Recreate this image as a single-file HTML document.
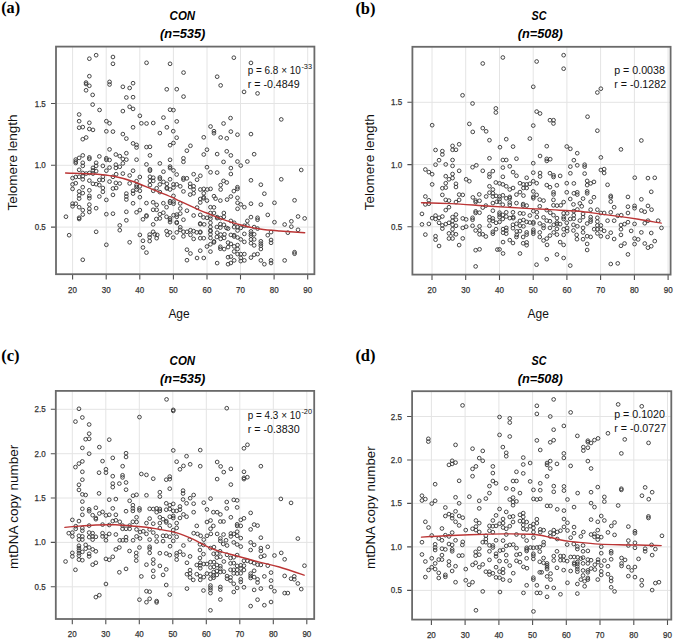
<!DOCTYPE html><html><head><meta charset="utf-8"><style>html,body{margin:0;padding:0;background:#fff;width:675px;height:642px;overflow:hidden}svg{display:block}</style></head><body>
<svg width="675" height="642" viewBox="0 0 675 642">
<rect width="675" height="642" fill="#fff"/>
<path d="M72.6 46.6V274.2 M106.2 46.6V274.2 M139.8 46.6V274.2 M173.4 46.6V274.2 M207.0 46.6V274.2 M240.5 46.6V274.2 M274.1 46.6V274.2 M307.7 46.6V274.2 M56.0 227.1H314.4 M56.0 165.3H314.4 M56.0 103.5H314.4" stroke="#e4e4e4" stroke-width="1" fill="none"/>
<path d="M432.0 46.8V274.6 M465.7 46.8V274.6 M499.5 46.8V274.6 M533.2 46.8V274.6 M566.9 46.8V274.6 M600.6 46.8V274.6 M634.4 46.8V274.6 M668.1 46.8V274.6 M412.4 226.8H670.6 M412.4 164.6H670.6 M412.4 102.3H670.6" stroke="#e4e4e4" stroke-width="1" fill="none"/>
<path d="M72.3 390.9V619.0 M105.8 390.9V619.0 M139.3 390.9V619.0 M172.8 390.9V619.0 M206.3 390.9V619.0 M239.8 390.9V619.0 M273.3 390.9V619.0 M306.8 390.9V619.0 M55.8 586.8H314.2 M55.8 542.4H314.2 M55.8 498.0H314.2 M55.8 453.7H314.2 M55.8 409.3H314.2" stroke="#e4e4e4" stroke-width="1" fill="none"/>
<path d="M431.4 391.2V619.6 M465.1 391.2V619.6 M498.9 391.2V619.6 M532.6 391.2V619.6 M566.3 391.2V619.6 M600.0 391.2V619.6 M633.8 391.2V619.6 M667.5 391.2V619.6 M412.1 590.4H671.3 M412.1 546.9H671.3 M412.1 503.4H671.3 M412.1 460.0H671.3 M412.1 416.5H671.3" stroke="#e4e4e4" stroke-width="1" fill="none"/>
<path d="M94.3 55.2a1.85 1.85 0 1 0 3.7 0a1.85 1.85 0 1 0 -3.7 0M87.5 58.7a1.85 1.85 0 1 0 3.7 0a1.85 1.85 0 1 0 -3.7 0M111.1 57.0a1.85 1.85 0 1 0 3.7 0a1.85 1.85 0 1 0 -3.7 0M111.1 63.8a1.85 1.85 0 1 0 3.7 0a1.85 1.85 0 1 0 -3.7 0M87.5 76.2a1.85 1.85 0 1 0 3.7 0a1.85 1.85 0 1 0 -3.7 0M84.2 82.6a1.85 1.85 0 1 0 3.7 0a1.85 1.85 0 1 0 -3.7 0M84.2 84.0a1.85 1.85 0 1 0 3.7 0a1.85 1.85 0 1 0 -3.7 0M87.5 85.8a1.85 1.85 0 1 0 3.7 0a1.85 1.85 0 1 0 -3.7 0M84.2 90.3a1.85 1.85 0 1 0 3.7 0a1.85 1.85 0 1 0 -3.7 0M107.7 81.9a1.85 1.85 0 1 0 3.7 0a1.85 1.85 0 1 0 -3.7 0M107.7 84.5a1.85 1.85 0 1 0 3.7 0a1.85 1.85 0 1 0 -3.7 0M131.2 83.2a1.85 1.85 0 1 0 3.7 0a1.85 1.85 0 1 0 -3.7 0M121.0 86.8a1.85 1.85 0 1 0 3.7 0a1.85 1.85 0 1 0 -3.7 0M127.8 88.0a1.85 1.85 0 1 0 3.7 0a1.85 1.85 0 1 0 -3.7 0M90.8 94.9a1.85 1.85 0 1 0 3.7 0a1.85 1.85 0 1 0 -3.7 0M124.5 97.5a1.85 1.85 0 1 0 3.7 0a1.85 1.85 0 1 0 -3.7 0M131.2 97.2a1.85 1.85 0 1 0 3.7 0a1.85 1.85 0 1 0 -3.7 0M90.8 104.6a1.85 1.85 0 1 0 3.7 0a1.85 1.85 0 1 0 -3.7 0M97.7 110.0a1.85 1.85 0 1 0 3.7 0a1.85 1.85 0 1 0 -3.7 0M127.8 106.8a1.85 1.85 0 1 0 3.7 0a1.85 1.85 0 1 0 -3.7 0M131.2 108.9a1.85 1.85 0 1 0 3.7 0a1.85 1.85 0 1 0 -3.7 0M121.0 111.1a1.85 1.85 0 1 0 3.7 0a1.85 1.85 0 1 0 -3.7 0M77.3 114.5a1.85 1.85 0 1 0 3.7 0a1.85 1.85 0 1 0 -3.7 0M138.0 115.8a1.85 1.85 0 1 0 3.7 0a1.85 1.85 0 1 0 -3.7 0M77.3 121.2a1.85 1.85 0 1 0 3.7 0a1.85 1.85 0 1 0 -3.7 0M104.5 121.2a1.85 1.85 0 1 0 3.7 0a1.85 1.85 0 1 0 -3.7 0M144.7 62.8a1.85 1.85 0 1 0 3.7 0a1.85 1.85 0 1 0 -3.7 0M168.2 63.8a1.85 1.85 0 1 0 3.7 0a1.85 1.85 0 1 0 -3.7 0M181.7 72.6a1.85 1.85 0 1 0 3.7 0a1.85 1.85 0 1 0 -3.7 0M215.3 76.7a1.85 1.85 0 1 0 3.7 0a1.85 1.85 0 1 0 -3.7 0M218.8 85.4a1.85 1.85 0 1 0 3.7 0a1.85 1.85 0 1 0 -3.7 0M164.9 89.3a1.85 1.85 0 1 0 3.7 0a1.85 1.85 0 1 0 -3.7 0M174.9 89.2a1.85 1.85 0 1 0 3.7 0a1.85 1.85 0 1 0 -3.7 0M181.7 96.6a1.85 1.85 0 1 0 3.7 0a1.85 1.85 0 1 0 -3.7 0M168.2 109.7a1.85 1.85 0 1 0 3.7 0a1.85 1.85 0 1 0 -3.7 0M171.6 110.1a1.85 1.85 0 1 0 3.7 0a1.85 1.85 0 1 0 -3.7 0M161.6 117.6a1.85 1.85 0 1 0 3.7 0a1.85 1.85 0 1 0 -3.7 0M174.9 121.4a1.85 1.85 0 1 0 3.7 0a1.85 1.85 0 1 0 -3.7 0M232.0 57.7a1.85 1.85 0 1 0 3.7 0a1.85 1.85 0 1 0 -3.7 0M249.1 62.9a1.85 1.85 0 1 0 3.7 0a1.85 1.85 0 1 0 -3.7 0M242.2 91.9a1.85 1.85 0 1 0 3.7 0a1.85 1.85 0 1 0 -3.7 0M255.7 93.4a1.85 1.85 0 1 0 3.7 0a1.85 1.85 0 1 0 -3.7 0M228.7 118.1a1.85 1.85 0 1 0 3.7 0a1.85 1.85 0 1 0 -3.7 0M279.4 119.4a1.85 1.85 0 1 0 3.7 0a1.85 1.85 0 1 0 -3.7 0M87.5 122.8a1.85 1.85 0 1 0 3.7 0a1.85 1.85 0 1 0 -3.7 0M107.7 123.3a1.85 1.85 0 1 0 3.7 0a1.85 1.85 0 1 0 -3.7 0M139.5 123.3a1.85 1.85 0 1 0 3.7 0a1.85 1.85 0 1 0 -3.7 0M77.3 127.7a1.85 1.85 0 1 0 3.7 0a1.85 1.85 0 1 0 -3.7 0M80.9 127.1a1.85 1.85 0 1 0 3.7 0a1.85 1.85 0 1 0 -3.7 0M87.5 129.0a1.85 1.85 0 1 0 3.7 0a1.85 1.85 0 1 0 -3.7 0M91.1 129.9a1.85 1.85 0 1 0 3.7 0a1.85 1.85 0 1 0 -3.7 0M104.5 131.3a1.85 1.85 0 1 0 3.7 0a1.85 1.85 0 1 0 -3.7 0M111.1 131.6a1.85 1.85 0 1 0 3.7 0a1.85 1.85 0 1 0 -3.7 0M131.2 127.3a1.85 1.85 0 1 0 3.7 0a1.85 1.85 0 1 0 -3.7 0M121.0 134.1a1.85 1.85 0 1 0 3.7 0a1.85 1.85 0 1 0 -3.7 0M124.5 138.6a1.85 1.85 0 1 0 3.7 0a1.85 1.85 0 1 0 -3.7 0M80.9 139.2a1.85 1.85 0 1 0 3.7 0a1.85 1.85 0 1 0 -3.7 0M84.3 137.5a1.85 1.85 0 1 0 3.7 0a1.85 1.85 0 1 0 -3.7 0M131.2 143.4a1.85 1.85 0 1 0 3.7 0a1.85 1.85 0 1 0 -3.7 0M134.7 144.9a1.85 1.85 0 1 0 3.7 0a1.85 1.85 0 1 0 -3.7 0M134.7 147.5a1.85 1.85 0 1 0 3.7 0a1.85 1.85 0 1 0 -3.7 0M107.7 149.4a1.85 1.85 0 1 0 3.7 0a1.85 1.85 0 1 0 -3.7 0M114.0 154.5a1.85 1.85 0 1 0 3.7 0a1.85 1.85 0 1 0 -3.7 0M117.9 156.1a1.85 1.85 0 1 0 3.7 0a1.85 1.85 0 1 0 -3.7 0M121.0 158.9a1.85 1.85 0 1 0 3.7 0a1.85 1.85 0 1 0 -3.7 0M124.5 159.6a1.85 1.85 0 1 0 3.7 0a1.85 1.85 0 1 0 -3.7 0M124.5 153.2a1.85 1.85 0 1 0 3.7 0a1.85 1.85 0 1 0 -3.7 0M80.9 155.4a1.85 1.85 0 1 0 3.7 0a1.85 1.85 0 1 0 -3.7 0M77.3 157.9a1.85 1.85 0 1 0 3.7 0a1.85 1.85 0 1 0 -3.7 0M73.9 159.6a1.85 1.85 0 1 0 3.7 0a1.85 1.85 0 1 0 -3.7 0M73.9 161.5a1.85 1.85 0 1 0 3.7 0a1.85 1.85 0 1 0 -3.7 0M73.9 163.0a1.85 1.85 0 1 0 3.7 0a1.85 1.85 0 1 0 -3.7 0M87.5 157.4a1.85 1.85 0 1 0 3.7 0a1.85 1.85 0 1 0 -3.7 0M87.5 158.9a1.85 1.85 0 1 0 3.7 0a1.85 1.85 0 1 0 -3.7 0M97.5 156.4a1.85 1.85 0 1 0 3.7 0a1.85 1.85 0 1 0 -3.7 0M104.5 158.3a1.85 1.85 0 1 0 3.7 0a1.85 1.85 0 1 0 -3.7 0M104.5 159.8a1.85 1.85 0 1 0 3.7 0a1.85 1.85 0 1 0 -3.7 0M107.7 160.0a1.85 1.85 0 1 0 3.7 0a1.85 1.85 0 1 0 -3.7 0M134.7 159.7a1.85 1.85 0 1 0 3.7 0a1.85 1.85 0 1 0 -3.7 0M80.9 162.8a1.85 1.85 0 1 0 3.7 0a1.85 1.85 0 1 0 -3.7 0M80.9 165.9a1.85 1.85 0 1 0 3.7 0a1.85 1.85 0 1 0 -3.7 0M94.3 162.8a1.85 1.85 0 1 0 3.7 0a1.85 1.85 0 1 0 -3.7 0M94.3 165.9a1.85 1.85 0 1 0 3.7 0a1.85 1.85 0 1 0 -3.7 0M77.3 169.8a1.85 1.85 0 1 0 3.7 0a1.85 1.85 0 1 0 -3.7 0M91.1 167.9a1.85 1.85 0 1 0 3.7 0a1.85 1.85 0 1 0 -3.7 0M91.1 170.4a1.85 1.85 0 1 0 3.7 0a1.85 1.85 0 1 0 -3.7 0M94.3 171.1a1.85 1.85 0 1 0 3.7 0a1.85 1.85 0 1 0 -3.7 0M101.0 165.9a1.85 1.85 0 1 0 3.7 0a1.85 1.85 0 1 0 -3.7 0M107.7 167.6a1.85 1.85 0 1 0 3.7 0a1.85 1.85 0 1 0 -3.7 0M104.5 170.7a1.85 1.85 0 1 0 3.7 0a1.85 1.85 0 1 0 -3.7 0M114.0 164.7a1.85 1.85 0 1 0 3.7 0a1.85 1.85 0 1 0 -3.7 0M114.0 167.9a1.85 1.85 0 1 0 3.7 0a1.85 1.85 0 1 0 -3.7 0M117.9 166.8a1.85 1.85 0 1 0 3.7 0a1.85 1.85 0 1 0 -3.7 0M121.0 163.4a1.85 1.85 0 1 0 3.7 0a1.85 1.85 0 1 0 -3.7 0M131.2 170.7a1.85 1.85 0 1 0 3.7 0a1.85 1.85 0 1 0 -3.7 0M80.9 173.0a1.85 1.85 0 1 0 3.7 0a1.85 1.85 0 1 0 -3.7 0M84.3 173.6a1.85 1.85 0 1 0 3.7 0a1.85 1.85 0 1 0 -3.7 0M87.5 173.0a1.85 1.85 0 1 0 3.7 0a1.85 1.85 0 1 0 -3.7 0M91.1 173.6a1.85 1.85 0 1 0 3.7 0a1.85 1.85 0 1 0 -3.7 0M70.7 178.1a1.85 1.85 0 1 0 3.7 0a1.85 1.85 0 1 0 -3.7 0M73.9 177.0a1.85 1.85 0 1 0 3.7 0a1.85 1.85 0 1 0 -3.7 0M77.3 176.8a1.85 1.85 0 1 0 3.7 0a1.85 1.85 0 1 0 -3.7 0M80.9 176.2a1.85 1.85 0 1 0 3.7 0a1.85 1.85 0 1 0 -3.7 0M80.9 179.3a1.85 1.85 0 1 0 3.7 0a1.85 1.85 0 1 0 -3.7 0M97.5 180.0a1.85 1.85 0 1 0 3.7 0a1.85 1.85 0 1 0 -3.7 0M101.0 176.8a1.85 1.85 0 1 0 3.7 0a1.85 1.85 0 1 0 -3.7 0M101.0 180.0a1.85 1.85 0 1 0 3.7 0a1.85 1.85 0 1 0 -3.7 0M111.1 176.8a1.85 1.85 0 1 0 3.7 0a1.85 1.85 0 1 0 -3.7 0M114.3 174.2a1.85 1.85 0 1 0 3.7 0a1.85 1.85 0 1 0 -3.7 0M121.0 173.6a1.85 1.85 0 1 0 3.7 0a1.85 1.85 0 1 0 -3.7 0M127.8 175.5a1.85 1.85 0 1 0 3.7 0a1.85 1.85 0 1 0 -3.7 0M138.0 177.0a1.85 1.85 0 1 0 3.7 0a1.85 1.85 0 1 0 -3.7 0M70.7 184.4a1.85 1.85 0 1 0 3.7 0a1.85 1.85 0 1 0 -3.7 0M73.9 183.2a1.85 1.85 0 1 0 3.7 0a1.85 1.85 0 1 0 -3.7 0M87.5 180.6a1.85 1.85 0 1 0 3.7 0a1.85 1.85 0 1 0 -3.7 0M91.1 183.8a1.85 1.85 0 1 0 3.7 0a1.85 1.85 0 1 0 -3.7 0M94.3 184.2a1.85 1.85 0 1 0 3.7 0a1.85 1.85 0 1 0 -3.7 0M97.5 185.1a1.85 1.85 0 1 0 3.7 0a1.85 1.85 0 1 0 -3.7 0M107.7 181.6a1.85 1.85 0 1 0 3.7 0a1.85 1.85 0 1 0 -3.7 0M114.0 182.9a1.85 1.85 0 1 0 3.7 0a1.85 1.85 0 1 0 -3.7 0M117.9 183.5a1.85 1.85 0 1 0 3.7 0a1.85 1.85 0 1 0 -3.7 0M127.8 183.4a1.85 1.85 0 1 0 3.7 0a1.85 1.85 0 1 0 -3.7 0M134.7 181.2a1.85 1.85 0 1 0 3.7 0a1.85 1.85 0 1 0 -3.7 0M70.7 188.9a1.85 1.85 0 1 0 3.7 0a1.85 1.85 0 1 0 -3.7 0M80.9 187.2a1.85 1.85 0 1 0 3.7 0a1.85 1.85 0 1 0 -3.7 0M101.0 188.0a1.85 1.85 0 1 0 3.7 0a1.85 1.85 0 1 0 -3.7 0M101.0 191.8a1.85 1.85 0 1 0 3.7 0a1.85 1.85 0 1 0 -3.7 0M111.1 188.5a1.85 1.85 0 1 0 3.7 0a1.85 1.85 0 1 0 -3.7 0M114.3 188.0a1.85 1.85 0 1 0 3.7 0a1.85 1.85 0 1 0 -3.7 0M134.7 185.1a1.85 1.85 0 1 0 3.7 0a1.85 1.85 0 1 0 -3.7 0M134.7 187.0a1.85 1.85 0 1 0 3.7 0a1.85 1.85 0 1 0 -3.7 0M138.0 186.3a1.85 1.85 0 1 0 3.7 0a1.85 1.85 0 1 0 -3.7 0M134.7 189.5a1.85 1.85 0 1 0 3.7 0a1.85 1.85 0 1 0 -3.7 0M138.0 190.8a1.85 1.85 0 1 0 3.7 0a1.85 1.85 0 1 0 -3.7 0M77.3 191.4a1.85 1.85 0 1 0 3.7 0a1.85 1.85 0 1 0 -3.7 0M80.9 193.1a1.85 1.85 0 1 0 3.7 0a1.85 1.85 0 1 0 -3.7 0M87.5 190.3a1.85 1.85 0 1 0 3.7 0a1.85 1.85 0 1 0 -3.7 0M131.2 190.8a1.85 1.85 0 1 0 3.7 0a1.85 1.85 0 1 0 -3.7 0M131.2 193.6a1.85 1.85 0 1 0 3.7 0a1.85 1.85 0 1 0 -3.7 0M124.5 193.6a1.85 1.85 0 1 0 3.7 0a1.85 1.85 0 1 0 -3.7 0M77.3 195.3a1.85 1.85 0 1 0 3.7 0a1.85 1.85 0 1 0 -3.7 0M87.5 195.9a1.85 1.85 0 1 0 3.7 0a1.85 1.85 0 1 0 -3.7 0M97.5 196.5a1.85 1.85 0 1 0 3.7 0a1.85 1.85 0 1 0 -3.7 0M111.1 194.9a1.85 1.85 0 1 0 3.7 0a1.85 1.85 0 1 0 -3.7 0M124.5 196.5a1.85 1.85 0 1 0 3.7 0a1.85 1.85 0 1 0 -3.7 0M138.0 197.2a1.85 1.85 0 1 0 3.7 0a1.85 1.85 0 1 0 -3.7 0M144.7 123.5a1.85 1.85 0 1 0 3.7 0a1.85 1.85 0 1 0 -3.7 0M151.4 123.0a1.85 1.85 0 1 0 3.7 0a1.85 1.85 0 1 0 -3.7 0M221.7 123.5a1.85 1.85 0 1 0 3.7 0a1.85 1.85 0 1 0 -3.7 0M165.0 127.3a1.85 1.85 0 1 0 3.7 0a1.85 1.85 0 1 0 -3.7 0M158.0 133.1a1.85 1.85 0 1 0 3.7 0a1.85 1.85 0 1 0 -3.7 0M171.4 131.2a1.85 1.85 0 1 0 3.7 0a1.85 1.85 0 1 0 -3.7 0M174.8 137.7a1.85 1.85 0 1 0 3.7 0a1.85 1.85 0 1 0 -3.7 0M208.7 126.5a1.85 1.85 0 1 0 3.7 0a1.85 1.85 0 1 0 -3.7 0M212.1 131.2a1.85 1.85 0 1 0 3.7 0a1.85 1.85 0 1 0 -3.7 0M212.1 133.2a1.85 1.85 0 1 0 3.7 0a1.85 1.85 0 1 0 -3.7 0M201.9 137.3a1.85 1.85 0 1 0 3.7 0a1.85 1.85 0 1 0 -3.7 0M218.8 137.5a1.85 1.85 0 1 0 3.7 0a1.85 1.85 0 1 0 -3.7 0M224.9 138.3a1.85 1.85 0 1 0 3.7 0a1.85 1.85 0 1 0 -3.7 0M168.2 145.2a1.85 1.85 0 1 0 3.7 0a1.85 1.85 0 1 0 -3.7 0M171.6 143.0a1.85 1.85 0 1 0 3.7 0a1.85 1.85 0 1 0 -3.7 0M144.6 147.1a1.85 1.85 0 1 0 3.7 0a1.85 1.85 0 1 0 -3.7 0M148.1 146.8a1.85 1.85 0 1 0 3.7 0a1.85 1.85 0 1 0 -3.7 0M188.6 145.8a1.85 1.85 0 1 0 3.7 0a1.85 1.85 0 1 0 -3.7 0M185.0 150.7a1.85 1.85 0 1 0 3.7 0a1.85 1.85 0 1 0 -3.7 0M205.1 149.7a1.85 1.85 0 1 0 3.7 0a1.85 1.85 0 1 0 -3.7 0M201.9 154.5a1.85 1.85 0 1 0 3.7 0a1.85 1.85 0 1 0 -3.7 0M215.3 154.1a1.85 1.85 0 1 0 3.7 0a1.85 1.85 0 1 0 -3.7 0M224.9 151.3a1.85 1.85 0 1 0 3.7 0a1.85 1.85 0 1 0 -3.7 0M148.1 155.4a1.85 1.85 0 1 0 3.7 0a1.85 1.85 0 1 0 -3.7 0M181.6 158.3a1.85 1.85 0 1 0 3.7 0a1.85 1.85 0 1 0 -3.7 0M181.6 161.8a1.85 1.85 0 1 0 3.7 0a1.85 1.85 0 1 0 -3.7 0M168.2 159.8a1.85 1.85 0 1 0 3.7 0a1.85 1.85 0 1 0 -3.7 0M158.0 163.4a1.85 1.85 0 1 0 3.7 0a1.85 1.85 0 1 0 -3.7 0M144.6 164.4a1.85 1.85 0 1 0 3.7 0a1.85 1.85 0 1 0 -3.7 0M221.7 161.9a1.85 1.85 0 1 0 3.7 0a1.85 1.85 0 1 0 -3.7 0M148.1 169.4a1.85 1.85 0 1 0 3.7 0a1.85 1.85 0 1 0 -3.7 0M148.1 170.7a1.85 1.85 0 1 0 3.7 0a1.85 1.85 0 1 0 -3.7 0M168.2 166.6a1.85 1.85 0 1 0 3.7 0a1.85 1.85 0 1 0 -3.7 0M168.2 168.1a1.85 1.85 0 1 0 3.7 0a1.85 1.85 0 1 0 -3.7 0M171.6 170.4a1.85 1.85 0 1 0 3.7 0a1.85 1.85 0 1 0 -3.7 0M161.6 171.7a1.85 1.85 0 1 0 3.7 0a1.85 1.85 0 1 0 -3.7 0M174.8 174.5a1.85 1.85 0 1 0 3.7 0a1.85 1.85 0 1 0 -3.7 0M205.1 167.2a1.85 1.85 0 1 0 3.7 0a1.85 1.85 0 1 0 -3.7 0M208.7 172.3a1.85 1.85 0 1 0 3.7 0a1.85 1.85 0 1 0 -3.7 0M215.3 172.6a1.85 1.85 0 1 0 3.7 0a1.85 1.85 0 1 0 -3.7 0M191.8 174.2a1.85 1.85 0 1 0 3.7 0a1.85 1.85 0 1 0 -3.7 0M198.5 175.8a1.85 1.85 0 1 0 3.7 0a1.85 1.85 0 1 0 -3.7 0M195.2 179.7a1.85 1.85 0 1 0 3.7 0a1.85 1.85 0 1 0 -3.7 0M148.1 176.8a1.85 1.85 0 1 0 3.7 0a1.85 1.85 0 1 0 -3.7 0M151.4 177.7a1.85 1.85 0 1 0 3.7 0a1.85 1.85 0 1 0 -3.7 0M148.1 180.9a1.85 1.85 0 1 0 3.7 0a1.85 1.85 0 1 0 -3.7 0M151.4 180.9a1.85 1.85 0 1 0 3.7 0a1.85 1.85 0 1 0 -3.7 0M158.0 177.4a1.85 1.85 0 1 0 3.7 0a1.85 1.85 0 1 0 -3.7 0M158.0 178.9a1.85 1.85 0 1 0 3.7 0a1.85 1.85 0 1 0 -3.7 0M158.0 184.4a1.85 1.85 0 1 0 3.7 0a1.85 1.85 0 1 0 -3.7 0M168.2 179.3a1.85 1.85 0 1 0 3.7 0a1.85 1.85 0 1 0 -3.7 0M181.6 178.1a1.85 1.85 0 1 0 3.7 0a1.85 1.85 0 1 0 -3.7 0M181.6 179.6a1.85 1.85 0 1 0 3.7 0a1.85 1.85 0 1 0 -3.7 0M185.0 178.3a1.85 1.85 0 1 0 3.7 0a1.85 1.85 0 1 0 -3.7 0M161.6 181.9a1.85 1.85 0 1 0 3.7 0a1.85 1.85 0 1 0 -3.7 0M165.0 183.8a1.85 1.85 0 1 0 3.7 0a1.85 1.85 0 1 0 -3.7 0M165.0 187.6a1.85 1.85 0 1 0 3.7 0a1.85 1.85 0 1 0 -3.7 0M165.0 188.5a1.85 1.85 0 1 0 3.7 0a1.85 1.85 0 1 0 -3.7 0M171.6 184.4a1.85 1.85 0 1 0 3.7 0a1.85 1.85 0 1 0 -3.7 0M174.8 184.4a1.85 1.85 0 1 0 3.7 0a1.85 1.85 0 1 0 -3.7 0M178.4 186.3a1.85 1.85 0 1 0 3.7 0a1.85 1.85 0 1 0 -3.7 0M148.1 185.1a1.85 1.85 0 1 0 3.7 0a1.85 1.85 0 1 0 -3.7 0M151.4 190.8a1.85 1.85 0 1 0 3.7 0a1.85 1.85 0 1 0 -3.7 0M154.8 188.2a1.85 1.85 0 1 0 3.7 0a1.85 1.85 0 1 0 -3.7 0M158.0 192.1a1.85 1.85 0 1 0 3.7 0a1.85 1.85 0 1 0 -3.7 0M168.2 189.5a1.85 1.85 0 1 0 3.7 0a1.85 1.85 0 1 0 -3.7 0M171.6 187.6a1.85 1.85 0 1 0 3.7 0a1.85 1.85 0 1 0 -3.7 0M181.6 191.4a1.85 1.85 0 1 0 3.7 0a1.85 1.85 0 1 0 -3.7 0M188.3 183.8a1.85 1.85 0 1 0 3.7 0a1.85 1.85 0 1 0 -3.7 0M188.3 187.0a1.85 1.85 0 1 0 3.7 0a1.85 1.85 0 1 0 -3.7 0M191.8 186.3a1.85 1.85 0 1 0 3.7 0a1.85 1.85 0 1 0 -3.7 0M191.8 189.5a1.85 1.85 0 1 0 3.7 0a1.85 1.85 0 1 0 -3.7 0M188.3 194.6a1.85 1.85 0 1 0 3.7 0a1.85 1.85 0 1 0 -3.7 0M191.8 193.3a1.85 1.85 0 1 0 3.7 0a1.85 1.85 0 1 0 -3.7 0M198.5 189.5a1.85 1.85 0 1 0 3.7 0a1.85 1.85 0 1 0 -3.7 0M201.9 188.9a1.85 1.85 0 1 0 3.7 0a1.85 1.85 0 1 0 -3.7 0M205.4 189.5a1.85 1.85 0 1 0 3.7 0a1.85 1.85 0 1 0 -3.7 0M208.7 188.9a1.85 1.85 0 1 0 3.7 0a1.85 1.85 0 1 0 -3.7 0M201.9 193.3a1.85 1.85 0 1 0 3.7 0a1.85 1.85 0 1 0 -3.7 0M218.8 185.1a1.85 1.85 0 1 0 3.7 0a1.85 1.85 0 1 0 -3.7 0M218.8 189.5a1.85 1.85 0 1 0 3.7 0a1.85 1.85 0 1 0 -3.7 0M221.7 180.9a1.85 1.85 0 1 0 3.7 0a1.85 1.85 0 1 0 -3.7 0M224.9 182.5a1.85 1.85 0 1 0 3.7 0a1.85 1.85 0 1 0 -3.7 0M171.6 195.9a1.85 1.85 0 1 0 3.7 0a1.85 1.85 0 1 0 -3.7 0M212.1 196.2a1.85 1.85 0 1 0 3.7 0a1.85 1.85 0 1 0 -3.7 0M201.9 197.2a1.85 1.85 0 1 0 3.7 0a1.85 1.85 0 1 0 -3.7 0M229.0 131.6a1.85 1.85 0 1 0 3.7 0a1.85 1.85 0 1 0 -3.7 0M235.6 134.7a1.85 1.85 0 1 0 3.7 0a1.85 1.85 0 1 0 -3.7 0M249.1 134.1a1.85 1.85 0 1 0 3.7 0a1.85 1.85 0 1 0 -3.7 0M229.0 155.4a1.85 1.85 0 1 0 3.7 0a1.85 1.85 0 1 0 -3.7 0M252.3 154.2a1.85 1.85 0 1 0 3.7 0a1.85 1.85 0 1 0 -3.7 0M235.6 161.5a1.85 1.85 0 1 0 3.7 0a1.85 1.85 0 1 0 -3.7 0M245.5 161.5a1.85 1.85 0 1 0 3.7 0a1.85 1.85 0 1 0 -3.7 0M238.9 165.6a1.85 1.85 0 1 0 3.7 0a1.85 1.85 0 1 0 -3.7 0M229.0 168.1a1.85 1.85 0 1 0 3.7 0a1.85 1.85 0 1 0 -3.7 0M229.0 174.0a1.85 1.85 0 1 0 3.7 0a1.85 1.85 0 1 0 -3.7 0M299.4 170.0a1.85 1.85 0 1 0 3.7 0a1.85 1.85 0 1 0 -3.7 0M249.1 180.3a1.85 1.85 0 1 0 3.7 0a1.85 1.85 0 1 0 -3.7 0M259.0 184.7a1.85 1.85 0 1 0 3.7 0a1.85 1.85 0 1 0 -3.7 0M279.4 179.3a1.85 1.85 0 1 0 3.7 0a1.85 1.85 0 1 0 -3.7 0M235.6 187.2a1.85 1.85 0 1 0 3.7 0a1.85 1.85 0 1 0 -3.7 0M235.6 188.9a1.85 1.85 0 1 0 3.7 0a1.85 1.85 0 1 0 -3.7 0M232.0 191.1a1.85 1.85 0 1 0 3.7 0a1.85 1.85 0 1 0 -3.7 0M262.5 193.7a1.85 1.85 0 1 0 3.7 0a1.85 1.85 0 1 0 -3.7 0M229.0 196.5a1.85 1.85 0 1 0 3.7 0a1.85 1.85 0 1 0 -3.7 0M235.6 197.8a1.85 1.85 0 1 0 3.7 0a1.85 1.85 0 1 0 -3.7 0M77.3 198.6a1.85 1.85 0 1 0 3.7 0a1.85 1.85 0 1 0 -3.7 0M87.5 198.2a1.85 1.85 0 1 0 3.7 0a1.85 1.85 0 1 0 -3.7 0M104.5 199.9a1.85 1.85 0 1 0 3.7 0a1.85 1.85 0 1 0 -3.7 0M124.5 199.5a1.85 1.85 0 1 0 3.7 0a1.85 1.85 0 1 0 -3.7 0M70.7 203.7a1.85 1.85 0 1 0 3.7 0a1.85 1.85 0 1 0 -3.7 0M70.7 206.3a1.85 1.85 0 1 0 3.7 0a1.85 1.85 0 1 0 -3.7 0M73.9 203.7a1.85 1.85 0 1 0 3.7 0a1.85 1.85 0 1 0 -3.7 0M77.3 207.2a1.85 1.85 0 1 0 3.7 0a1.85 1.85 0 1 0 -3.7 0M80.9 210.1a1.85 1.85 0 1 0 3.7 0a1.85 1.85 0 1 0 -3.7 0M80.9 214.6a1.85 1.85 0 1 0 3.7 0a1.85 1.85 0 1 0 -3.7 0M77.3 217.8a1.85 1.85 0 1 0 3.7 0a1.85 1.85 0 1 0 -3.7 0M77.3 219.0a1.85 1.85 0 1 0 3.7 0a1.85 1.85 0 1 0 -3.7 0M87.5 204.6a1.85 1.85 0 1 0 3.7 0a1.85 1.85 0 1 0 -3.7 0M87.5 208.8a1.85 1.85 0 1 0 3.7 0a1.85 1.85 0 1 0 -3.7 0M87.5 212.0a1.85 1.85 0 1 0 3.7 0a1.85 1.85 0 1 0 -3.7 0M94.3 208.2a1.85 1.85 0 1 0 3.7 0a1.85 1.85 0 1 0 -3.7 0M64.1 216.7a1.85 1.85 0 1 0 3.7 0a1.85 1.85 0 1 0 -3.7 0M104.5 214.2a1.85 1.85 0 1 0 3.7 0a1.85 1.85 0 1 0 -3.7 0M111.1 213.7a1.85 1.85 0 1 0 3.7 0a1.85 1.85 0 1 0 -3.7 0M124.5 211.8a1.85 1.85 0 1 0 3.7 0a1.85 1.85 0 1 0 -3.7 0M124.5 220.3a1.85 1.85 0 1 0 3.7 0a1.85 1.85 0 1 0 -3.7 0M131.2 203.3a1.85 1.85 0 1 0 3.7 0a1.85 1.85 0 1 0 -3.7 0M134.7 212.3a1.85 1.85 0 1 0 3.7 0a1.85 1.85 0 1 0 -3.7 0M138.0 210.1a1.85 1.85 0 1 0 3.7 0a1.85 1.85 0 1 0 -3.7 0M117.9 225.4a1.85 1.85 0 1 0 3.7 0a1.85 1.85 0 1 0 -3.7 0M117.9 230.2a1.85 1.85 0 1 0 3.7 0a1.85 1.85 0 1 0 -3.7 0M94.3 231.8a1.85 1.85 0 1 0 3.7 0a1.85 1.85 0 1 0 -3.7 0M67.3 235.2a1.85 1.85 0 1 0 3.7 0a1.85 1.85 0 1 0 -3.7 0M138.0 234.9a1.85 1.85 0 1 0 3.7 0a1.85 1.85 0 1 0 -3.7 0M127.8 242.3a1.85 1.85 0 1 0 3.7 0a1.85 1.85 0 1 0 -3.7 0M104.5 244.8a1.85 1.85 0 1 0 3.7 0a1.85 1.85 0 1 0 -3.7 0M80.9 259.8a1.85 1.85 0 1 0 3.7 0a1.85 1.85 0 1 0 -3.7 0M144.6 203.1a1.85 1.85 0 1 0 3.7 0a1.85 1.85 0 1 0 -3.7 0M151.3 202.3a1.85 1.85 0 1 0 3.7 0a1.85 1.85 0 1 0 -3.7 0M154.8 204.9a1.85 1.85 0 1 0 3.7 0a1.85 1.85 0 1 0 -3.7 0M151.3 209.8a1.85 1.85 0 1 0 3.7 0a1.85 1.85 0 1 0 -3.7 0M154.8 209.8a1.85 1.85 0 1 0 3.7 0a1.85 1.85 0 1 0 -3.7 0M161.5 203.2a1.85 1.85 0 1 0 3.7 0a1.85 1.85 0 1 0 -3.7 0M164.7 207.2a1.85 1.85 0 1 0 3.7 0a1.85 1.85 0 1 0 -3.7 0M168.2 201.2a1.85 1.85 0 1 0 3.7 0a1.85 1.85 0 1 0 -3.7 0M168.2 202.8a1.85 1.85 0 1 0 3.7 0a1.85 1.85 0 1 0 -3.7 0M171.7 201.5a1.85 1.85 0 1 0 3.7 0a1.85 1.85 0 1 0 -3.7 0M171.7 203.7a1.85 1.85 0 1 0 3.7 0a1.85 1.85 0 1 0 -3.7 0M178.4 203.4a1.85 1.85 0 1 0 3.7 0a1.85 1.85 0 1 0 -3.7 0M178.4 208.5a1.85 1.85 0 1 0 3.7 0a1.85 1.85 0 1 0 -3.7 0M178.4 213.6a1.85 1.85 0 1 0 3.7 0a1.85 1.85 0 1 0 -3.7 0M144.6 215.5a1.85 1.85 0 1 0 3.7 0a1.85 1.85 0 1 0 -3.7 0M144.6 216.3a1.85 1.85 0 1 0 3.7 0a1.85 1.85 0 1 0 -3.7 0M141.1 219.3a1.85 1.85 0 1 0 3.7 0a1.85 1.85 0 1 0 -3.7 0M158.0 214.2a1.85 1.85 0 1 0 3.7 0a1.85 1.85 0 1 0 -3.7 0M161.5 212.7a1.85 1.85 0 1 0 3.7 0a1.85 1.85 0 1 0 -3.7 0M158.0 218.4a1.85 1.85 0 1 0 3.7 0a1.85 1.85 0 1 0 -3.7 0M154.5 219.0a1.85 1.85 0 1 0 3.7 0a1.85 1.85 0 1 0 -3.7 0M164.7 216.8a1.85 1.85 0 1 0 3.7 0a1.85 1.85 0 1 0 -3.7 0M168.2 218.4a1.85 1.85 0 1 0 3.7 0a1.85 1.85 0 1 0 -3.7 0M168.2 220.0a1.85 1.85 0 1 0 3.7 0a1.85 1.85 0 1 0 -3.7 0M168.2 222.1a1.85 1.85 0 1 0 3.7 0a1.85 1.85 0 1 0 -3.7 0M171.7 215.2a1.85 1.85 0 1 0 3.7 0a1.85 1.85 0 1 0 -3.7 0M174.9 214.6a1.85 1.85 0 1 0 3.7 0a1.85 1.85 0 1 0 -3.7 0M174.9 216.8a1.85 1.85 0 1 0 3.7 0a1.85 1.85 0 1 0 -3.7 0M174.9 222.2a1.85 1.85 0 1 0 3.7 0a1.85 1.85 0 1 0 -3.7 0M174.9 223.0a1.85 1.85 0 1 0 3.7 0a1.85 1.85 0 1 0 -3.7 0M181.6 219.7a1.85 1.85 0 1 0 3.7 0a1.85 1.85 0 1 0 -3.7 0M151.3 224.4a1.85 1.85 0 1 0 3.7 0a1.85 1.85 0 1 0 -3.7 0M178.4 227.3a1.85 1.85 0 1 0 3.7 0a1.85 1.85 0 1 0 -3.7 0M178.4 229.8a1.85 1.85 0 1 0 3.7 0a1.85 1.85 0 1 0 -3.7 0M174.9 232.4a1.85 1.85 0 1 0 3.7 0a1.85 1.85 0 1 0 -3.7 0M181.6 231.8a1.85 1.85 0 1 0 3.7 0a1.85 1.85 0 1 0 -3.7 0M151.3 231.8a1.85 1.85 0 1 0 3.7 0a1.85 1.85 0 1 0 -3.7 0M147.8 234.6a1.85 1.85 0 1 0 3.7 0a1.85 1.85 0 1 0 -3.7 0M152.9 234.3a1.85 1.85 0 1 0 3.7 0a1.85 1.85 0 1 0 -3.7 0M155.4 234.9a1.85 1.85 0 1 0 3.7 0a1.85 1.85 0 1 0 -3.7 0M164.7 231.1a1.85 1.85 0 1 0 3.7 0a1.85 1.85 0 1 0 -3.7 0M168.2 232.4a1.85 1.85 0 1 0 3.7 0a1.85 1.85 0 1 0 -3.7 0M165.6 234.9a1.85 1.85 0 1 0 3.7 0a1.85 1.85 0 1 0 -3.7 0M198.4 199.0a1.85 1.85 0 1 0 3.7 0a1.85 1.85 0 1 0 -3.7 0M201.6 198.3a1.85 1.85 0 1 0 3.7 0a1.85 1.85 0 1 0 -3.7 0M205.1 200.6a1.85 1.85 0 1 0 3.7 0a1.85 1.85 0 1 0 -3.7 0M198.4 202.5a1.85 1.85 0 1 0 3.7 0a1.85 1.85 0 1 0 -3.7 0M213.7 198.6a1.85 1.85 0 1 0 3.7 0a1.85 1.85 0 1 0 -3.7 0M218.5 200.6a1.85 1.85 0 1 0 3.7 0a1.85 1.85 0 1 0 -3.7 0M225.2 199.6a1.85 1.85 0 1 0 3.7 0a1.85 1.85 0 1 0 -3.7 0M195.2 207.6a1.85 1.85 0 1 0 3.7 0a1.85 1.85 0 1 0 -3.7 0M185.1 210.7a1.85 1.85 0 1 0 3.7 0a1.85 1.85 0 1 0 -3.7 0M208.6 207.2a1.85 1.85 0 1 0 3.7 0a1.85 1.85 0 1 0 -3.7 0M212.1 207.4a1.85 1.85 0 1 0 3.7 0a1.85 1.85 0 1 0 -3.7 0M208.6 213.0a1.85 1.85 0 1 0 3.7 0a1.85 1.85 0 1 0 -3.7 0M212.1 213.0a1.85 1.85 0 1 0 3.7 0a1.85 1.85 0 1 0 -3.7 0M222.0 213.0a1.85 1.85 0 1 0 3.7 0a1.85 1.85 0 1 0 -3.7 0M222.0 216.8a1.85 1.85 0 1 0 3.7 0a1.85 1.85 0 1 0 -3.7 0M191.8 215.5a1.85 1.85 0 1 0 3.7 0a1.85 1.85 0 1 0 -3.7 0M198.4 214.9a1.85 1.85 0 1 0 3.7 0a1.85 1.85 0 1 0 -3.7 0M201.6 217.4a1.85 1.85 0 1 0 3.7 0a1.85 1.85 0 1 0 -3.7 0M205.1 217.8a1.85 1.85 0 1 0 3.7 0a1.85 1.85 0 1 0 -3.7 0M208.6 216.2a1.85 1.85 0 1 0 3.7 0a1.85 1.85 0 1 0 -3.7 0M208.6 218.7a1.85 1.85 0 1 0 3.7 0a1.85 1.85 0 1 0 -3.7 0M215.3 217.1a1.85 1.85 0 1 0 3.7 0a1.85 1.85 0 1 0 -3.7 0M215.3 218.1a1.85 1.85 0 1 0 3.7 0a1.85 1.85 0 1 0 -3.7 0M218.8 218.1a1.85 1.85 0 1 0 3.7 0a1.85 1.85 0 1 0 -3.7 0M198.4 223.5a1.85 1.85 0 1 0 3.7 0a1.85 1.85 0 1 0 -3.7 0M198.4 224.2a1.85 1.85 0 1 0 3.7 0a1.85 1.85 0 1 0 -3.7 0M202.3 224.4a1.85 1.85 0 1 0 3.7 0a1.85 1.85 0 1 0 -3.7 0M208.6 222.8a1.85 1.85 0 1 0 3.7 0a1.85 1.85 0 1 0 -3.7 0M208.6 227.0a1.85 1.85 0 1 0 3.7 0a1.85 1.85 0 1 0 -3.7 0M208.6 230.5a1.85 1.85 0 1 0 3.7 0a1.85 1.85 0 1 0 -3.7 0M208.6 231.2a1.85 1.85 0 1 0 3.7 0a1.85 1.85 0 1 0 -3.7 0M208.6 234.3a1.85 1.85 0 1 0 3.7 0a1.85 1.85 0 1 0 -3.7 0M218.5 224.1a1.85 1.85 0 1 0 3.7 0a1.85 1.85 0 1 0 -3.7 0M222.0 224.8a1.85 1.85 0 1 0 3.7 0a1.85 1.85 0 1 0 -3.7 0M215.0 227.0a1.85 1.85 0 1 0 3.7 0a1.85 1.85 0 1 0 -3.7 0M218.5 227.6a1.85 1.85 0 1 0 3.7 0a1.85 1.85 0 1 0 -3.7 0M224.6 227.9a1.85 1.85 0 1 0 3.7 0a1.85 1.85 0 1 0 -3.7 0M185.1 231.8a1.85 1.85 0 1 0 3.7 0a1.85 1.85 0 1 0 -3.7 0M188.6 230.2a1.85 1.85 0 1 0 3.7 0a1.85 1.85 0 1 0 -3.7 0M191.8 231.1a1.85 1.85 0 1 0 3.7 0a1.85 1.85 0 1 0 -3.7 0M194.9 232.4a1.85 1.85 0 1 0 3.7 0a1.85 1.85 0 1 0 -3.7 0M198.4 231.8a1.85 1.85 0 1 0 3.7 0a1.85 1.85 0 1 0 -3.7 0M198.4 232.5a1.85 1.85 0 1 0 3.7 0a1.85 1.85 0 1 0 -3.7 0M188.6 234.9a1.85 1.85 0 1 0 3.7 0a1.85 1.85 0 1 0 -3.7 0M215.3 232.7a1.85 1.85 0 1 0 3.7 0a1.85 1.85 0 1 0 -3.7 0M218.8 234.6a1.85 1.85 0 1 0 3.7 0a1.85 1.85 0 1 0 -3.7 0M222.6 234.3a1.85 1.85 0 1 0 3.7 0a1.85 1.85 0 1 0 -3.7 0M147.8 237.3a1.85 1.85 0 1 0 3.7 0a1.85 1.85 0 1 0 -3.7 0M147.8 241.1a1.85 1.85 0 1 0 3.7 0a1.85 1.85 0 1 0 -3.7 0M154.8 238.2a1.85 1.85 0 1 0 3.7 0a1.85 1.85 0 1 0 -3.7 0M171.4 237.6a1.85 1.85 0 1 0 3.7 0a1.85 1.85 0 1 0 -3.7 0M181.6 236.3a1.85 1.85 0 1 0 3.7 0a1.85 1.85 0 1 0 -3.7 0M141.1 240.8a1.85 1.85 0 1 0 3.7 0a1.85 1.85 0 1 0 -3.7 0M141.1 247.5a1.85 1.85 0 1 0 3.7 0a1.85 1.85 0 1 0 -3.7 0M144.6 252.6a1.85 1.85 0 1 0 3.7 0a1.85 1.85 0 1 0 -3.7 0M191.8 238.9a1.85 1.85 0 1 0 3.7 0a1.85 1.85 0 1 0 -3.7 0M198.4 238.2a1.85 1.85 0 1 0 3.7 0a1.85 1.85 0 1 0 -3.7 0M201.9 238.2a1.85 1.85 0 1 0 3.7 0a1.85 1.85 0 1 0 -3.7 0M208.6 237.9a1.85 1.85 0 1 0 3.7 0a1.85 1.85 0 1 0 -3.7 0M215.0 237.0a1.85 1.85 0 1 0 3.7 0a1.85 1.85 0 1 0 -3.7 0M218.8 238.9a1.85 1.85 0 1 0 3.7 0a1.85 1.85 0 1 0 -3.7 0M222.3 237.9a1.85 1.85 0 1 0 3.7 0a1.85 1.85 0 1 0 -3.7 0M212.1 241.4a1.85 1.85 0 1 0 3.7 0a1.85 1.85 0 1 0 -3.7 0M212.1 242.4a1.85 1.85 0 1 0 3.7 0a1.85 1.85 0 1 0 -3.7 0M208.6 244.3a1.85 1.85 0 1 0 3.7 0a1.85 1.85 0 1 0 -3.7 0M205.1 246.5a1.85 1.85 0 1 0 3.7 0a1.85 1.85 0 1 0 -3.7 0M218.5 246.8a1.85 1.85 0 1 0 3.7 0a1.85 1.85 0 1 0 -3.7 0M218.5 248.7a1.85 1.85 0 1 0 3.7 0a1.85 1.85 0 1 0 -3.7 0M222.3 249.1a1.85 1.85 0 1 0 3.7 0a1.85 1.85 0 1 0 -3.7 0M185.1 249.7a1.85 1.85 0 1 0 3.7 0a1.85 1.85 0 1 0 -3.7 0M188.6 253.5a1.85 1.85 0 1 0 3.7 0a1.85 1.85 0 1 0 -3.7 0M198.4 250.7a1.85 1.85 0 1 0 3.7 0a1.85 1.85 0 1 0 -3.7 0M208.6 251.6a1.85 1.85 0 1 0 3.7 0a1.85 1.85 0 1 0 -3.7 0M185.1 260.2a1.85 1.85 0 1 0 3.7 0a1.85 1.85 0 1 0 -3.7 0M195.2 258.0a1.85 1.85 0 1 0 3.7 0a1.85 1.85 0 1 0 -3.7 0M201.9 258.0a1.85 1.85 0 1 0 3.7 0a1.85 1.85 0 1 0 -3.7 0M215.3 263.1a1.85 1.85 0 1 0 3.7 0a1.85 1.85 0 1 0 -3.7 0M235.7 202.8a1.85 1.85 0 1 0 3.7 0a1.85 1.85 0 1 0 -3.7 0M238.9 204.4a1.85 1.85 0 1 0 3.7 0a1.85 1.85 0 1 0 -3.7 0M242.5 207.2a1.85 1.85 0 1 0 3.7 0a1.85 1.85 0 1 0 -3.7 0M235.7 208.8a1.85 1.85 0 1 0 3.7 0a1.85 1.85 0 1 0 -3.7 0M249.1 203.7a1.85 1.85 0 1 0 3.7 0a1.85 1.85 0 1 0 -3.7 0M259.0 204.6a1.85 1.85 0 1 0 3.7 0a1.85 1.85 0 1 0 -3.7 0M272.6 202.8a1.85 1.85 0 1 0 3.7 0a1.85 1.85 0 1 0 -3.7 0M292.7 200.3a1.85 1.85 0 1 0 3.7 0a1.85 1.85 0 1 0 -3.7 0M249.1 217.1a1.85 1.85 0 1 0 3.7 0a1.85 1.85 0 1 0 -3.7 0M245.5 220.9a1.85 1.85 0 1 0 3.7 0a1.85 1.85 0 1 0 -3.7 0M255.7 217.8a1.85 1.85 0 1 0 3.7 0a1.85 1.85 0 1 0 -3.7 0M255.7 219.7a1.85 1.85 0 1 0 3.7 0a1.85 1.85 0 1 0 -3.7 0M265.9 214.9a1.85 1.85 0 1 0 3.7 0a1.85 1.85 0 1 0 -3.7 0M272.6 222.2a1.85 1.85 0 1 0 3.7 0a1.85 1.85 0 1 0 -3.7 0M282.8 224.5a1.85 1.85 0 1 0 3.7 0a1.85 1.85 0 1 0 -3.7 0M289.5 221.3a1.85 1.85 0 1 0 3.7 0a1.85 1.85 0 1 0 -3.7 0M289.5 226.7a1.85 1.85 0 1 0 3.7 0a1.85 1.85 0 1 0 -3.7 0M296.2 216.5a1.85 1.85 0 1 0 3.7 0a1.85 1.85 0 1 0 -3.7 0M302.8 218.4a1.85 1.85 0 1 0 3.7 0a1.85 1.85 0 1 0 -3.7 0M296.2 229.8a1.85 1.85 0 1 0 3.7 0a1.85 1.85 0 1 0 -3.7 0M229.0 220.9a1.85 1.85 0 1 0 3.7 0a1.85 1.85 0 1 0 -3.7 0M232.3 222.8a1.85 1.85 0 1 0 3.7 0a1.85 1.85 0 1 0 -3.7 0M232.3 227.1a1.85 1.85 0 1 0 3.7 0a1.85 1.85 0 1 0 -3.7 0M235.7 227.1a1.85 1.85 0 1 0 3.7 0a1.85 1.85 0 1 0 -3.7 0M238.9 227.9a1.85 1.85 0 1 0 3.7 0a1.85 1.85 0 1 0 -3.7 0M242.5 225.8a1.85 1.85 0 1 0 3.7 0a1.85 1.85 0 1 0 -3.7 0M245.5 225.4a1.85 1.85 0 1 0 3.7 0a1.85 1.85 0 1 0 -3.7 0M252.3 227.1a1.85 1.85 0 1 0 3.7 0a1.85 1.85 0 1 0 -3.7 0M255.7 228.6a1.85 1.85 0 1 0 3.7 0a1.85 1.85 0 1 0 -3.7 0M226.2 228.6a1.85 1.85 0 1 0 3.7 0a1.85 1.85 0 1 0 -3.7 0M235.7 230.5a1.85 1.85 0 1 0 3.7 0a1.85 1.85 0 1 0 -3.7 0M249.1 231.4a1.85 1.85 0 1 0 3.7 0a1.85 1.85 0 1 0 -3.7 0M249.1 233.7a1.85 1.85 0 1 0 3.7 0a1.85 1.85 0 1 0 -3.7 0M249.1 235.6a1.85 1.85 0 1 0 3.7 0a1.85 1.85 0 1 0 -3.7 0M252.3 234.3a1.85 1.85 0 1 0 3.7 0a1.85 1.85 0 1 0 -3.7 0M242.5 233.9a1.85 1.85 0 1 0 3.7 0a1.85 1.85 0 1 0 -3.7 0M229.0 234.9a1.85 1.85 0 1 0 3.7 0a1.85 1.85 0 1 0 -3.7 0M232.3 235.2a1.85 1.85 0 1 0 3.7 0a1.85 1.85 0 1 0 -3.7 0M232.3 236.5a1.85 1.85 0 1 0 3.7 0a1.85 1.85 0 1 0 -3.7 0M235.7 237.5a1.85 1.85 0 1 0 3.7 0a1.85 1.85 0 1 0 -3.7 0M238.9 239.4a1.85 1.85 0 1 0 3.7 0a1.85 1.85 0 1 0 -3.7 0M242.5 241.9a1.85 1.85 0 1 0 3.7 0a1.85 1.85 0 1 0 -3.7 0M265.9 235.2a1.85 1.85 0 1 0 3.7 0a1.85 1.85 0 1 0 -3.7 0M269.2 232.1a1.85 1.85 0 1 0 3.7 0a1.85 1.85 0 1 0 -3.7 0M286.0 232.7a1.85 1.85 0 1 0 3.7 0a1.85 1.85 0 1 0 -3.7 0M249.1 239.4a1.85 1.85 0 1 0 3.7 0a1.85 1.85 0 1 0 -3.7 0M252.3 239.4a1.85 1.85 0 1 0 3.7 0a1.85 1.85 0 1 0 -3.7 0M249.1 243.2a1.85 1.85 0 1 0 3.7 0a1.85 1.85 0 1 0 -3.7 0M252.3 245.4a1.85 1.85 0 1 0 3.7 0a1.85 1.85 0 1 0 -3.7 0M259.0 241.3a1.85 1.85 0 1 0 3.7 0a1.85 1.85 0 1 0 -3.7 0M259.0 243.6a1.85 1.85 0 1 0 3.7 0a1.85 1.85 0 1 0 -3.7 0M259.0 245.8a1.85 1.85 0 1 0 3.7 0a1.85 1.85 0 1 0 -3.7 0M259.0 249.0a1.85 1.85 0 1 0 3.7 0a1.85 1.85 0 1 0 -3.7 0M269.2 240.0a1.85 1.85 0 1 0 3.7 0a1.85 1.85 0 1 0 -3.7 0M269.2 242.8a1.85 1.85 0 1 0 3.7 0a1.85 1.85 0 1 0 -3.7 0M229.0 243.9a1.85 1.85 0 1 0 3.7 0a1.85 1.85 0 1 0 -3.7 0M232.3 246.4a1.85 1.85 0 1 0 3.7 0a1.85 1.85 0 1 0 -3.7 0M235.7 245.1a1.85 1.85 0 1 0 3.7 0a1.85 1.85 0 1 0 -3.7 0M235.7 249.0a1.85 1.85 0 1 0 3.7 0a1.85 1.85 0 1 0 -3.7 0M232.3 251.5a1.85 1.85 0 1 0 3.7 0a1.85 1.85 0 1 0 -3.7 0M226.2 242.6a1.85 1.85 0 1 0 3.7 0a1.85 1.85 0 1 0 -3.7 0M226.2 247.1a1.85 1.85 0 1 0 3.7 0a1.85 1.85 0 1 0 -3.7 0M226.2 257.2a1.85 1.85 0 1 0 3.7 0a1.85 1.85 0 1 0 -3.7 0M226.2 264.2a1.85 1.85 0 1 0 3.7 0a1.85 1.85 0 1 0 -3.7 0M235.7 254.1a1.85 1.85 0 1 0 3.7 0a1.85 1.85 0 1 0 -3.7 0M238.9 254.1a1.85 1.85 0 1 0 3.7 0a1.85 1.85 0 1 0 -3.7 0M242.5 254.1a1.85 1.85 0 1 0 3.7 0a1.85 1.85 0 1 0 -3.7 0M238.9 257.9a1.85 1.85 0 1 0 3.7 0a1.85 1.85 0 1 0 -3.7 0M242.5 260.4a1.85 1.85 0 1 0 3.7 0a1.85 1.85 0 1 0 -3.7 0M238.9 261.1a1.85 1.85 0 1 0 3.7 0a1.85 1.85 0 1 0 -3.7 0M249.1 257.6a1.85 1.85 0 1 0 3.7 0a1.85 1.85 0 1 0 -3.7 0M252.3 254.7a1.85 1.85 0 1 0 3.7 0a1.85 1.85 0 1 0 -3.7 0M255.7 254.1a1.85 1.85 0 1 0 3.7 0a1.85 1.85 0 1 0 -3.7 0M229.0 256.6a1.85 1.85 0 1 0 3.7 0a1.85 1.85 0 1 0 -3.7 0M232.3 260.4a1.85 1.85 0 1 0 3.7 0a1.85 1.85 0 1 0 -3.7 0M229.0 263.0a1.85 1.85 0 1 0 3.7 0a1.85 1.85 0 1 0 -3.7 0M259.0 260.4a1.85 1.85 0 1 0 3.7 0a1.85 1.85 0 1 0 -3.7 0M262.5 264.2a1.85 1.85 0 1 0 3.7 0a1.85 1.85 0 1 0 -3.7 0M269.2 260.4a1.85 1.85 0 1 0 3.7 0a1.85 1.85 0 1 0 -3.7 0M269.2 263.0a1.85 1.85 0 1 0 3.7 0a1.85 1.85 0 1 0 -3.7 0M282.8 260.4a1.85 1.85 0 1 0 3.7 0a1.85 1.85 0 1 0 -3.7 0M292.7 252.2a1.85 1.85 0 1 0 3.7 0a1.85 1.85 0 1 0 -3.7 0M292.7 253.7a1.85 1.85 0 1 0 3.7 0a1.85 1.85 0 1 0 -3.7 0" stroke="#3c3c3c" stroke-width="0.95" fill="none"/>
<path d="M480.9 63.5a1.85 1.85 0 1 0 3.7 0a1.85 1.85 0 1 0 -3.7 0M460.7 95.3a1.85 1.85 0 1 0 3.7 0a1.85 1.85 0 1 0 -3.7 0M470.7 103.5a1.85 1.85 0 1 0 3.7 0a1.85 1.85 0 1 0 -3.7 0M494.0 108.4a1.85 1.85 0 1 0 3.7 0a1.85 1.85 0 1 0 -3.7 0M494.0 112.5a1.85 1.85 0 1 0 3.7 0a1.85 1.85 0 1 0 -3.7 0M501.0 57.5a1.85 1.85 0 1 0 3.7 0a1.85 1.85 0 1 0 -3.7 0M534.8 61.5a1.85 1.85 0 1 0 3.7 0a1.85 1.85 0 1 0 -3.7 0M561.8 55.2a1.85 1.85 0 1 0 3.7 0a1.85 1.85 0 1 0 -3.7 0M561.8 68.7a1.85 1.85 0 1 0 3.7 0a1.85 1.85 0 1 0 -3.7 0M531.4 86.8a1.85 1.85 0 1 0 3.7 0a1.85 1.85 0 1 0 -3.7 0M534.8 111.6a1.85 1.85 0 1 0 3.7 0a1.85 1.85 0 1 0 -3.7 0M538.2 113.5a1.85 1.85 0 1 0 3.7 0a1.85 1.85 0 1 0 -3.7 0M548.1 120.2a1.85 1.85 0 1 0 3.7 0a1.85 1.85 0 1 0 -3.7 0M551.7 120.2a1.85 1.85 0 1 0 3.7 0a1.85 1.85 0 1 0 -3.7 0M595.5 92.5a1.85 1.85 0 1 0 3.7 0a1.85 1.85 0 1 0 -3.7 0M599.0 88.7a1.85 1.85 0 1 0 3.7 0a1.85 1.85 0 1 0 -3.7 0M585.7 116.7a1.85 1.85 0 1 0 3.7 0a1.85 1.85 0 1 0 -3.7 0M430.3 125.2a1.85 1.85 0 1 0 3.7 0a1.85 1.85 0 1 0 -3.7 0M467.5 123.9a1.85 1.85 0 1 0 3.7 0a1.85 1.85 0 1 0 -3.7 0M470.9 131.9a1.85 1.85 0 1 0 3.7 0a1.85 1.85 0 1 0 -3.7 0M480.9 128.1a1.85 1.85 0 1 0 3.7 0a1.85 1.85 0 1 0 -3.7 0M484.3 131.3a1.85 1.85 0 1 0 3.7 0a1.85 1.85 0 1 0 -3.7 0M487.6 140.2a1.85 1.85 0 1 0 3.7 0a1.85 1.85 0 1 0 -3.7 0M450.7 145.9a1.85 1.85 0 1 0 3.7 0a1.85 1.85 0 1 0 -3.7 0M457.3 144.3a1.85 1.85 0 1 0 3.7 0a1.85 1.85 0 1 0 -3.7 0M450.7 149.8a1.85 1.85 0 1 0 3.7 0a1.85 1.85 0 1 0 -3.7 0M454.1 149.8a1.85 1.85 0 1 0 3.7 0a1.85 1.85 0 1 0 -3.7 0M433.7 150.0a1.85 1.85 0 1 0 3.7 0a1.85 1.85 0 1 0 -3.7 0M440.5 151.1a1.85 1.85 0 1 0 3.7 0a1.85 1.85 0 1 0 -3.7 0M440.5 154.5a1.85 1.85 0 1 0 3.7 0a1.85 1.85 0 1 0 -3.7 0M487.6 158.3a1.85 1.85 0 1 0 3.7 0a1.85 1.85 0 1 0 -3.7 0M437.2 160.2a1.85 1.85 0 1 0 3.7 0a1.85 1.85 0 1 0 -3.7 0M433.7 164.7a1.85 1.85 0 1 0 3.7 0a1.85 1.85 0 1 0 -3.7 0M443.9 164.4a1.85 1.85 0 1 0 3.7 0a1.85 1.85 0 1 0 -3.7 0M450.7 160.0a1.85 1.85 0 1 0 3.7 0a1.85 1.85 0 1 0 -3.7 0M450.7 165.9a1.85 1.85 0 1 0 3.7 0a1.85 1.85 0 1 0 -3.7 0M470.7 167.2a1.85 1.85 0 1 0 3.7 0a1.85 1.85 0 1 0 -3.7 0M474.5 165.3a1.85 1.85 0 1 0 3.7 0a1.85 1.85 0 1 0 -3.7 0M423.5 169.5a1.85 1.85 0 1 0 3.7 0a1.85 1.85 0 1 0 -3.7 0M427.0 172.1a1.85 1.85 0 1 0 3.7 0a1.85 1.85 0 1 0 -3.7 0M430.3 174.2a1.85 1.85 0 1 0 3.7 0a1.85 1.85 0 1 0 -3.7 0M457.3 170.8a1.85 1.85 0 1 0 3.7 0a1.85 1.85 0 1 0 -3.7 0M480.9 170.8a1.85 1.85 0 1 0 3.7 0a1.85 1.85 0 1 0 -3.7 0M491.0 171.1a1.85 1.85 0 1 0 3.7 0a1.85 1.85 0 1 0 -3.7 0M443.9 176.2a1.85 1.85 0 1 0 3.7 0a1.85 1.85 0 1 0 -3.7 0M450.7 174.0a1.85 1.85 0 1 0 3.7 0a1.85 1.85 0 1 0 -3.7 0M450.7 178.1a1.85 1.85 0 1 0 3.7 0a1.85 1.85 0 1 0 -3.7 0M447.1 179.3a1.85 1.85 0 1 0 3.7 0a1.85 1.85 0 1 0 -3.7 0M487.6 174.2a1.85 1.85 0 1 0 3.7 0a1.85 1.85 0 1 0 -3.7 0M487.6 176.8a1.85 1.85 0 1 0 3.7 0a1.85 1.85 0 1 0 -3.7 0M464.3 179.3a1.85 1.85 0 1 0 3.7 0a1.85 1.85 0 1 0 -3.7 0M467.5 181.2a1.85 1.85 0 1 0 3.7 0a1.85 1.85 0 1 0 -3.7 0M430.3 184.4a1.85 1.85 0 1 0 3.7 0a1.85 1.85 0 1 0 -3.7 0M443.9 183.2a1.85 1.85 0 1 0 3.7 0a1.85 1.85 0 1 0 -3.7 0M454.1 183.8a1.85 1.85 0 1 0 3.7 0a1.85 1.85 0 1 0 -3.7 0M454.1 187.0a1.85 1.85 0 1 0 3.7 0a1.85 1.85 0 1 0 -3.7 0M440.5 188.2a1.85 1.85 0 1 0 3.7 0a1.85 1.85 0 1 0 -3.7 0M443.9 187.6a1.85 1.85 0 1 0 3.7 0a1.85 1.85 0 1 0 -3.7 0M494.0 182.5a1.85 1.85 0 1 0 3.7 0a1.85 1.85 0 1 0 -3.7 0M487.6 186.3a1.85 1.85 0 1 0 3.7 0a1.85 1.85 0 1 0 -3.7 0M491.0 189.5a1.85 1.85 0 1 0 3.7 0a1.85 1.85 0 1 0 -3.7 0M487.6 192.7a1.85 1.85 0 1 0 3.7 0a1.85 1.85 0 1 0 -3.7 0M491.0 193.3a1.85 1.85 0 1 0 3.7 0a1.85 1.85 0 1 0 -3.7 0M440.5 194.9a1.85 1.85 0 1 0 3.7 0a1.85 1.85 0 1 0 -3.7 0M457.3 194.6a1.85 1.85 0 1 0 3.7 0a1.85 1.85 0 1 0 -3.7 0M460.9 194.9a1.85 1.85 0 1 0 3.7 0a1.85 1.85 0 1 0 -3.7 0M477.4 194.4a1.85 1.85 0 1 0 3.7 0a1.85 1.85 0 1 0 -3.7 0M423.5 196.5a1.85 1.85 0 1 0 3.7 0a1.85 1.85 0 1 0 -3.7 0M471.0 197.4a1.85 1.85 0 1 0 3.7 0a1.85 1.85 0 1 0 -3.7 0M484.3 196.5a1.85 1.85 0 1 0 3.7 0a1.85 1.85 0 1 0 -3.7 0M491.0 196.5a1.85 1.85 0 1 0 3.7 0a1.85 1.85 0 1 0 -3.7 0M494.2 195.9a1.85 1.85 0 1 0 3.7 0a1.85 1.85 0 1 0 -3.7 0M551.6 123.5a1.85 1.85 0 1 0 3.7 0a1.85 1.85 0 1 0 -3.7 0M531.4 125.6a1.85 1.85 0 1 0 3.7 0a1.85 1.85 0 1 0 -3.7 0M504.4 139.2a1.85 1.85 0 1 0 3.7 0a1.85 1.85 0 1 0 -3.7 0M528.0 138.6a1.85 1.85 0 1 0 3.7 0a1.85 1.85 0 1 0 -3.7 0M511.2 146.6a1.85 1.85 0 1 0 3.7 0a1.85 1.85 0 1 0 -3.7 0M498.1 147.2a1.85 1.85 0 1 0 3.7 0a1.85 1.85 0 1 0 -3.7 0M544.9 146.2a1.85 1.85 0 1 0 3.7 0a1.85 1.85 0 1 0 -3.7 0M564.9 146.5a1.85 1.85 0 1 0 3.7 0a1.85 1.85 0 1 0 -3.7 0M568.5 148.8a1.85 1.85 0 1 0 3.7 0a1.85 1.85 0 1 0 -3.7 0M575.4 153.2a1.85 1.85 0 1 0 3.7 0a1.85 1.85 0 1 0 -3.7 0M538.2 156.0a1.85 1.85 0 1 0 3.7 0a1.85 1.85 0 1 0 -3.7 0M544.9 158.9a1.85 1.85 0 1 0 3.7 0a1.85 1.85 0 1 0 -3.7 0M544.9 160.9a1.85 1.85 0 1 0 3.7 0a1.85 1.85 0 1 0 -3.7 0M548.4 159.2a1.85 1.85 0 1 0 3.7 0a1.85 1.85 0 1 0 -3.7 0M501.0 160.0a1.85 1.85 0 1 0 3.7 0a1.85 1.85 0 1 0 -3.7 0M504.4 160.0a1.85 1.85 0 1 0 3.7 0a1.85 1.85 0 1 0 -3.7 0M514.6 158.7a1.85 1.85 0 1 0 3.7 0a1.85 1.85 0 1 0 -3.7 0M531.4 163.2a1.85 1.85 0 1 0 3.7 0a1.85 1.85 0 1 0 -3.7 0M572.0 160.2a1.85 1.85 0 1 0 3.7 0a1.85 1.85 0 1 0 -3.7 0M575.4 165.3a1.85 1.85 0 1 0 3.7 0a1.85 1.85 0 1 0 -3.7 0M568.5 166.6a1.85 1.85 0 1 0 3.7 0a1.85 1.85 0 1 0 -3.7 0M501.0 167.6a1.85 1.85 0 1 0 3.7 0a1.85 1.85 0 1 0 -3.7 0M507.9 166.3a1.85 1.85 0 1 0 3.7 0a1.85 1.85 0 1 0 -3.7 0M511.2 172.1a1.85 1.85 0 1 0 3.7 0a1.85 1.85 0 1 0 -3.7 0M514.6 175.8a1.85 1.85 0 1 0 3.7 0a1.85 1.85 0 1 0 -3.7 0M501.0 176.8a1.85 1.85 0 1 0 3.7 0a1.85 1.85 0 1 0 -3.7 0M531.4 172.7a1.85 1.85 0 1 0 3.7 0a1.85 1.85 0 1 0 -3.7 0M538.2 173.0a1.85 1.85 0 1 0 3.7 0a1.85 1.85 0 1 0 -3.7 0M538.2 176.5a1.85 1.85 0 1 0 3.7 0a1.85 1.85 0 1 0 -3.7 0M548.1 173.2a1.85 1.85 0 1 0 3.7 0a1.85 1.85 0 1 0 -3.7 0M551.7 175.3a1.85 1.85 0 1 0 3.7 0a1.85 1.85 0 1 0 -3.7 0M551.7 177.0a1.85 1.85 0 1 0 3.7 0a1.85 1.85 0 1 0 -3.7 0M558.3 175.9a1.85 1.85 0 1 0 3.7 0a1.85 1.85 0 1 0 -3.7 0M568.5 173.3a1.85 1.85 0 1 0 3.7 0a1.85 1.85 0 1 0 -3.7 0M524.8 177.8a1.85 1.85 0 1 0 3.7 0a1.85 1.85 0 1 0 -3.7 0M497.7 183.4a1.85 1.85 0 1 0 3.7 0a1.85 1.85 0 1 0 -3.7 0M501.0 184.4a1.85 1.85 0 1 0 3.7 0a1.85 1.85 0 1 0 -3.7 0M504.4 186.3a1.85 1.85 0 1 0 3.7 0a1.85 1.85 0 1 0 -3.7 0M507.9 189.5a1.85 1.85 0 1 0 3.7 0a1.85 1.85 0 1 0 -3.7 0M511.2 188.0a1.85 1.85 0 1 0 3.7 0a1.85 1.85 0 1 0 -3.7 0M518.1 183.2a1.85 1.85 0 1 0 3.7 0a1.85 1.85 0 1 0 -3.7 0M521.6 184.4a1.85 1.85 0 1 0 3.7 0a1.85 1.85 0 1 0 -3.7 0M521.6 188.0a1.85 1.85 0 1 0 3.7 0a1.85 1.85 0 1 0 -3.7 0M524.8 184.4a1.85 1.85 0 1 0 3.7 0a1.85 1.85 0 1 0 -3.7 0M524.8 188.0a1.85 1.85 0 1 0 3.7 0a1.85 1.85 0 1 0 -3.7 0M528.0 183.8a1.85 1.85 0 1 0 3.7 0a1.85 1.85 0 1 0 -3.7 0M531.4 181.2a1.85 1.85 0 1 0 3.7 0a1.85 1.85 0 1 0 -3.7 0M534.8 183.2a1.85 1.85 0 1 0 3.7 0a1.85 1.85 0 1 0 -3.7 0M544.9 185.1a1.85 1.85 0 1 0 3.7 0a1.85 1.85 0 1 0 -3.7 0M548.1 187.2a1.85 1.85 0 1 0 3.7 0a1.85 1.85 0 1 0 -3.7 0M555.0 185.3a1.85 1.85 0 1 0 3.7 0a1.85 1.85 0 1 0 -3.7 0M564.9 183.2a1.85 1.85 0 1 0 3.7 0a1.85 1.85 0 1 0 -3.7 0M572.0 183.4a1.85 1.85 0 1 0 3.7 0a1.85 1.85 0 1 0 -3.7 0M531.4 191.4a1.85 1.85 0 1 0 3.7 0a1.85 1.85 0 1 0 -3.7 0M518.1 192.1a1.85 1.85 0 1 0 3.7 0a1.85 1.85 0 1 0 -3.7 0M514.6 194.6a1.85 1.85 0 1 0 3.7 0a1.85 1.85 0 1 0 -3.7 0M521.6 195.6a1.85 1.85 0 1 0 3.7 0a1.85 1.85 0 1 0 -3.7 0M551.7 192.3a1.85 1.85 0 1 0 3.7 0a1.85 1.85 0 1 0 -3.7 0M551.7 194.4a1.85 1.85 0 1 0 3.7 0a1.85 1.85 0 1 0 -3.7 0M564.9 192.3a1.85 1.85 0 1 0 3.7 0a1.85 1.85 0 1 0 -3.7 0M572.0 193.3a1.85 1.85 0 1 0 3.7 0a1.85 1.85 0 1 0 -3.7 0M575.4 192.3a1.85 1.85 0 1 0 3.7 0a1.85 1.85 0 1 0 -3.7 0M575.4 194.6a1.85 1.85 0 1 0 3.7 0a1.85 1.85 0 1 0 -3.7 0M497.7 196.5a1.85 1.85 0 1 0 3.7 0a1.85 1.85 0 1 0 -3.7 0M501.0 195.3a1.85 1.85 0 1 0 3.7 0a1.85 1.85 0 1 0 -3.7 0M507.9 196.9a1.85 1.85 0 1 0 3.7 0a1.85 1.85 0 1 0 -3.7 0M531.4 196.9a1.85 1.85 0 1 0 3.7 0a1.85 1.85 0 1 0 -3.7 0M534.8 194.9a1.85 1.85 0 1 0 3.7 0a1.85 1.85 0 1 0 -3.7 0M595.5 130.7a1.85 1.85 0 1 0 3.7 0a1.85 1.85 0 1 0 -3.7 0M639.5 140.5a1.85 1.85 0 1 0 3.7 0a1.85 1.85 0 1 0 -3.7 0M619.1 149.4a1.85 1.85 0 1 0 3.7 0a1.85 1.85 0 1 0 -3.7 0M599.0 157.4a1.85 1.85 0 1 0 3.7 0a1.85 1.85 0 1 0 -3.7 0M582.8 164.7a1.85 1.85 0 1 0 3.7 0a1.85 1.85 0 1 0 -3.7 0M582.8 166.6a1.85 1.85 0 1 0 3.7 0a1.85 1.85 0 1 0 -3.7 0M582.8 173.6a1.85 1.85 0 1 0 3.7 0a1.85 1.85 0 1 0 -3.7 0M599.0 170.0a1.85 1.85 0 1 0 3.7 0a1.85 1.85 0 1 0 -3.7 0M602.3 169.1a1.85 1.85 0 1 0 3.7 0a1.85 1.85 0 1 0 -3.7 0M602.3 173.0a1.85 1.85 0 1 0 3.7 0a1.85 1.85 0 1 0 -3.7 0M632.9 177.7a1.85 1.85 0 1 0 3.7 0a1.85 1.85 0 1 0 -3.7 0M646.1 178.1a1.85 1.85 0 1 0 3.7 0a1.85 1.85 0 1 0 -3.7 0M652.9 177.8a1.85 1.85 0 1 0 3.7 0a1.85 1.85 0 1 0 -3.7 0M585.3 180.9a1.85 1.85 0 1 0 3.7 0a1.85 1.85 0 1 0 -3.7 0M588.8 183.4a1.85 1.85 0 1 0 3.7 0a1.85 1.85 0 1 0 -3.7 0M592.1 181.9a1.85 1.85 0 1 0 3.7 0a1.85 1.85 0 1 0 -3.7 0M585.3 185.1a1.85 1.85 0 1 0 3.7 0a1.85 1.85 0 1 0 -3.7 0M605.7 184.8a1.85 1.85 0 1 0 3.7 0a1.85 1.85 0 1 0 -3.7 0M649.4 191.8a1.85 1.85 0 1 0 3.7 0a1.85 1.85 0 1 0 -3.7 0M585.3 191.4a1.85 1.85 0 1 0 3.7 0a1.85 1.85 0 1 0 -3.7 0M585.3 193.3a1.85 1.85 0 1 0 3.7 0a1.85 1.85 0 1 0 -3.7 0M592.1 197.2a1.85 1.85 0 1 0 3.7 0a1.85 1.85 0 1 0 -3.7 0M608.9 195.9a1.85 1.85 0 1 0 3.7 0a1.85 1.85 0 1 0 -3.7 0M608.9 197.4a1.85 1.85 0 1 0 3.7 0a1.85 1.85 0 1 0 -3.7 0M626.1 196.9a1.85 1.85 0 1 0 3.7 0a1.85 1.85 0 1 0 -3.7 0M427.0 200.3a1.85 1.85 0 1 0 3.7 0a1.85 1.85 0 1 0 -3.7 0M443.9 199.9a1.85 1.85 0 1 0 3.7 0a1.85 1.85 0 1 0 -3.7 0M447.1 200.6a1.85 1.85 0 1 0 3.7 0a1.85 1.85 0 1 0 -3.7 0M457.3 199.9a1.85 1.85 0 1 0 3.7 0a1.85 1.85 0 1 0 -3.7 0M473.8 200.6a1.85 1.85 0 1 0 3.7 0a1.85 1.85 0 1 0 -3.7 0M477.7 200.8a1.85 1.85 0 1 0 3.7 0a1.85 1.85 0 1 0 -3.7 0M494.9 201.8a1.85 1.85 0 1 0 3.7 0a1.85 1.85 0 1 0 -3.7 0M491.0 203.1a1.85 1.85 0 1 0 3.7 0a1.85 1.85 0 1 0 -3.7 0M423.5 204.4a1.85 1.85 0 1 0 3.7 0a1.85 1.85 0 1 0 -3.7 0M427.0 203.7a1.85 1.85 0 1 0 3.7 0a1.85 1.85 0 1 0 -3.7 0M454.1 202.1a1.85 1.85 0 1 0 3.7 0a1.85 1.85 0 1 0 -3.7 0M447.1 207.2a1.85 1.85 0 1 0 3.7 0a1.85 1.85 0 1 0 -3.7 0M443.9 210.1a1.85 1.85 0 1 0 3.7 0a1.85 1.85 0 1 0 -3.7 0M473.8 202.1a1.85 1.85 0 1 0 3.7 0a1.85 1.85 0 1 0 -3.7 0M480.9 207.6a1.85 1.85 0 1 0 3.7 0a1.85 1.85 0 1 0 -3.7 0M484.0 205.6a1.85 1.85 0 1 0 3.7 0a1.85 1.85 0 1 0 -3.7 0M473.8 211.4a1.85 1.85 0 1 0 3.7 0a1.85 1.85 0 1 0 -3.7 0M473.8 212.9a1.85 1.85 0 1 0 3.7 0a1.85 1.85 0 1 0 -3.7 0M477.7 212.7a1.85 1.85 0 1 0 3.7 0a1.85 1.85 0 1 0 -3.7 0M491.0 210.7a1.85 1.85 0 1 0 3.7 0a1.85 1.85 0 1 0 -3.7 0M420.1 213.9a1.85 1.85 0 1 0 3.7 0a1.85 1.85 0 1 0 -3.7 0M433.7 215.6a1.85 1.85 0 1 0 3.7 0a1.85 1.85 0 1 0 -3.7 0M430.3 218.1a1.85 1.85 0 1 0 3.7 0a1.85 1.85 0 1 0 -3.7 0M433.7 219.0a1.85 1.85 0 1 0 3.7 0a1.85 1.85 0 1 0 -3.7 0M440.5 216.5a1.85 1.85 0 1 0 3.7 0a1.85 1.85 0 1 0 -3.7 0M437.2 217.8a1.85 1.85 0 1 0 3.7 0a1.85 1.85 0 1 0 -3.7 0M450.7 217.1a1.85 1.85 0 1 0 3.7 0a1.85 1.85 0 1 0 -3.7 0M454.1 214.6a1.85 1.85 0 1 0 3.7 0a1.85 1.85 0 1 0 -3.7 0M454.1 219.7a1.85 1.85 0 1 0 3.7 0a1.85 1.85 0 1 0 -3.7 0M450.7 220.9a1.85 1.85 0 1 0 3.7 0a1.85 1.85 0 1 0 -3.7 0M460.9 218.4a1.85 1.85 0 1 0 3.7 0a1.85 1.85 0 1 0 -3.7 0M464.3 219.4a1.85 1.85 0 1 0 3.7 0a1.85 1.85 0 1 0 -3.7 0M470.7 217.8a1.85 1.85 0 1 0 3.7 0a1.85 1.85 0 1 0 -3.7 0M470.7 219.7a1.85 1.85 0 1 0 3.7 0a1.85 1.85 0 1 0 -3.7 0M487.6 217.1a1.85 1.85 0 1 0 3.7 0a1.85 1.85 0 1 0 -3.7 0M487.6 220.3a1.85 1.85 0 1 0 3.7 0a1.85 1.85 0 1 0 -3.7 0M491.0 218.4a1.85 1.85 0 1 0 3.7 0a1.85 1.85 0 1 0 -3.7 0M491.0 220.9a1.85 1.85 0 1 0 3.7 0a1.85 1.85 0 1 0 -3.7 0M494.2 222.8a1.85 1.85 0 1 0 3.7 0a1.85 1.85 0 1 0 -3.7 0M420.1 224.4a1.85 1.85 0 1 0 3.7 0a1.85 1.85 0 1 0 -3.7 0M427.0 223.9a1.85 1.85 0 1 0 3.7 0a1.85 1.85 0 1 0 -3.7 0M437.2 222.8a1.85 1.85 0 1 0 3.7 0a1.85 1.85 0 1 0 -3.7 0M440.5 225.4a1.85 1.85 0 1 0 3.7 0a1.85 1.85 0 1 0 -3.7 0M440.5 228.6a1.85 1.85 0 1 0 3.7 0a1.85 1.85 0 1 0 -3.7 0M443.9 224.1a1.85 1.85 0 1 0 3.7 0a1.85 1.85 0 1 0 -3.7 0M447.1 222.8a1.85 1.85 0 1 0 3.7 0a1.85 1.85 0 1 0 -3.7 0M450.7 224.8a1.85 1.85 0 1 0 3.7 0a1.85 1.85 0 1 0 -3.7 0M450.7 229.2a1.85 1.85 0 1 0 3.7 0a1.85 1.85 0 1 0 -3.7 0M454.1 225.8a1.85 1.85 0 1 0 3.7 0a1.85 1.85 0 1 0 -3.7 0M460.9 227.9a1.85 1.85 0 1 0 3.7 0a1.85 1.85 0 1 0 -3.7 0M464.3 226.7a1.85 1.85 0 1 0 3.7 0a1.85 1.85 0 1 0 -3.7 0M470.7 225.8a1.85 1.85 0 1 0 3.7 0a1.85 1.85 0 1 0 -3.7 0M473.8 230.5a1.85 1.85 0 1 0 3.7 0a1.85 1.85 0 1 0 -3.7 0M477.7 226.3a1.85 1.85 0 1 0 3.7 0a1.85 1.85 0 1 0 -3.7 0M477.7 230.5a1.85 1.85 0 1 0 3.7 0a1.85 1.85 0 1 0 -3.7 0M477.7 234.3a1.85 1.85 0 1 0 3.7 0a1.85 1.85 0 1 0 -3.7 0M480.9 234.3a1.85 1.85 0 1 0 3.7 0a1.85 1.85 0 1 0 -3.7 0M484.0 236.5a1.85 1.85 0 1 0 3.7 0a1.85 1.85 0 1 0 -3.7 0M487.6 225.8a1.85 1.85 0 1 0 3.7 0a1.85 1.85 0 1 0 -3.7 0M494.2 229.2a1.85 1.85 0 1 0 3.7 0a1.85 1.85 0 1 0 -3.7 0M491.0 231.8a1.85 1.85 0 1 0 3.7 0a1.85 1.85 0 1 0 -3.7 0M491.0 233.7a1.85 1.85 0 1 0 3.7 0a1.85 1.85 0 1 0 -3.7 0M423.5 234.6a1.85 1.85 0 1 0 3.7 0a1.85 1.85 0 1 0 -3.7 0M433.7 236.2a1.85 1.85 0 1 0 3.7 0a1.85 1.85 0 1 0 -3.7 0M433.7 239.7a1.85 1.85 0 1 0 3.7 0a1.85 1.85 0 1 0 -3.7 0M447.1 233.4a1.85 1.85 0 1 0 3.7 0a1.85 1.85 0 1 0 -3.7 0M450.7 233.4a1.85 1.85 0 1 0 3.7 0a1.85 1.85 0 1 0 -3.7 0M454.1 234.3a1.85 1.85 0 1 0 3.7 0a1.85 1.85 0 1 0 -3.7 0M447.1 238.5a1.85 1.85 0 1 0 3.7 0a1.85 1.85 0 1 0 -3.7 0M450.7 238.5a1.85 1.85 0 1 0 3.7 0a1.85 1.85 0 1 0 -3.7 0M460.9 238.4a1.85 1.85 0 1 0 3.7 0a1.85 1.85 0 1 0 -3.7 0M437.2 246.0a1.85 1.85 0 1 0 3.7 0a1.85 1.85 0 1 0 -3.7 0M457.3 245.1a1.85 1.85 0 1 0 3.7 0a1.85 1.85 0 1 0 -3.7 0M473.8 250.2a1.85 1.85 0 1 0 3.7 0a1.85 1.85 0 1 0 -3.7 0M477.7 249.3a1.85 1.85 0 1 0 3.7 0a1.85 1.85 0 1 0 -3.7 0M495.5 249.6a1.85 1.85 0 1 0 3.7 0a1.85 1.85 0 1 0 -3.7 0M473.8 266.4a1.85 1.85 0 1 0 3.7 0a1.85 1.85 0 1 0 -3.7 0M497.7 199.0a1.85 1.85 0 1 0 3.7 0a1.85 1.85 0 1 0 -3.7 0M504.4 198.3a1.85 1.85 0 1 0 3.7 0a1.85 1.85 0 1 0 -3.7 0M507.9 198.3a1.85 1.85 0 1 0 3.7 0a1.85 1.85 0 1 0 -3.7 0M531.5 198.3a1.85 1.85 0 1 0 3.7 0a1.85 1.85 0 1 0 -3.7 0M537.9 199.6a1.85 1.85 0 1 0 3.7 0a1.85 1.85 0 1 0 -3.7 0M507.9 202.5a1.85 1.85 0 1 0 3.7 0a1.85 1.85 0 1 0 -3.7 0M507.9 204.9a1.85 1.85 0 1 0 3.7 0a1.85 1.85 0 1 0 -3.7 0M514.6 203.1a1.85 1.85 0 1 0 3.7 0a1.85 1.85 0 1 0 -3.7 0M521.3 204.1a1.85 1.85 0 1 0 3.7 0a1.85 1.85 0 1 0 -3.7 0M521.3 205.6a1.85 1.85 0 1 0 3.7 0a1.85 1.85 0 1 0 -3.7 0M524.8 205.6a1.85 1.85 0 1 0 3.7 0a1.85 1.85 0 1 0 -3.7 0M500.9 204.7a1.85 1.85 0 1 0 3.7 0a1.85 1.85 0 1 0 -3.7 0M497.7 201.8a1.85 1.85 0 1 0 3.7 0a1.85 1.85 0 1 0 -3.7 0M497.7 212.7a1.85 1.85 0 1 0 3.7 0a1.85 1.85 0 1 0 -3.7 0M497.7 214.6a1.85 1.85 0 1 0 3.7 0a1.85 1.85 0 1 0 -3.7 0M497.7 217.1a1.85 1.85 0 1 0 3.7 0a1.85 1.85 0 1 0 -3.7 0M500.9 214.9a1.85 1.85 0 1 0 3.7 0a1.85 1.85 0 1 0 -3.7 0M504.4 212.3a1.85 1.85 0 1 0 3.7 0a1.85 1.85 0 1 0 -3.7 0M504.4 216.5a1.85 1.85 0 1 0 3.7 0a1.85 1.85 0 1 0 -3.7 0M507.9 218.1a1.85 1.85 0 1 0 3.7 0a1.85 1.85 0 1 0 -3.7 0M511.1 212.3a1.85 1.85 0 1 0 3.7 0a1.85 1.85 0 1 0 -3.7 0M511.4 217.1a1.85 1.85 0 1 0 3.7 0a1.85 1.85 0 1 0 -3.7 0M511.4 218.2a1.85 1.85 0 1 0 3.7 0a1.85 1.85 0 1 0 -3.7 0M518.1 213.3a1.85 1.85 0 1 0 3.7 0a1.85 1.85 0 1 0 -3.7 0M521.6 213.6a1.85 1.85 0 1 0 3.7 0a1.85 1.85 0 1 0 -3.7 0M528.0 215.5a1.85 1.85 0 1 0 3.7 0a1.85 1.85 0 1 0 -3.7 0M531.5 211.1a1.85 1.85 0 1 0 3.7 0a1.85 1.85 0 1 0 -3.7 0M535.0 212.3a1.85 1.85 0 1 0 3.7 0a1.85 1.85 0 1 0 -3.7 0M535.0 217.1a1.85 1.85 0 1 0 3.7 0a1.85 1.85 0 1 0 -3.7 0M537.9 206.3a1.85 1.85 0 1 0 3.7 0a1.85 1.85 0 1 0 -3.7 0M497.7 221.9a1.85 1.85 0 1 0 3.7 0a1.85 1.85 0 1 0 -3.7 0M500.9 219.0a1.85 1.85 0 1 0 3.7 0a1.85 1.85 0 1 0 -3.7 0M518.1 220.9a1.85 1.85 0 1 0 3.7 0a1.85 1.85 0 1 0 -3.7 0M521.6 220.0a1.85 1.85 0 1 0 3.7 0a1.85 1.85 0 1 0 -3.7 0M514.6 223.8a1.85 1.85 0 1 0 3.7 0a1.85 1.85 0 1 0 -3.7 0M511.1 224.8a1.85 1.85 0 1 0 3.7 0a1.85 1.85 0 1 0 -3.7 0M518.1 225.7a1.85 1.85 0 1 0 3.7 0a1.85 1.85 0 1 0 -3.7 0M521.6 226.3a1.85 1.85 0 1 0 3.7 0a1.85 1.85 0 1 0 -3.7 0M524.8 221.9a1.85 1.85 0 1 0 3.7 0a1.85 1.85 0 1 0 -3.7 0M528.0 222.5a1.85 1.85 0 1 0 3.7 0a1.85 1.85 0 1 0 -3.7 0M531.5 222.2a1.85 1.85 0 1 0 3.7 0a1.85 1.85 0 1 0 -3.7 0M531.5 223.5a1.85 1.85 0 1 0 3.7 0a1.85 1.85 0 1 0 -3.7 0M537.9 223.5a1.85 1.85 0 1 0 3.7 0a1.85 1.85 0 1 0 -3.7 0M511.1 228.2a1.85 1.85 0 1 0 3.7 0a1.85 1.85 0 1 0 -3.7 0M514.9 231.4a1.85 1.85 0 1 0 3.7 0a1.85 1.85 0 1 0 -3.7 0M518.1 231.1a1.85 1.85 0 1 0 3.7 0a1.85 1.85 0 1 0 -3.7 0M501.2 229.2a1.85 1.85 0 1 0 3.7 0a1.85 1.85 0 1 0 -3.7 0M504.4 227.9a1.85 1.85 0 1 0 3.7 0a1.85 1.85 0 1 0 -3.7 0M504.4 230.5a1.85 1.85 0 1 0 3.7 0a1.85 1.85 0 1 0 -3.7 0M501.2 232.7a1.85 1.85 0 1 0 3.7 0a1.85 1.85 0 1 0 -3.7 0M504.4 233.7a1.85 1.85 0 1 0 3.7 0a1.85 1.85 0 1 0 -3.7 0M524.8 232.4a1.85 1.85 0 1 0 3.7 0a1.85 1.85 0 1 0 -3.7 0M524.8 234.6a1.85 1.85 0 1 0 3.7 0a1.85 1.85 0 1 0 -3.7 0M531.5 229.8a1.85 1.85 0 1 0 3.7 0a1.85 1.85 0 1 0 -3.7 0M531.5 231.8a1.85 1.85 0 1 0 3.7 0a1.85 1.85 0 1 0 -3.7 0M531.5 233.7a1.85 1.85 0 1 0 3.7 0a1.85 1.85 0 1 0 -3.7 0M537.9 232.4a1.85 1.85 0 1 0 3.7 0a1.85 1.85 0 1 0 -3.7 0M514.9 234.9a1.85 1.85 0 1 0 3.7 0a1.85 1.85 0 1 0 -3.7 0M541.7 200.6a1.85 1.85 0 1 0 3.7 0a1.85 1.85 0 1 0 -3.7 0M551.6 199.9a1.85 1.85 0 1 0 3.7 0a1.85 1.85 0 1 0 -3.7 0M568.4 199.0a1.85 1.85 0 1 0 3.7 0a1.85 1.85 0 1 0 -3.7 0M581.2 198.6a1.85 1.85 0 1 0 3.7 0a1.85 1.85 0 1 0 -3.7 0M561.8 202.1a1.85 1.85 0 1 0 3.7 0a1.85 1.85 0 1 0 -3.7 0M571.6 204.4a1.85 1.85 0 1 0 3.7 0a1.85 1.85 0 1 0 -3.7 0M578.0 203.4a1.85 1.85 0 1 0 3.7 0a1.85 1.85 0 1 0 -3.7 0M579.9 206.3a1.85 1.85 0 1 0 3.7 0a1.85 1.85 0 1 0 -3.7 0M551.6 205.3a1.85 1.85 0 1 0 3.7 0a1.85 1.85 0 1 0 -3.7 0M555.1 205.6a1.85 1.85 0 1 0 3.7 0a1.85 1.85 0 1 0 -3.7 0M558.9 205.3a1.85 1.85 0 1 0 3.7 0a1.85 1.85 0 1 0 -3.7 0M544.9 210.1a1.85 1.85 0 1 0 3.7 0a1.85 1.85 0 1 0 -3.7 0M548.4 212.7a1.85 1.85 0 1 0 3.7 0a1.85 1.85 0 1 0 -3.7 0M551.6 215.2a1.85 1.85 0 1 0 3.7 0a1.85 1.85 0 1 0 -3.7 0M555.1 218.1a1.85 1.85 0 1 0 3.7 0a1.85 1.85 0 1 0 -3.7 0M561.8 213.3a1.85 1.85 0 1 0 3.7 0a1.85 1.85 0 1 0 -3.7 0M565.3 213.3a1.85 1.85 0 1 0 3.7 0a1.85 1.85 0 1 0 -3.7 0M561.8 217.1a1.85 1.85 0 1 0 3.7 0a1.85 1.85 0 1 0 -3.7 0M561.8 219.0a1.85 1.85 0 1 0 3.7 0a1.85 1.85 0 1 0 -3.7 0M571.9 211.1a1.85 1.85 0 1 0 3.7 0a1.85 1.85 0 1 0 -3.7 0M571.9 215.2a1.85 1.85 0 1 0 3.7 0a1.85 1.85 0 1 0 -3.7 0M568.4 219.0a1.85 1.85 0 1 0 3.7 0a1.85 1.85 0 1 0 -3.7 0M571.9 218.7a1.85 1.85 0 1 0 3.7 0a1.85 1.85 0 1 0 -3.7 0M575.5 209.5a1.85 1.85 0 1 0 3.7 0a1.85 1.85 0 1 0 -3.7 0M581.2 213.9a1.85 1.85 0 1 0 3.7 0a1.85 1.85 0 1 0 -3.7 0M581.2 217.1a1.85 1.85 0 1 0 3.7 0a1.85 1.85 0 1 0 -3.7 0M578.0 220.6a1.85 1.85 0 1 0 3.7 0a1.85 1.85 0 1 0 -3.7 0M541.7 217.4a1.85 1.85 0 1 0 3.7 0a1.85 1.85 0 1 0 -3.7 0M544.9 220.6a1.85 1.85 0 1 0 3.7 0a1.85 1.85 0 1 0 -3.7 0M548.1 221.2a1.85 1.85 0 1 0 3.7 0a1.85 1.85 0 1 0 -3.7 0M555.1 222.5a1.85 1.85 0 1 0 3.7 0a1.85 1.85 0 1 0 -3.7 0M555.1 224.1a1.85 1.85 0 1 0 3.7 0a1.85 1.85 0 1 0 -3.7 0M558.3 224.1a1.85 1.85 0 1 0 3.7 0a1.85 1.85 0 1 0 -3.7 0M551.9 224.8a1.85 1.85 0 1 0 3.7 0a1.85 1.85 0 1 0 -3.7 0M564.9 222.8a1.85 1.85 0 1 0 3.7 0a1.85 1.85 0 1 0 -3.7 0M571.6 224.8a1.85 1.85 0 1 0 3.7 0a1.85 1.85 0 1 0 -3.7 0M575.5 226.3a1.85 1.85 0 1 0 3.7 0a1.85 1.85 0 1 0 -3.7 0M541.7 225.4a1.85 1.85 0 1 0 3.7 0a1.85 1.85 0 1 0 -3.7 0M541.7 227.9a1.85 1.85 0 1 0 3.7 0a1.85 1.85 0 1 0 -3.7 0M548.1 227.9a1.85 1.85 0 1 0 3.7 0a1.85 1.85 0 1 0 -3.7 0M555.1 228.9a1.85 1.85 0 1 0 3.7 0a1.85 1.85 0 1 0 -3.7 0M551.9 232.4a1.85 1.85 0 1 0 3.7 0a1.85 1.85 0 1 0 -3.7 0M561.8 229.2a1.85 1.85 0 1 0 3.7 0a1.85 1.85 0 1 0 -3.7 0M565.3 227.9a1.85 1.85 0 1 0 3.7 0a1.85 1.85 0 1 0 -3.7 0M565.3 231.1a1.85 1.85 0 1 0 3.7 0a1.85 1.85 0 1 0 -3.7 0M571.6 230.5a1.85 1.85 0 1 0 3.7 0a1.85 1.85 0 1 0 -3.7 0M581.2 227.9a1.85 1.85 0 1 0 3.7 0a1.85 1.85 0 1 0 -3.7 0M581.2 232.4a1.85 1.85 0 1 0 3.7 0a1.85 1.85 0 1 0 -3.7 0M555.1 234.6a1.85 1.85 0 1 0 3.7 0a1.85 1.85 0 1 0 -3.7 0M548.1 235.6a1.85 1.85 0 1 0 3.7 0a1.85 1.85 0 1 0 -3.7 0M561.8 234.9a1.85 1.85 0 1 0 3.7 0a1.85 1.85 0 1 0 -3.7 0M574.8 234.9a1.85 1.85 0 1 0 3.7 0a1.85 1.85 0 1 0 -3.7 0M514.6 237.0a1.85 1.85 0 1 0 3.7 0a1.85 1.85 0 1 0 -3.7 0M521.3 237.0a1.85 1.85 0 1 0 3.7 0a1.85 1.85 0 1 0 -3.7 0M537.9 237.0a1.85 1.85 0 1 0 3.7 0a1.85 1.85 0 1 0 -3.7 0M501.2 242.1a1.85 1.85 0 1 0 3.7 0a1.85 1.85 0 1 0 -3.7 0M507.9 240.1a1.85 1.85 0 1 0 3.7 0a1.85 1.85 0 1 0 -3.7 0M511.1 243.0a1.85 1.85 0 1 0 3.7 0a1.85 1.85 0 1 0 -3.7 0M521.3 243.3a1.85 1.85 0 1 0 3.7 0a1.85 1.85 0 1 0 -3.7 0M524.8 242.4a1.85 1.85 0 1 0 3.7 0a1.85 1.85 0 1 0 -3.7 0M524.8 245.2a1.85 1.85 0 1 0 3.7 0a1.85 1.85 0 1 0 -3.7 0M497.7 249.4a1.85 1.85 0 1 0 3.7 0a1.85 1.85 0 1 0 -3.7 0M501.2 253.5a1.85 1.85 0 1 0 3.7 0a1.85 1.85 0 1 0 -3.7 0M518.1 253.5a1.85 1.85 0 1 0 3.7 0a1.85 1.85 0 1 0 -3.7 0M534.7 264.7a1.85 1.85 0 1 0 3.7 0a1.85 1.85 0 1 0 -3.7 0M541.7 240.5a1.85 1.85 0 1 0 3.7 0a1.85 1.85 0 1 0 -3.7 0M544.9 238.6a1.85 1.85 0 1 0 3.7 0a1.85 1.85 0 1 0 -3.7 0M575.1 239.2a1.85 1.85 0 1 0 3.7 0a1.85 1.85 0 1 0 -3.7 0M581.2 239.2a1.85 1.85 0 1 0 3.7 0a1.85 1.85 0 1 0 -3.7 0M545.2 244.9a1.85 1.85 0 1 0 3.7 0a1.85 1.85 0 1 0 -3.7 0M558.3 242.1a1.85 1.85 0 1 0 3.7 0a1.85 1.85 0 1 0 -3.7 0M561.8 244.9a1.85 1.85 0 1 0 3.7 0a1.85 1.85 0 1 0 -3.7 0M555.1 254.5a1.85 1.85 0 1 0 3.7 0a1.85 1.85 0 1 0 -3.7 0M561.8 258.0a1.85 1.85 0 1 0 3.7 0a1.85 1.85 0 1 0 -3.7 0M544.9 259.2a1.85 1.85 0 1 0 3.7 0a1.85 1.85 0 1 0 -3.7 0M568.4 265.6a1.85 1.85 0 1 0 3.7 0a1.85 1.85 0 1 0 -3.7 0M608.9 201.6a1.85 1.85 0 1 0 3.7 0a1.85 1.85 0 1 0 -3.7 0M639.5 199.3a1.85 1.85 0 1 0 3.7 0a1.85 1.85 0 1 0 -3.7 0M588.8 201.8a1.85 1.85 0 1 0 3.7 0a1.85 1.85 0 1 0 -3.7 0M612.3 207.2a1.85 1.85 0 1 0 3.7 0a1.85 1.85 0 1 0 -3.7 0M626.1 206.7a1.85 1.85 0 1 0 3.7 0a1.85 1.85 0 1 0 -3.7 0M632.7 205.9a1.85 1.85 0 1 0 3.7 0a1.85 1.85 0 1 0 -3.7 0M632.7 208.2a1.85 1.85 0 1 0 3.7 0a1.85 1.85 0 1 0 -3.7 0M646.1 205.9a1.85 1.85 0 1 0 3.7 0a1.85 1.85 0 1 0 -3.7 0M649.7 209.7a1.85 1.85 0 1 0 3.7 0a1.85 1.85 0 1 0 -3.7 0M639.5 210.5a1.85 1.85 0 1 0 3.7 0a1.85 1.85 0 1 0 -3.7 0M642.9 211.8a1.85 1.85 0 1 0 3.7 0a1.85 1.85 0 1 0 -3.7 0M588.8 209.7a1.85 1.85 0 1 0 3.7 0a1.85 1.85 0 1 0 -3.7 0M595.5 209.7a1.85 1.85 0 1 0 3.7 0a1.85 1.85 0 1 0 -3.7 0M599.0 213.0a1.85 1.85 0 1 0 3.7 0a1.85 1.85 0 1 0 -3.7 0M602.3 213.0a1.85 1.85 0 1 0 3.7 0a1.85 1.85 0 1 0 -3.7 0M608.9 212.3a1.85 1.85 0 1 0 3.7 0a1.85 1.85 0 1 0 -3.7 0M615.9 215.8a1.85 1.85 0 1 0 3.7 0a1.85 1.85 0 1 0 -3.7 0M619.4 215.2a1.85 1.85 0 1 0 3.7 0a1.85 1.85 0 1 0 -3.7 0M626.1 213.0a1.85 1.85 0 1 0 3.7 0a1.85 1.85 0 1 0 -3.7 0M588.8 217.1a1.85 1.85 0 1 0 3.7 0a1.85 1.85 0 1 0 -3.7 0M588.8 219.7a1.85 1.85 0 1 0 3.7 0a1.85 1.85 0 1 0 -3.7 0M588.8 221.6a1.85 1.85 0 1 0 3.7 0a1.85 1.85 0 1 0 -3.7 0M595.5 217.8a1.85 1.85 0 1 0 3.7 0a1.85 1.85 0 1 0 -3.7 0M595.5 221.6a1.85 1.85 0 1 0 3.7 0a1.85 1.85 0 1 0 -3.7 0M605.7 220.7a1.85 1.85 0 1 0 3.7 0a1.85 1.85 0 1 0 -3.7 0M612.3 220.7a1.85 1.85 0 1 0 3.7 0a1.85 1.85 0 1 0 -3.7 0M585.3 223.5a1.85 1.85 0 1 0 3.7 0a1.85 1.85 0 1 0 -3.7 0M595.5 225.4a1.85 1.85 0 1 0 3.7 0a1.85 1.85 0 1 0 -3.7 0M599.0 225.4a1.85 1.85 0 1 0 3.7 0a1.85 1.85 0 1 0 -3.7 0M592.3 229.2a1.85 1.85 0 1 0 3.7 0a1.85 1.85 0 1 0 -3.7 0M595.5 229.2a1.85 1.85 0 1 0 3.7 0a1.85 1.85 0 1 0 -3.7 0M599.0 229.2a1.85 1.85 0 1 0 3.7 0a1.85 1.85 0 1 0 -3.7 0M602.3 230.9a1.85 1.85 0 1 0 3.7 0a1.85 1.85 0 1 0 -3.7 0M595.5 233.4a1.85 1.85 0 1 0 3.7 0a1.85 1.85 0 1 0 -3.7 0M599.0 236.2a1.85 1.85 0 1 0 3.7 0a1.85 1.85 0 1 0 -3.7 0M619.1 225.0a1.85 1.85 0 1 0 3.7 0a1.85 1.85 0 1 0 -3.7 0M622.7 224.1a1.85 1.85 0 1 0 3.7 0a1.85 1.85 0 1 0 -3.7 0M626.1 222.2a1.85 1.85 0 1 0 3.7 0a1.85 1.85 0 1 0 -3.7 0M632.7 223.9a1.85 1.85 0 1 0 3.7 0a1.85 1.85 0 1 0 -3.7 0M642.9 223.2a1.85 1.85 0 1 0 3.7 0a1.85 1.85 0 1 0 -3.7 0M646.1 220.7a1.85 1.85 0 1 0 3.7 0a1.85 1.85 0 1 0 -3.7 0M656.3 220.7a1.85 1.85 0 1 0 3.7 0a1.85 1.85 0 1 0 -3.7 0M659.6 227.9a1.85 1.85 0 1 0 3.7 0a1.85 1.85 0 1 0 -3.7 0M619.1 229.2a1.85 1.85 0 1 0 3.7 0a1.85 1.85 0 1 0 -3.7 0M619.1 234.9a1.85 1.85 0 1 0 3.7 0a1.85 1.85 0 1 0 -3.7 0M629.3 230.9a1.85 1.85 0 1 0 3.7 0a1.85 1.85 0 1 0 -3.7 0M639.5 232.4a1.85 1.85 0 1 0 3.7 0a1.85 1.85 0 1 0 -3.7 0M649.4 233.0a1.85 1.85 0 1 0 3.7 0a1.85 1.85 0 1 0 -3.7 0M608.9 232.7a1.85 1.85 0 1 0 3.7 0a1.85 1.85 0 1 0 -3.7 0M605.7 236.9a1.85 1.85 0 1 0 3.7 0a1.85 1.85 0 1 0 -3.7 0M612.3 239.0a1.85 1.85 0 1 0 3.7 0a1.85 1.85 0 1 0 -3.7 0M585.3 236.2a1.85 1.85 0 1 0 3.7 0a1.85 1.85 0 1 0 -3.7 0M588.8 236.9a1.85 1.85 0 1 0 3.7 0a1.85 1.85 0 1 0 -3.7 0M632.7 238.5a1.85 1.85 0 1 0 3.7 0a1.85 1.85 0 1 0 -3.7 0M636.3 239.4a1.85 1.85 0 1 0 3.7 0a1.85 1.85 0 1 0 -3.7 0M642.9 243.5a1.85 1.85 0 1 0 3.7 0a1.85 1.85 0 1 0 -3.7 0M652.9 241.1a1.85 1.85 0 1 0 3.7 0a1.85 1.85 0 1 0 -3.7 0M649.4 246.2a1.85 1.85 0 1 0 3.7 0a1.85 1.85 0 1 0 -3.7 0M646.1 247.7a1.85 1.85 0 1 0 3.7 0a1.85 1.85 0 1 0 -3.7 0M619.1 245.8a1.85 1.85 0 1 0 3.7 0a1.85 1.85 0 1 0 -3.7 0M622.7 243.5a1.85 1.85 0 1 0 3.7 0a1.85 1.85 0 1 0 -3.7 0M632.7 244.1a1.85 1.85 0 1 0 3.7 0a1.85 1.85 0 1 0 -3.7 0M585.3 243.9a1.85 1.85 0 1 0 3.7 0a1.85 1.85 0 1 0 -3.7 0M585.3 250.0a1.85 1.85 0 1 0 3.7 0a1.85 1.85 0 1 0 -3.7 0M626.1 254.4a1.85 1.85 0 1 0 3.7 0a1.85 1.85 0 1 0 -3.7 0M608.9 264.0a1.85 1.85 0 1 0 3.7 0a1.85 1.85 0 1 0 -3.7 0M615.9 263.4a1.85 1.85 0 1 0 3.7 0a1.85 1.85 0 1 0 -3.7 0" stroke="#3c3c3c" stroke-width="0.95" fill="none"/>
<path d="M77.1 408.8a1.85 1.85 0 1 0 3.7 0a1.85 1.85 0 1 0 -3.7 0M80.5 417.5a1.85 1.85 0 1 0 3.7 0a1.85 1.85 0 1 0 -3.7 0M73.6 421.6a1.85 1.85 0 1 0 3.7 0a1.85 1.85 0 1 0 -3.7 0M87.3 424.5a1.85 1.85 0 1 0 3.7 0a1.85 1.85 0 1 0 -3.7 0M137.6 417.1a1.85 1.85 0 1 0 3.7 0a1.85 1.85 0 1 0 -3.7 0M87.3 433.7a1.85 1.85 0 1 0 3.7 0a1.85 1.85 0 1 0 -3.7 0M83.8 439.2a1.85 1.85 0 1 0 3.7 0a1.85 1.85 0 1 0 -3.7 0M87.3 438.8a1.85 1.85 0 1 0 3.7 0a1.85 1.85 0 1 0 -3.7 0M107.4 439.7a1.85 1.85 0 1 0 3.7 0a1.85 1.85 0 1 0 -3.7 0M80.5 447.9a1.85 1.85 0 1 0 3.7 0a1.85 1.85 0 1 0 -3.7 0M97.5 447.1a1.85 1.85 0 1 0 3.7 0a1.85 1.85 0 1 0 -3.7 0M87.3 453.7a1.85 1.85 0 1 0 3.7 0a1.85 1.85 0 1 0 -3.7 0M124.2 453.2a1.85 1.85 0 1 0 3.7 0a1.85 1.85 0 1 0 -3.7 0M124.2 457.0a1.85 1.85 0 1 0 3.7 0a1.85 1.85 0 1 0 -3.7 0M110.9 457.9a1.85 1.85 0 1 0 3.7 0a1.85 1.85 0 1 0 -3.7 0M100.7 461.1a1.85 1.85 0 1 0 3.7 0a1.85 1.85 0 1 0 -3.7 0M80.5 461.4a1.85 1.85 0 1 0 3.7 0a1.85 1.85 0 1 0 -3.7 0M77.1 463.6a1.85 1.85 0 1 0 3.7 0a1.85 1.85 0 1 0 -3.7 0M73.6 467.1a1.85 1.85 0 1 0 3.7 0a1.85 1.85 0 1 0 -3.7 0M120.8 466.2a1.85 1.85 0 1 0 3.7 0a1.85 1.85 0 1 0 -3.7 0M164.7 399.4a1.85 1.85 0 1 0 3.7 0a1.85 1.85 0 1 0 -3.7 0M171.4 409.9a1.85 1.85 0 1 0 3.7 0a1.85 1.85 0 1 0 -3.7 0M171.4 410.9a1.85 1.85 0 1 0 3.7 0a1.85 1.85 0 1 0 -3.7 0M224.9 408.2a1.85 1.85 0 1 0 3.7 0a1.85 1.85 0 1 0 -3.7 0M171.4 450.4a1.85 1.85 0 1 0 3.7 0a1.85 1.85 0 1 0 -3.7 0M198.4 450.1a1.85 1.85 0 1 0 3.7 0a1.85 1.85 0 1 0 -3.7 0M184.7 456.2a1.85 1.85 0 1 0 3.7 0a1.85 1.85 0 1 0 -3.7 0M174.8 461.7a1.85 1.85 0 1 0 3.7 0a1.85 1.85 0 1 0 -3.7 0M188.3 464.3a1.85 1.85 0 1 0 3.7 0a1.85 1.85 0 1 0 -3.7 0M181.6 465.9a1.85 1.85 0 1 0 3.7 0a1.85 1.85 0 1 0 -3.7 0M198.4 466.2a1.85 1.85 0 1 0 3.7 0a1.85 1.85 0 1 0 -3.7 0M215.3 462.0a1.85 1.85 0 1 0 3.7 0a1.85 1.85 0 1 0 -3.7 0M218.8 466.4a1.85 1.85 0 1 0 3.7 0a1.85 1.85 0 1 0 -3.7 0M242.1 448.3a1.85 1.85 0 1 0 3.7 0a1.85 1.85 0 1 0 -3.7 0M245.6 444.8a1.85 1.85 0 1 0 3.7 0a1.85 1.85 0 1 0 -3.7 0M259.0 466.2a1.85 1.85 0 1 0 3.7 0a1.85 1.85 0 1 0 -3.7 0M80.5 471.8a1.85 1.85 0 1 0 3.7 0a1.85 1.85 0 1 0 -3.7 0M97.2 472.7a1.85 1.85 0 1 0 3.7 0a1.85 1.85 0 1 0 -3.7 0M104.1 469.3a1.85 1.85 0 1 0 3.7 0a1.85 1.85 0 1 0 -3.7 0M104.1 472.7a1.85 1.85 0 1 0 3.7 0a1.85 1.85 0 1 0 -3.7 0M110.9 476.2a1.85 1.85 0 1 0 3.7 0a1.85 1.85 0 1 0 -3.7 0M120.7 475.3a1.85 1.85 0 1 0 3.7 0a1.85 1.85 0 1 0 -3.7 0M120.7 477.4a1.85 1.85 0 1 0 3.7 0a1.85 1.85 0 1 0 -3.7 0M124.2 482.5a1.85 1.85 0 1 0 3.7 0a1.85 1.85 0 1 0 -3.7 0M117.5 483.6a1.85 1.85 0 1 0 3.7 0a1.85 1.85 0 1 0 -3.7 0M110.9 483.6a1.85 1.85 0 1 0 3.7 0a1.85 1.85 0 1 0 -3.7 0M110.9 487.1a1.85 1.85 0 1 0 3.7 0a1.85 1.85 0 1 0 -3.7 0M124.2 489.7a1.85 1.85 0 1 0 3.7 0a1.85 1.85 0 1 0 -3.7 0M80.5 479.7a1.85 1.85 0 1 0 3.7 0a1.85 1.85 0 1 0 -3.7 0M77.1 484.8a1.85 1.85 0 1 0 3.7 0a1.85 1.85 0 1 0 -3.7 0M77.1 489.9a1.85 1.85 0 1 0 3.7 0a1.85 1.85 0 1 0 -3.7 0M80.5 494.4a1.85 1.85 0 1 0 3.7 0a1.85 1.85 0 1 0 -3.7 0M83.8 495.0a1.85 1.85 0 1 0 3.7 0a1.85 1.85 0 1 0 -3.7 0M97.2 493.4a1.85 1.85 0 1 0 3.7 0a1.85 1.85 0 1 0 -3.7 0M139.5 474.0a1.85 1.85 0 1 0 3.7 0a1.85 1.85 0 1 0 -3.7 0M131.2 495.7a1.85 1.85 0 1 0 3.7 0a1.85 1.85 0 1 0 -3.7 0M134.7 494.8a1.85 1.85 0 1 0 3.7 0a1.85 1.85 0 1 0 -3.7 0M107.4 499.7a1.85 1.85 0 1 0 3.7 0a1.85 1.85 0 1 0 -3.7 0M114.0 499.1a1.85 1.85 0 1 0 3.7 0a1.85 1.85 0 1 0 -3.7 0M127.8 500.8a1.85 1.85 0 1 0 3.7 0a1.85 1.85 0 1 0 -3.7 0M80.5 501.6a1.85 1.85 0 1 0 3.7 0a1.85 1.85 0 1 0 -3.7 0M80.5 508.8a1.85 1.85 0 1 0 3.7 0a1.85 1.85 0 1 0 -3.7 0M87.3 509.3a1.85 1.85 0 1 0 3.7 0a1.85 1.85 0 1 0 -3.7 0M87.3 511.2a1.85 1.85 0 1 0 3.7 0a1.85 1.85 0 1 0 -3.7 0M94.0 507.8a1.85 1.85 0 1 0 3.7 0a1.85 1.85 0 1 0 -3.7 0M110.9 508.4a1.85 1.85 0 1 0 3.7 0a1.85 1.85 0 1 0 -3.7 0M131.0 505.2a1.85 1.85 0 1 0 3.7 0a1.85 1.85 0 1 0 -3.7 0M131.0 508.4a1.85 1.85 0 1 0 3.7 0a1.85 1.85 0 1 0 -3.7 0M131.0 510.9a1.85 1.85 0 1 0 3.7 0a1.85 1.85 0 1 0 -3.7 0M137.6 508.4a1.85 1.85 0 1 0 3.7 0a1.85 1.85 0 1 0 -3.7 0M137.6 510.3a1.85 1.85 0 1 0 3.7 0a1.85 1.85 0 1 0 -3.7 0M124.2 511.2a1.85 1.85 0 1 0 3.7 0a1.85 1.85 0 1 0 -3.7 0M80.5 514.8a1.85 1.85 0 1 0 3.7 0a1.85 1.85 0 1 0 -3.7 0M90.8 515.2a1.85 1.85 0 1 0 3.7 0a1.85 1.85 0 1 0 -3.7 0M97.5 513.5a1.85 1.85 0 1 0 3.7 0a1.85 1.85 0 1 0 -3.7 0M100.7 511.9a1.85 1.85 0 1 0 3.7 0a1.85 1.85 0 1 0 -3.7 0M104.1 515.4a1.85 1.85 0 1 0 3.7 0a1.85 1.85 0 1 0 -3.7 0M107.4 514.8a1.85 1.85 0 1 0 3.7 0a1.85 1.85 0 1 0 -3.7 0M114.0 514.8a1.85 1.85 0 1 0 3.7 0a1.85 1.85 0 1 0 -3.7 0M94.0 518.0a1.85 1.85 0 1 0 3.7 0a1.85 1.85 0 1 0 -3.7 0M94.0 519.2a1.85 1.85 0 1 0 3.7 0a1.85 1.85 0 1 0 -3.7 0M70.5 519.9a1.85 1.85 0 1 0 3.7 0a1.85 1.85 0 1 0 -3.7 0M77.1 521.1a1.85 1.85 0 1 0 3.7 0a1.85 1.85 0 1 0 -3.7 0M110.9 521.1a1.85 1.85 0 1 0 3.7 0a1.85 1.85 0 1 0 -3.7 0M114.0 520.3a1.85 1.85 0 1 0 3.7 0a1.85 1.85 0 1 0 -3.7 0M117.9 521.8a1.85 1.85 0 1 0 3.7 0a1.85 1.85 0 1 0 -3.7 0M131.0 521.8a1.85 1.85 0 1 0 3.7 0a1.85 1.85 0 1 0 -3.7 0M134.7 522.0a1.85 1.85 0 1 0 3.7 0a1.85 1.85 0 1 0 -3.7 0M134.7 517.3a1.85 1.85 0 1 0 3.7 0a1.85 1.85 0 1 0 -3.7 0M73.9 526.2a1.85 1.85 0 1 0 3.7 0a1.85 1.85 0 1 0 -3.7 0M73.9 528.8a1.85 1.85 0 1 0 3.7 0a1.85 1.85 0 1 0 -3.7 0M87.3 525.6a1.85 1.85 0 1 0 3.7 0a1.85 1.85 0 1 0 -3.7 0M100.7 524.6a1.85 1.85 0 1 0 3.7 0a1.85 1.85 0 1 0 -3.7 0M107.4 525.0a1.85 1.85 0 1 0 3.7 0a1.85 1.85 0 1 0 -3.7 0M120.7 525.6a1.85 1.85 0 1 0 3.7 0a1.85 1.85 0 1 0 -3.7 0M120.7 528.8a1.85 1.85 0 1 0 3.7 0a1.85 1.85 0 1 0 -3.7 0M127.8 525.6a1.85 1.85 0 1 0 3.7 0a1.85 1.85 0 1 0 -3.7 0M127.8 528.8a1.85 1.85 0 1 0 3.7 0a1.85 1.85 0 1 0 -3.7 0M124.2 528.8a1.85 1.85 0 1 0 3.7 0a1.85 1.85 0 1 0 -3.7 0M80.5 528.1a1.85 1.85 0 1 0 3.7 0a1.85 1.85 0 1 0 -3.7 0M80.5 530.7a1.85 1.85 0 1 0 3.7 0a1.85 1.85 0 1 0 -3.7 0M134.7 529.4a1.85 1.85 0 1 0 3.7 0a1.85 1.85 0 1 0 -3.7 0M138.2 532.0a1.85 1.85 0 1 0 3.7 0a1.85 1.85 0 1 0 -3.7 0M66.9 533.2a1.85 1.85 0 1 0 3.7 0a1.85 1.85 0 1 0 -3.7 0M70.5 532.6a1.85 1.85 0 1 0 3.7 0a1.85 1.85 0 1 0 -3.7 0M70.5 536.4a1.85 1.85 0 1 0 3.7 0a1.85 1.85 0 1 0 -3.7 0M77.1 535.8a1.85 1.85 0 1 0 3.7 0a1.85 1.85 0 1 0 -3.7 0M80.5 536.4a1.85 1.85 0 1 0 3.7 0a1.85 1.85 0 1 0 -3.7 0M77.1 539.6a1.85 1.85 0 1 0 3.7 0a1.85 1.85 0 1 0 -3.7 0M80.5 539.6a1.85 1.85 0 1 0 3.7 0a1.85 1.85 0 1 0 -3.7 0M87.3 532.6a1.85 1.85 0 1 0 3.7 0a1.85 1.85 0 1 0 -3.7 0M90.8 533.2a1.85 1.85 0 1 0 3.7 0a1.85 1.85 0 1 0 -3.7 0M90.8 536.4a1.85 1.85 0 1 0 3.7 0a1.85 1.85 0 1 0 -3.7 0M94.0 536.8a1.85 1.85 0 1 0 3.7 0a1.85 1.85 0 1 0 -3.7 0M87.3 537.1a1.85 1.85 0 1 0 3.7 0a1.85 1.85 0 1 0 -3.7 0M90.8 539.6a1.85 1.85 0 1 0 3.7 0a1.85 1.85 0 1 0 -3.7 0M100.7 533.2a1.85 1.85 0 1 0 3.7 0a1.85 1.85 0 1 0 -3.7 0M100.7 536.4a1.85 1.85 0 1 0 3.7 0a1.85 1.85 0 1 0 -3.7 0M104.1 536.4a1.85 1.85 0 1 0 3.7 0a1.85 1.85 0 1 0 -3.7 0M107.4 533.9a1.85 1.85 0 1 0 3.7 0a1.85 1.85 0 1 0 -3.7 0M104.1 540.3a1.85 1.85 0 1 0 3.7 0a1.85 1.85 0 1 0 -3.7 0M114.0 534.5a1.85 1.85 0 1 0 3.7 0a1.85 1.85 0 1 0 -3.7 0M124.2 537.1a1.85 1.85 0 1 0 3.7 0a1.85 1.85 0 1 0 -3.7 0M117.9 540.3a1.85 1.85 0 1 0 3.7 0a1.85 1.85 0 1 0 -3.7 0M121.0 540.3a1.85 1.85 0 1 0 3.7 0a1.85 1.85 0 1 0 -3.7 0M124.2 540.3a1.85 1.85 0 1 0 3.7 0a1.85 1.85 0 1 0 -3.7 0M131.2 540.3a1.85 1.85 0 1 0 3.7 0a1.85 1.85 0 1 0 -3.7 0M134.7 536.4a1.85 1.85 0 1 0 3.7 0a1.85 1.85 0 1 0 -3.7 0M138.2 538.4a1.85 1.85 0 1 0 3.7 0a1.85 1.85 0 1 0 -3.7 0M178.1 469.3a1.85 1.85 0 1 0 3.7 0a1.85 1.85 0 1 0 -3.7 0M144.6 474.9a1.85 1.85 0 1 0 3.7 0a1.85 1.85 0 1 0 -3.7 0M151.4 478.7a1.85 1.85 0 1 0 3.7 0a1.85 1.85 0 1 0 -3.7 0M164.4 479.7a1.85 1.85 0 1 0 3.7 0a1.85 1.85 0 1 0 -3.7 0M167.9 476.6a1.85 1.85 0 1 0 3.7 0a1.85 1.85 0 1 0 -3.7 0M167.9 479.1a1.85 1.85 0 1 0 3.7 0a1.85 1.85 0 1 0 -3.7 0M221.9 472.1a1.85 1.85 0 1 0 3.7 0a1.85 1.85 0 1 0 -3.7 0M215.3 479.1a1.85 1.85 0 1 0 3.7 0a1.85 1.85 0 1 0 -3.7 0M167.9 488.7a1.85 1.85 0 1 0 3.7 0a1.85 1.85 0 1 0 -3.7 0M144.6 495.3a1.85 1.85 0 1 0 3.7 0a1.85 1.85 0 1 0 -3.7 0M158.0 492.2a1.85 1.85 0 1 0 3.7 0a1.85 1.85 0 1 0 -3.7 0M158.0 496.6a1.85 1.85 0 1 0 3.7 0a1.85 1.85 0 1 0 -3.7 0M181.2 490.6a1.85 1.85 0 1 0 3.7 0a1.85 1.85 0 1 0 -3.7 0M181.2 493.5a1.85 1.85 0 1 0 3.7 0a1.85 1.85 0 1 0 -3.7 0M191.8 495.0a1.85 1.85 0 1 0 3.7 0a1.85 1.85 0 1 0 -3.7 0M188.3 498.2a1.85 1.85 0 1 0 3.7 0a1.85 1.85 0 1 0 -3.7 0M181.2 499.5a1.85 1.85 0 1 0 3.7 0a1.85 1.85 0 1 0 -3.7 0M184.7 503.3a1.85 1.85 0 1 0 3.7 0a1.85 1.85 0 1 0 -3.7 0M191.8 503.7a1.85 1.85 0 1 0 3.7 0a1.85 1.85 0 1 0 -3.7 0M208.7 498.6a1.85 1.85 0 1 0 3.7 0a1.85 1.85 0 1 0 -3.7 0M201.9 502.7a1.85 1.85 0 1 0 3.7 0a1.85 1.85 0 1 0 -3.7 0M224.9 502.0a1.85 1.85 0 1 0 3.7 0a1.85 1.85 0 1 0 -3.7 0M224.9 508.4a1.85 1.85 0 1 0 3.7 0a1.85 1.85 0 1 0 -3.7 0M164.4 503.3a1.85 1.85 0 1 0 3.7 0a1.85 1.85 0 1 0 -3.7 0M167.9 505.2a1.85 1.85 0 1 0 3.7 0a1.85 1.85 0 1 0 -3.7 0M171.4 503.9a1.85 1.85 0 1 0 3.7 0a1.85 1.85 0 1 0 -3.7 0M147.8 508.8a1.85 1.85 0 1 0 3.7 0a1.85 1.85 0 1 0 -3.7 0M151.4 509.0a1.85 1.85 0 1 0 3.7 0a1.85 1.85 0 1 0 -3.7 0M154.8 508.4a1.85 1.85 0 1 0 3.7 0a1.85 1.85 0 1 0 -3.7 0M154.8 512.2a1.85 1.85 0 1 0 3.7 0a1.85 1.85 0 1 0 -3.7 0M158.0 509.0a1.85 1.85 0 1 0 3.7 0a1.85 1.85 0 1 0 -3.7 0M158.0 510.9a1.85 1.85 0 1 0 3.7 0a1.85 1.85 0 1 0 -3.7 0M164.4 509.7a1.85 1.85 0 1 0 3.7 0a1.85 1.85 0 1 0 -3.7 0M167.9 509.0a1.85 1.85 0 1 0 3.7 0a1.85 1.85 0 1 0 -3.7 0M171.4 510.9a1.85 1.85 0 1 0 3.7 0a1.85 1.85 0 1 0 -3.7 0M174.8 510.9a1.85 1.85 0 1 0 3.7 0a1.85 1.85 0 1 0 -3.7 0M178.1 506.5a1.85 1.85 0 1 0 3.7 0a1.85 1.85 0 1 0 -3.7 0M178.1 509.7a1.85 1.85 0 1 0 3.7 0a1.85 1.85 0 1 0 -3.7 0M205.1 509.4a1.85 1.85 0 1 0 3.7 0a1.85 1.85 0 1 0 -3.7 0M191.8 512.2a1.85 1.85 0 1 0 3.7 0a1.85 1.85 0 1 0 -3.7 0M181.6 514.4a1.85 1.85 0 1 0 3.7 0a1.85 1.85 0 1 0 -3.7 0M184.7 516.7a1.85 1.85 0 1 0 3.7 0a1.85 1.85 0 1 0 -3.7 0M211.5 512.2a1.85 1.85 0 1 0 3.7 0a1.85 1.85 0 1 0 -3.7 0M215.3 512.2a1.85 1.85 0 1 0 3.7 0a1.85 1.85 0 1 0 -3.7 0M218.5 514.4a1.85 1.85 0 1 0 3.7 0a1.85 1.85 0 1 0 -3.7 0M167.9 516.7a1.85 1.85 0 1 0 3.7 0a1.85 1.85 0 1 0 -3.7 0M171.4 516.0a1.85 1.85 0 1 0 3.7 0a1.85 1.85 0 1 0 -3.7 0M171.4 518.0a1.85 1.85 0 1 0 3.7 0a1.85 1.85 0 1 0 -3.7 0M158.0 517.3a1.85 1.85 0 1 0 3.7 0a1.85 1.85 0 1 0 -3.7 0M161.2 519.2a1.85 1.85 0 1 0 3.7 0a1.85 1.85 0 1 0 -3.7 0M164.4 521.1a1.85 1.85 0 1 0 3.7 0a1.85 1.85 0 1 0 -3.7 0M164.4 522.4a1.85 1.85 0 1 0 3.7 0a1.85 1.85 0 1 0 -3.7 0M147.8 518.6a1.85 1.85 0 1 0 3.7 0a1.85 1.85 0 1 0 -3.7 0M144.6 523.1a1.85 1.85 0 1 0 3.7 0a1.85 1.85 0 1 0 -3.7 0M151.4 523.7a1.85 1.85 0 1 0 3.7 0a1.85 1.85 0 1 0 -3.7 0M158.0 523.1a1.85 1.85 0 1 0 3.7 0a1.85 1.85 0 1 0 -3.7 0M167.9 525.6a1.85 1.85 0 1 0 3.7 0a1.85 1.85 0 1 0 -3.7 0M174.8 523.1a1.85 1.85 0 1 0 3.7 0a1.85 1.85 0 1 0 -3.7 0M174.8 527.9a1.85 1.85 0 1 0 3.7 0a1.85 1.85 0 1 0 -3.7 0M178.1 518.0a1.85 1.85 0 1 0 3.7 0a1.85 1.85 0 1 0 -3.7 0M218.5 521.5a1.85 1.85 0 1 0 3.7 0a1.85 1.85 0 1 0 -3.7 0M221.7 521.5a1.85 1.85 0 1 0 3.7 0a1.85 1.85 0 1 0 -3.7 0M205.1 522.0a1.85 1.85 0 1 0 3.7 0a1.85 1.85 0 1 0 -3.7 0M208.7 520.5a1.85 1.85 0 1 0 3.7 0a1.85 1.85 0 1 0 -3.7 0M211.5 525.9a1.85 1.85 0 1 0 3.7 0a1.85 1.85 0 1 0 -3.7 0M208.7 528.8a1.85 1.85 0 1 0 3.7 0a1.85 1.85 0 1 0 -3.7 0M194.9 525.9a1.85 1.85 0 1 0 3.7 0a1.85 1.85 0 1 0 -3.7 0M158.0 528.1a1.85 1.85 0 1 0 3.7 0a1.85 1.85 0 1 0 -3.7 0M147.8 529.4a1.85 1.85 0 1 0 3.7 0a1.85 1.85 0 1 0 -3.7 0M171.4 530.1a1.85 1.85 0 1 0 3.7 0a1.85 1.85 0 1 0 -3.7 0M141.4 531.3a1.85 1.85 0 1 0 3.7 0a1.85 1.85 0 1 0 -3.7 0M144.6 533.9a1.85 1.85 0 1 0 3.7 0a1.85 1.85 0 1 0 -3.7 0M151.4 532.6a1.85 1.85 0 1 0 3.7 0a1.85 1.85 0 1 0 -3.7 0M154.8 536.4a1.85 1.85 0 1 0 3.7 0a1.85 1.85 0 1 0 -3.7 0M161.2 535.8a1.85 1.85 0 1 0 3.7 0a1.85 1.85 0 1 0 -3.7 0M164.4 535.8a1.85 1.85 0 1 0 3.7 0a1.85 1.85 0 1 0 -3.7 0M167.9 536.8a1.85 1.85 0 1 0 3.7 0a1.85 1.85 0 1 0 -3.7 0M174.8 536.8a1.85 1.85 0 1 0 3.7 0a1.85 1.85 0 1 0 -3.7 0M171.4 533.2a1.85 1.85 0 1 0 3.7 0a1.85 1.85 0 1 0 -3.7 0M191.8 533.2a1.85 1.85 0 1 0 3.7 0a1.85 1.85 0 1 0 -3.7 0M195.6 533.9a1.85 1.85 0 1 0 3.7 0a1.85 1.85 0 1 0 -3.7 0M198.8 535.8a1.85 1.85 0 1 0 3.7 0a1.85 1.85 0 1 0 -3.7 0M205.1 535.8a1.85 1.85 0 1 0 3.7 0a1.85 1.85 0 1 0 -3.7 0M209.0 533.9a1.85 1.85 0 1 0 3.7 0a1.85 1.85 0 1 0 -3.7 0M215.3 533.9a1.85 1.85 0 1 0 3.7 0a1.85 1.85 0 1 0 -3.7 0M218.5 538.4a1.85 1.85 0 1 0 3.7 0a1.85 1.85 0 1 0 -3.7 0M221.7 534.5a1.85 1.85 0 1 0 3.7 0a1.85 1.85 0 1 0 -3.7 0M147.8 539.6a1.85 1.85 0 1 0 3.7 0a1.85 1.85 0 1 0 -3.7 0M154.8 541.5a1.85 1.85 0 1 0 3.7 0a1.85 1.85 0 1 0 -3.7 0M161.2 541.1a1.85 1.85 0 1 0 3.7 0a1.85 1.85 0 1 0 -3.7 0M171.4 540.9a1.85 1.85 0 1 0 3.7 0a1.85 1.85 0 1 0 -3.7 0M187.9 539.6a1.85 1.85 0 1 0 3.7 0a1.85 1.85 0 1 0 -3.7 0M201.9 539.6a1.85 1.85 0 1 0 3.7 0a1.85 1.85 0 1 0 -3.7 0M218.5 540.9a1.85 1.85 0 1 0 3.7 0a1.85 1.85 0 1 0 -3.7 0M224.2 540.3a1.85 1.85 0 1 0 3.7 0a1.85 1.85 0 1 0 -3.7 0M229.0 468.9a1.85 1.85 0 1 0 3.7 0a1.85 1.85 0 1 0 -3.7 0M242.1 471.8a1.85 1.85 0 1 0 3.7 0a1.85 1.85 0 1 0 -3.7 0M242.1 477.8a1.85 1.85 0 1 0 3.7 0a1.85 1.85 0 1 0 -3.7 0M242.1 479.1a1.85 1.85 0 1 0 3.7 0a1.85 1.85 0 1 0 -3.7 0M245.5 477.2a1.85 1.85 0 1 0 3.7 0a1.85 1.85 0 1 0 -3.7 0M229.0 484.6a1.85 1.85 0 1 0 3.7 0a1.85 1.85 0 1 0 -3.7 0M231.9 499.9a1.85 1.85 0 1 0 3.7 0a1.85 1.85 0 1 0 -3.7 0M235.3 500.4a1.85 1.85 0 1 0 3.7 0a1.85 1.85 0 1 0 -3.7 0M235.3 507.4a1.85 1.85 0 1 0 3.7 0a1.85 1.85 0 1 0 -3.7 0M279.0 498.9a1.85 1.85 0 1 0 3.7 0a1.85 1.85 0 1 0 -3.7 0M289.2 502.9a1.85 1.85 0 1 0 3.7 0a1.85 1.85 0 1 0 -3.7 0M248.8 512.9a1.85 1.85 0 1 0 3.7 0a1.85 1.85 0 1 0 -3.7 0M229.0 517.3a1.85 1.85 0 1 0 3.7 0a1.85 1.85 0 1 0 -3.7 0M238.9 519.9a1.85 1.85 0 1 0 3.7 0a1.85 1.85 0 1 0 -3.7 0M242.1 518.3a1.85 1.85 0 1 0 3.7 0a1.85 1.85 0 1 0 -3.7 0M235.3 524.3a1.85 1.85 0 1 0 3.7 0a1.85 1.85 0 1 0 -3.7 0M235.3 525.9a1.85 1.85 0 1 0 3.7 0a1.85 1.85 0 1 0 -3.7 0M238.9 525.9a1.85 1.85 0 1 0 3.7 0a1.85 1.85 0 1 0 -3.7 0M252.3 524.6a1.85 1.85 0 1 0 3.7 0a1.85 1.85 0 1 0 -3.7 0M255.7 525.6a1.85 1.85 0 1 0 3.7 0a1.85 1.85 0 1 0 -3.7 0M248.8 529.4a1.85 1.85 0 1 0 3.7 0a1.85 1.85 0 1 0 -3.7 0M235.3 531.7a1.85 1.85 0 1 0 3.7 0a1.85 1.85 0 1 0 -3.7 0M231.9 533.9a1.85 1.85 0 1 0 3.7 0a1.85 1.85 0 1 0 -3.7 0M229.0 533.5a1.85 1.85 0 1 0 3.7 0a1.85 1.85 0 1 0 -3.7 0M229.0 536.4a1.85 1.85 0 1 0 3.7 0a1.85 1.85 0 1 0 -3.7 0M235.3 535.8a1.85 1.85 0 1 0 3.7 0a1.85 1.85 0 1 0 -3.7 0M238.9 538.1a1.85 1.85 0 1 0 3.7 0a1.85 1.85 0 1 0 -3.7 0M259.0 537.7a1.85 1.85 0 1 0 3.7 0a1.85 1.85 0 1 0 -3.7 0M296.0 538.6a1.85 1.85 0 1 0 3.7 0a1.85 1.85 0 1 0 -3.7 0M248.8 542.4a1.85 1.85 0 1 0 3.7 0a1.85 1.85 0 1 0 -3.7 0M231.9 542.4a1.85 1.85 0 1 0 3.7 0a1.85 1.85 0 1 0 -3.7 0M77.1 545.8a1.85 1.85 0 1 0 3.7 0a1.85 1.85 0 1 0 -3.7 0M77.1 548.1a1.85 1.85 0 1 0 3.7 0a1.85 1.85 0 1 0 -3.7 0M77.1 550.6a1.85 1.85 0 1 0 3.7 0a1.85 1.85 0 1 0 -3.7 0M77.1 553.2a1.85 1.85 0 1 0 3.7 0a1.85 1.85 0 1 0 -3.7 0M77.1 555.7a1.85 1.85 0 1 0 3.7 0a1.85 1.85 0 1 0 -3.7 0M77.1 559.6a1.85 1.85 0 1 0 3.7 0a1.85 1.85 0 1 0 -3.7 0M80.5 551.9a1.85 1.85 0 1 0 3.7 0a1.85 1.85 0 1 0 -3.7 0M80.5 560.2a1.85 1.85 0 1 0 3.7 0a1.85 1.85 0 1 0 -3.7 0M70.5 552.9a1.85 1.85 0 1 0 3.7 0a1.85 1.85 0 1 0 -3.7 0M70.5 556.4a1.85 1.85 0 1 0 3.7 0a1.85 1.85 0 1 0 -3.7 0M63.7 561.5a1.85 1.85 0 1 0 3.7 0a1.85 1.85 0 1 0 -3.7 0M73.6 569.8a1.85 1.85 0 1 0 3.7 0a1.85 1.85 0 1 0 -3.7 0M83.8 544.9a1.85 1.85 0 1 0 3.7 0a1.85 1.85 0 1 0 -3.7 0M83.8 548.7a1.85 1.85 0 1 0 3.7 0a1.85 1.85 0 1 0 -3.7 0M87.3 547.5a1.85 1.85 0 1 0 3.7 0a1.85 1.85 0 1 0 -3.7 0M90.8 549.4a1.85 1.85 0 1 0 3.7 0a1.85 1.85 0 1 0 -3.7 0M94.0 551.3a1.85 1.85 0 1 0 3.7 0a1.85 1.85 0 1 0 -3.7 0M87.3 553.8a1.85 1.85 0 1 0 3.7 0a1.85 1.85 0 1 0 -3.7 0M87.3 556.4a1.85 1.85 0 1 0 3.7 0a1.85 1.85 0 1 0 -3.7 0M90.8 564.7a1.85 1.85 0 1 0 3.7 0a1.85 1.85 0 1 0 -3.7 0M94.0 562.8a1.85 1.85 0 1 0 3.7 0a1.85 1.85 0 1 0 -3.7 0M114.0 549.4a1.85 1.85 0 1 0 3.7 0a1.85 1.85 0 1 0 -3.7 0M117.5 547.5a1.85 1.85 0 1 0 3.7 0a1.85 1.85 0 1 0 -3.7 0M104.1 558.9a1.85 1.85 0 1 0 3.7 0a1.85 1.85 0 1 0 -3.7 0M107.4 559.8a1.85 1.85 0 1 0 3.7 0a1.85 1.85 0 1 0 -3.7 0M110.9 556.8a1.85 1.85 0 1 0 3.7 0a1.85 1.85 0 1 0 -3.7 0M127.7 551.0a1.85 1.85 0 1 0 3.7 0a1.85 1.85 0 1 0 -3.7 0M137.6 547.5a1.85 1.85 0 1 0 3.7 0a1.85 1.85 0 1 0 -3.7 0M134.4 552.9a1.85 1.85 0 1 0 3.7 0a1.85 1.85 0 1 0 -3.7 0M134.4 556.4a1.85 1.85 0 1 0 3.7 0a1.85 1.85 0 1 0 -3.7 0M134.4 560.6a1.85 1.85 0 1 0 3.7 0a1.85 1.85 0 1 0 -3.7 0M124.2 568.9a1.85 1.85 0 1 0 3.7 0a1.85 1.85 0 1 0 -3.7 0M117.5 572.3a1.85 1.85 0 1 0 3.7 0a1.85 1.85 0 1 0 -3.7 0M139.5 576.4a1.85 1.85 0 1 0 3.7 0a1.85 1.85 0 1 0 -3.7 0M104.1 584.0a1.85 1.85 0 1 0 3.7 0a1.85 1.85 0 1 0 -3.7 0M94.0 597.1a1.85 1.85 0 1 0 3.7 0a1.85 1.85 0 1 0 -3.7 0M97.5 595.2a1.85 1.85 0 1 0 3.7 0a1.85 1.85 0 1 0 -3.7 0M137.6 599.7a1.85 1.85 0 1 0 3.7 0a1.85 1.85 0 1 0 -3.7 0M147.8 546.8a1.85 1.85 0 1 0 3.7 0a1.85 1.85 0 1 0 -3.7 0M147.8 548.7a1.85 1.85 0 1 0 3.7 0a1.85 1.85 0 1 0 -3.7 0M147.8 552.9a1.85 1.85 0 1 0 3.7 0a1.85 1.85 0 1 0 -3.7 0M158.0 553.2a1.85 1.85 0 1 0 3.7 0a1.85 1.85 0 1 0 -3.7 0M164.4 553.5a1.85 1.85 0 1 0 3.7 0a1.85 1.85 0 1 0 -3.7 0M167.9 555.1a1.85 1.85 0 1 0 3.7 0a1.85 1.85 0 1 0 -3.7 0M168.2 546.2a1.85 1.85 0 1 0 3.7 0a1.85 1.85 0 1 0 -3.7 0M174.8 553.2a1.85 1.85 0 1 0 3.7 0a1.85 1.85 0 1 0 -3.7 0M174.8 555.7a1.85 1.85 0 1 0 3.7 0a1.85 1.85 0 1 0 -3.7 0M174.8 559.6a1.85 1.85 0 1 0 3.7 0a1.85 1.85 0 1 0 -3.7 0M178.1 551.7a1.85 1.85 0 1 0 3.7 0a1.85 1.85 0 1 0 -3.7 0M181.6 554.7a1.85 1.85 0 1 0 3.7 0a1.85 1.85 0 1 0 -3.7 0M181.6 545.5a1.85 1.85 0 1 0 3.7 0a1.85 1.85 0 1 0 -3.7 0M151.4 559.6a1.85 1.85 0 1 0 3.7 0a1.85 1.85 0 1 0 -3.7 0M151.4 563.6a1.85 1.85 0 1 0 3.7 0a1.85 1.85 0 1 0 -3.7 0M144.6 564.7a1.85 1.85 0 1 0 3.7 0a1.85 1.85 0 1 0 -3.7 0M158.0 565.9a1.85 1.85 0 1 0 3.7 0a1.85 1.85 0 1 0 -3.7 0M164.4 569.4a1.85 1.85 0 1 0 3.7 0a1.85 1.85 0 1 0 -3.7 0M151.4 570.8a1.85 1.85 0 1 0 3.7 0a1.85 1.85 0 1 0 -3.7 0M151.4 576.8a1.85 1.85 0 1 0 3.7 0a1.85 1.85 0 1 0 -3.7 0M161.2 574.9a1.85 1.85 0 1 0 3.7 0a1.85 1.85 0 1 0 -3.7 0M164.4 585.0a1.85 1.85 0 1 0 3.7 0a1.85 1.85 0 1 0 -3.7 0M144.6 591.2a1.85 1.85 0 1 0 3.7 0a1.85 1.85 0 1 0 -3.7 0M147.8 591.7a1.85 1.85 0 1 0 3.7 0a1.85 1.85 0 1 0 -3.7 0M167.9 594.6a1.85 1.85 0 1 0 3.7 0a1.85 1.85 0 1 0 -3.7 0M147.8 598.8a1.85 1.85 0 1 0 3.7 0a1.85 1.85 0 1 0 -3.7 0M144.6 602.2a1.85 1.85 0 1 0 3.7 0a1.85 1.85 0 1 0 -3.7 0M154.8 601.1a1.85 1.85 0 1 0 3.7 0a1.85 1.85 0 1 0 -3.7 0M154.8 602.4a1.85 1.85 0 1 0 3.7 0a1.85 1.85 0 1 0 -3.7 0M198.1 544.3a1.85 1.85 0 1 0 3.7 0a1.85 1.85 0 1 0 -3.7 0M201.6 544.9a1.85 1.85 0 1 0 3.7 0a1.85 1.85 0 1 0 -3.7 0M212.1 547.1a1.85 1.85 0 1 0 3.7 0a1.85 1.85 0 1 0 -3.7 0M208.6 548.1a1.85 1.85 0 1 0 3.7 0a1.85 1.85 0 1 0 -3.7 0M218.2 551.3a1.85 1.85 0 1 0 3.7 0a1.85 1.85 0 1 0 -3.7 0M225.2 545.5a1.85 1.85 0 1 0 3.7 0a1.85 1.85 0 1 0 -3.7 0M221.4 544.0a1.85 1.85 0 1 0 3.7 0a1.85 1.85 0 1 0 -3.7 0M225.2 554.8a1.85 1.85 0 1 0 3.7 0a1.85 1.85 0 1 0 -3.7 0M198.1 550.0a1.85 1.85 0 1 0 3.7 0a1.85 1.85 0 1 0 -3.7 0M201.6 554.1a1.85 1.85 0 1 0 3.7 0a1.85 1.85 0 1 0 -3.7 0M198.1 558.0a1.85 1.85 0 1 0 3.7 0a1.85 1.85 0 1 0 -3.7 0M188.2 556.4a1.85 1.85 0 1 0 3.7 0a1.85 1.85 0 1 0 -3.7 0M185.1 562.8a1.85 1.85 0 1 0 3.7 0a1.85 1.85 0 1 0 -3.7 0M211.8 553.8a1.85 1.85 0 1 0 3.7 0a1.85 1.85 0 1 0 -3.7 0M215.0 553.5a1.85 1.85 0 1 0 3.7 0a1.85 1.85 0 1 0 -3.7 0M215.0 557.6a1.85 1.85 0 1 0 3.7 0a1.85 1.85 0 1 0 -3.7 0M218.5 556.7a1.85 1.85 0 1 0 3.7 0a1.85 1.85 0 1 0 -3.7 0M222.0 561.5a1.85 1.85 0 1 0 3.7 0a1.85 1.85 0 1 0 -3.7 0M194.9 565.0a1.85 1.85 0 1 0 3.7 0a1.85 1.85 0 1 0 -3.7 0M198.4 562.8a1.85 1.85 0 1 0 3.7 0a1.85 1.85 0 1 0 -3.7 0M198.4 565.3a1.85 1.85 0 1 0 3.7 0a1.85 1.85 0 1 0 -3.7 0M198.4 568.2a1.85 1.85 0 1 0 3.7 0a1.85 1.85 0 1 0 -3.7 0M201.9 564.0a1.85 1.85 0 1 0 3.7 0a1.85 1.85 0 1 0 -3.7 0M205.1 564.0a1.85 1.85 0 1 0 3.7 0a1.85 1.85 0 1 0 -3.7 0M208.6 562.1a1.85 1.85 0 1 0 3.7 0a1.85 1.85 0 1 0 -3.7 0M212.1 562.1a1.85 1.85 0 1 0 3.7 0a1.85 1.85 0 1 0 -3.7 0M208.6 567.5a1.85 1.85 0 1 0 3.7 0a1.85 1.85 0 1 0 -3.7 0M212.1 566.9a1.85 1.85 0 1 0 3.7 0a1.85 1.85 0 1 0 -3.7 0M215.0 565.0a1.85 1.85 0 1 0 3.7 0a1.85 1.85 0 1 0 -3.7 0M218.5 566.2a1.85 1.85 0 1 0 3.7 0a1.85 1.85 0 1 0 -3.7 0M218.5 568.5a1.85 1.85 0 1 0 3.7 0a1.85 1.85 0 1 0 -3.7 0M215.0 571.0a1.85 1.85 0 1 0 3.7 0a1.85 1.85 0 1 0 -3.7 0M211.8 572.0a1.85 1.85 0 1 0 3.7 0a1.85 1.85 0 1 0 -3.7 0M218.5 572.0a1.85 1.85 0 1 0 3.7 0a1.85 1.85 0 1 0 -3.7 0M222.0 571.7a1.85 1.85 0 1 0 3.7 0a1.85 1.85 0 1 0 -3.7 0M188.2 570.1a1.85 1.85 0 1 0 3.7 0a1.85 1.85 0 1 0 -3.7 0M188.2 573.6a1.85 1.85 0 1 0 3.7 0a1.85 1.85 0 1 0 -3.7 0M185.1 574.2a1.85 1.85 0 1 0 3.7 0a1.85 1.85 0 1 0 -3.7 0M188.2 577.4a1.85 1.85 0 1 0 3.7 0a1.85 1.85 0 1 0 -3.7 0M191.4 579.9a1.85 1.85 0 1 0 3.7 0a1.85 1.85 0 1 0 -3.7 0M194.9 574.2a1.85 1.85 0 1 0 3.7 0a1.85 1.85 0 1 0 -3.7 0M198.4 576.1a1.85 1.85 0 1 0 3.7 0a1.85 1.85 0 1 0 -3.7 0M201.9 577.1a1.85 1.85 0 1 0 3.7 0a1.85 1.85 0 1 0 -3.7 0M205.1 573.6a1.85 1.85 0 1 0 3.7 0a1.85 1.85 0 1 0 -3.7 0M208.6 574.2a1.85 1.85 0 1 0 3.7 0a1.85 1.85 0 1 0 -3.7 0M211.8 575.5a1.85 1.85 0 1 0 3.7 0a1.85 1.85 0 1 0 -3.7 0M215.0 574.9a1.85 1.85 0 1 0 3.7 0a1.85 1.85 0 1 0 -3.7 0M208.6 578.7a1.85 1.85 0 1 0 3.7 0a1.85 1.85 0 1 0 -3.7 0M211.8 577.7a1.85 1.85 0 1 0 3.7 0a1.85 1.85 0 1 0 -3.7 0M225.2 576.1a1.85 1.85 0 1 0 3.7 0a1.85 1.85 0 1 0 -3.7 0M225.2 578.7a1.85 1.85 0 1 0 3.7 0a1.85 1.85 0 1 0 -3.7 0M198.4 579.9a1.85 1.85 0 1 0 3.7 0a1.85 1.85 0 1 0 -3.7 0M208.6 585.5a1.85 1.85 0 1 0 3.7 0a1.85 1.85 0 1 0 -3.7 0M208.6 587.7a1.85 1.85 0 1 0 3.7 0a1.85 1.85 0 1 0 -3.7 0M208.6 589.9a1.85 1.85 0 1 0 3.7 0a1.85 1.85 0 1 0 -3.7 0M208.6 593.1a1.85 1.85 0 1 0 3.7 0a1.85 1.85 0 1 0 -3.7 0M218.5 587.0a1.85 1.85 0 1 0 3.7 0a1.85 1.85 0 1 0 -3.7 0M218.5 589.6a1.85 1.85 0 1 0 3.7 0a1.85 1.85 0 1 0 -3.7 0M185.1 588.6a1.85 1.85 0 1 0 3.7 0a1.85 1.85 0 1 0 -3.7 0M201.6 590.5a1.85 1.85 0 1 0 3.7 0a1.85 1.85 0 1 0 -3.7 0M218.5 599.5a1.85 1.85 0 1 0 3.7 0a1.85 1.85 0 1 0 -3.7 0M208.6 610.3a1.85 1.85 0 1 0 3.7 0a1.85 1.85 0 1 0 -3.7 0M252.3 544.9a1.85 1.85 0 1 0 3.7 0a1.85 1.85 0 1 0 -3.7 0M235.3 544.5a1.85 1.85 0 1 0 3.7 0a1.85 1.85 0 1 0 -3.7 0M238.9 546.6a1.85 1.85 0 1 0 3.7 0a1.85 1.85 0 1 0 -3.7 0M259.0 548.1a1.85 1.85 0 1 0 3.7 0a1.85 1.85 0 1 0 -3.7 0M259.0 550.9a1.85 1.85 0 1 0 3.7 0a1.85 1.85 0 1 0 -3.7 0M265.9 546.8a1.85 1.85 0 1 0 3.7 0a1.85 1.85 0 1 0 -3.7 0M248.8 550.0a1.85 1.85 0 1 0 3.7 0a1.85 1.85 0 1 0 -3.7 0M235.3 555.1a1.85 1.85 0 1 0 3.7 0a1.85 1.85 0 1 0 -3.7 0M228.7 558.0a1.85 1.85 0 1 0 3.7 0a1.85 1.85 0 1 0 -3.7 0M231.9 557.3a1.85 1.85 0 1 0 3.7 0a1.85 1.85 0 1 0 -3.7 0M259.0 556.8a1.85 1.85 0 1 0 3.7 0a1.85 1.85 0 1 0 -3.7 0M262.5 555.7a1.85 1.85 0 1 0 3.7 0a1.85 1.85 0 1 0 -3.7 0M272.6 555.5a1.85 1.85 0 1 0 3.7 0a1.85 1.85 0 1 0 -3.7 0M279.4 552.9a1.85 1.85 0 1 0 3.7 0a1.85 1.85 0 1 0 -3.7 0M282.8 559.3a1.85 1.85 0 1 0 3.7 0a1.85 1.85 0 1 0 -3.7 0M242.1 560.8a1.85 1.85 0 1 0 3.7 0a1.85 1.85 0 1 0 -3.7 0M245.5 560.8a1.85 1.85 0 1 0 3.7 0a1.85 1.85 0 1 0 -3.7 0M248.8 561.9a1.85 1.85 0 1 0 3.7 0a1.85 1.85 0 1 0 -3.7 0M252.3 563.1a1.85 1.85 0 1 0 3.7 0a1.85 1.85 0 1 0 -3.7 0M255.7 564.7a1.85 1.85 0 1 0 3.7 0a1.85 1.85 0 1 0 -3.7 0M259.0 564.9a1.85 1.85 0 1 0 3.7 0a1.85 1.85 0 1 0 -3.7 0M265.9 565.7a1.85 1.85 0 1 0 3.7 0a1.85 1.85 0 1 0 -3.7 0M228.7 563.4a1.85 1.85 0 1 0 3.7 0a1.85 1.85 0 1 0 -3.7 0M231.9 563.1a1.85 1.85 0 1 0 3.7 0a1.85 1.85 0 1 0 -3.7 0M235.3 565.9a1.85 1.85 0 1 0 3.7 0a1.85 1.85 0 1 0 -3.7 0M238.9 565.3a1.85 1.85 0 1 0 3.7 0a1.85 1.85 0 1 0 -3.7 0M242.1 565.7a1.85 1.85 0 1 0 3.7 0a1.85 1.85 0 1 0 -3.7 0M228.7 569.8a1.85 1.85 0 1 0 3.7 0a1.85 1.85 0 1 0 -3.7 0M231.9 569.8a1.85 1.85 0 1 0 3.7 0a1.85 1.85 0 1 0 -3.7 0M235.3 569.8a1.85 1.85 0 1 0 3.7 0a1.85 1.85 0 1 0 -3.7 0M238.9 568.5a1.85 1.85 0 1 0 3.7 0a1.85 1.85 0 1 0 -3.7 0M242.1 570.0a1.85 1.85 0 1 0 3.7 0a1.85 1.85 0 1 0 -3.7 0M231.9 573.3a1.85 1.85 0 1 0 3.7 0a1.85 1.85 0 1 0 -3.7 0M235.3 573.6a1.85 1.85 0 1 0 3.7 0a1.85 1.85 0 1 0 -3.7 0M238.9 573.3a1.85 1.85 0 1 0 3.7 0a1.85 1.85 0 1 0 -3.7 0M252.3 570.8a1.85 1.85 0 1 0 3.7 0a1.85 1.85 0 1 0 -3.7 0M248.8 573.6a1.85 1.85 0 1 0 3.7 0a1.85 1.85 0 1 0 -3.7 0M248.8 575.9a1.85 1.85 0 1 0 3.7 0a1.85 1.85 0 1 0 -3.7 0M248.8 578.0a1.85 1.85 0 1 0 3.7 0a1.85 1.85 0 1 0 -3.7 0M252.3 577.1a1.85 1.85 0 1 0 3.7 0a1.85 1.85 0 1 0 -3.7 0M269.2 572.6a1.85 1.85 0 1 0 3.7 0a1.85 1.85 0 1 0 -3.7 0M262.5 576.4a1.85 1.85 0 1 0 3.7 0a1.85 1.85 0 1 0 -3.7 0M255.7 579.3a1.85 1.85 0 1 0 3.7 0a1.85 1.85 0 1 0 -3.7 0M255.7 582.5a1.85 1.85 0 1 0 3.7 0a1.85 1.85 0 1 0 -3.7 0M228.7 577.4a1.85 1.85 0 1 0 3.7 0a1.85 1.85 0 1 0 -3.7 0M228.7 580.6a1.85 1.85 0 1 0 3.7 0a1.85 1.85 0 1 0 -3.7 0M231.9 583.8a1.85 1.85 0 1 0 3.7 0a1.85 1.85 0 1 0 -3.7 0M238.9 579.3a1.85 1.85 0 1 0 3.7 0a1.85 1.85 0 1 0 -3.7 0M238.9 581.9a1.85 1.85 0 1 0 3.7 0a1.85 1.85 0 1 0 -3.7 0M269.2 580.6a1.85 1.85 0 1 0 3.7 0a1.85 1.85 0 1 0 -3.7 0M269.2 587.0a1.85 1.85 0 1 0 3.7 0a1.85 1.85 0 1 0 -3.7 0M272.6 591.2a1.85 1.85 0 1 0 3.7 0a1.85 1.85 0 1 0 -3.7 0M282.8 575.9a1.85 1.85 0 1 0 3.7 0a1.85 1.85 0 1 0 -3.7 0M289.2 578.7a1.85 1.85 0 1 0 3.7 0a1.85 1.85 0 1 0 -3.7 0M292.4 576.4a1.85 1.85 0 1 0 3.7 0a1.85 1.85 0 1 0 -3.7 0M292.4 579.3a1.85 1.85 0 1 0 3.7 0a1.85 1.85 0 1 0 -3.7 0M296.0 583.5a1.85 1.85 0 1 0 3.7 0a1.85 1.85 0 1 0 -3.7 0M299.4 589.1a1.85 1.85 0 1 0 3.7 0a1.85 1.85 0 1 0 -3.7 0M302.6 565.7a1.85 1.85 0 1 0 3.7 0a1.85 1.85 0 1 0 -3.7 0M235.3 587.9a1.85 1.85 0 1 0 3.7 0a1.85 1.85 0 1 0 -3.7 0M242.1 587.3a1.85 1.85 0 1 0 3.7 0a1.85 1.85 0 1 0 -3.7 0M231.9 592.0a1.85 1.85 0 1 0 3.7 0a1.85 1.85 0 1 0 -3.7 0M252.3 589.9a1.85 1.85 0 1 0 3.7 0a1.85 1.85 0 1 0 -3.7 0M259.0 588.6a1.85 1.85 0 1 0 3.7 0a1.85 1.85 0 1 0 -3.7 0M282.8 593.1a1.85 1.85 0 1 0 3.7 0a1.85 1.85 0 1 0 -3.7 0M286.0 593.1a1.85 1.85 0 1 0 3.7 0a1.85 1.85 0 1 0 -3.7 0M255.7 599.7a1.85 1.85 0 1 0 3.7 0a1.85 1.85 0 1 0 -3.7 0M248.8 606.1a1.85 1.85 0 1 0 3.7 0a1.85 1.85 0 1 0 -3.7 0M262.5 605.2a1.85 1.85 0 1 0 3.7 0a1.85 1.85 0 1 0 -3.7 0M269.2 602.0a1.85 1.85 0 1 0 3.7 0a1.85 1.85 0 1 0 -3.7 0" stroke="#3c3c3c" stroke-width="0.95" fill="none"/>
<path d="M460.7 405.4a1.85 1.85 0 1 0 3.7 0a1.85 1.85 0 1 0 -3.7 0M426.5 438.8a1.85 1.85 0 1 0 3.7 0a1.85 1.85 0 1 0 -3.7 0M426.5 441.6a1.85 1.85 0 1 0 3.7 0a1.85 1.85 0 1 0 -3.7 0M453.7 444.9a1.85 1.85 0 1 0 3.7 0a1.85 1.85 0 1 0 -3.7 0M470.7 448.7a1.85 1.85 0 1 0 3.7 0a1.85 1.85 0 1 0 -3.7 0M480.9 450.9a1.85 1.85 0 1 0 3.7 0a1.85 1.85 0 1 0 -3.7 0M477.4 458.1a1.85 1.85 0 1 0 3.7 0a1.85 1.85 0 1 0 -3.7 0M480.9 460.8a1.85 1.85 0 1 0 3.7 0a1.85 1.85 0 1 0 -3.7 0M450.3 460.8a1.85 1.85 0 1 0 3.7 0a1.85 1.85 0 1 0 -3.7 0M453.7 462.6a1.85 1.85 0 1 0 3.7 0a1.85 1.85 0 1 0 -3.7 0M450.3 463.9a1.85 1.85 0 1 0 3.7 0a1.85 1.85 0 1 0 -3.7 0M447.1 464.9a1.85 1.85 0 1 0 3.7 0a1.85 1.85 0 1 0 -3.7 0M474.1 466.4a1.85 1.85 0 1 0 3.7 0a1.85 1.85 0 1 0 -3.7 0M491.0 466.4a1.85 1.85 0 1 0 3.7 0a1.85 1.85 0 1 0 -3.7 0M551.8 399.4a1.85 1.85 0 1 0 3.7 0a1.85 1.85 0 1 0 -3.7 0M535.0 405.8a1.85 1.85 0 1 0 3.7 0a1.85 1.85 0 1 0 -3.7 0M535.0 413.9a1.85 1.85 0 1 0 3.7 0a1.85 1.85 0 1 0 -3.7 0M548.4 416.5a1.85 1.85 0 1 0 3.7 0a1.85 1.85 0 1 0 -3.7 0M568.8 412.4a1.85 1.85 0 1 0 3.7 0a1.85 1.85 0 1 0 -3.7 0M497.7 417.0a1.85 1.85 0 1 0 3.7 0a1.85 1.85 0 1 0 -3.7 0M507.9 418.4a1.85 1.85 0 1 0 3.7 0a1.85 1.85 0 1 0 -3.7 0M507.9 422.6a1.85 1.85 0 1 0 3.7 0a1.85 1.85 0 1 0 -3.7 0M562.0 425.9a1.85 1.85 0 1 0 3.7 0a1.85 1.85 0 1 0 -3.7 0M551.8 429.7a1.85 1.85 0 1 0 3.7 0a1.85 1.85 0 1 0 -3.7 0M497.7 434.9a1.85 1.85 0 1 0 3.7 0a1.85 1.85 0 1 0 -3.7 0M507.9 436.5a1.85 1.85 0 1 0 3.7 0a1.85 1.85 0 1 0 -3.7 0M575.5 435.9a1.85 1.85 0 1 0 3.7 0a1.85 1.85 0 1 0 -3.7 0M535.0 440.4a1.85 1.85 0 1 0 3.7 0a1.85 1.85 0 1 0 -3.7 0M548.4 442.3a1.85 1.85 0 1 0 3.7 0a1.85 1.85 0 1 0 -3.7 0M551.8 440.2a1.85 1.85 0 1 0 3.7 0a1.85 1.85 0 1 0 -3.7 0M501.0 447.1a1.85 1.85 0 1 0 3.7 0a1.85 1.85 0 1 0 -3.7 0M538.4 450.0a1.85 1.85 0 1 0 3.7 0a1.85 1.85 0 1 0 -3.7 0M504.4 452.8a1.85 1.85 0 1 0 3.7 0a1.85 1.85 0 1 0 -3.7 0M504.4 456.2a1.85 1.85 0 1 0 3.7 0a1.85 1.85 0 1 0 -3.7 0M562.0 453.4a1.85 1.85 0 1 0 3.7 0a1.85 1.85 0 1 0 -3.7 0M562.0 457.9a1.85 1.85 0 1 0 3.7 0a1.85 1.85 0 1 0 -3.7 0M581.5 447.1a1.85 1.85 0 1 0 3.7 0a1.85 1.85 0 1 0 -3.7 0M581.5 450.6a1.85 1.85 0 1 0 3.7 0a1.85 1.85 0 1 0 -3.7 0M521.4 457.6a1.85 1.85 0 1 0 3.7 0a1.85 1.85 0 1 0 -3.7 0M521.4 464.5a1.85 1.85 0 1 0 3.7 0a1.85 1.85 0 1 0 -3.7 0M528.3 463.0a1.85 1.85 0 1 0 3.7 0a1.85 1.85 0 1 0 -3.7 0M545.2 463.0a1.85 1.85 0 1 0 3.7 0a1.85 1.85 0 1 0 -3.7 0M545.2 464.9a1.85 1.85 0 1 0 3.7 0a1.85 1.85 0 1 0 -3.7 0M548.4 461.1a1.85 1.85 0 1 0 3.7 0a1.85 1.85 0 1 0 -3.7 0M555.1 463.9a1.85 1.85 0 1 0 3.7 0a1.85 1.85 0 1 0 -3.7 0M568.8 465.9a1.85 1.85 0 1 0 3.7 0a1.85 1.85 0 1 0 -3.7 0M616.3 404.4a1.85 1.85 0 1 0 3.7 0a1.85 1.85 0 1 0 -3.7 0M639.9 406.3a1.85 1.85 0 1 0 3.7 0a1.85 1.85 0 1 0 -3.7 0M606.1 433.3a1.85 1.85 0 1 0 3.7 0a1.85 1.85 0 1 0 -3.7 0M622.9 439.4a1.85 1.85 0 1 0 3.7 0a1.85 1.85 0 1 0 -3.7 0M646.7 442.9a1.85 1.85 0 1 0 3.7 0a1.85 1.85 0 1 0 -3.7 0M619.5 453.4a1.85 1.85 0 1 0 3.7 0a1.85 1.85 0 1 0 -3.7 0M586.0 440.7a1.85 1.85 0 1 0 3.7 0a1.85 1.85 0 1 0 -3.7 0M586.0 442.2a1.85 1.85 0 1 0 3.7 0a1.85 1.85 0 1 0 -3.7 0M589.2 443.0a1.85 1.85 0 1 0 3.7 0a1.85 1.85 0 1 0 -3.7 0M592.6 440.1a1.85 1.85 0 1 0 3.7 0a1.85 1.85 0 1 0 -3.7 0M596.2 438.4a1.85 1.85 0 1 0 3.7 0a1.85 1.85 0 1 0 -3.7 0M586.0 447.7a1.85 1.85 0 1 0 3.7 0a1.85 1.85 0 1 0 -3.7 0M586.0 461.1a1.85 1.85 0 1 0 3.7 0a1.85 1.85 0 1 0 -3.7 0M470.7 468.9a1.85 1.85 0 1 0 3.7 0a1.85 1.85 0 1 0 -3.7 0M491.0 473.1a1.85 1.85 0 1 0 3.7 0a1.85 1.85 0 1 0 -3.7 0M470.7 476.2a1.85 1.85 0 1 0 3.7 0a1.85 1.85 0 1 0 -3.7 0M457.3 480.8a1.85 1.85 0 1 0 3.7 0a1.85 1.85 0 1 0 -3.7 0M433.3 484.2a1.85 1.85 0 1 0 3.7 0a1.85 1.85 0 1 0 -3.7 0M491.0 481.0a1.85 1.85 0 1 0 3.7 0a1.85 1.85 0 1 0 -3.7 0M494.2 483.3a1.85 1.85 0 1 0 3.7 0a1.85 1.85 0 1 0 -3.7 0M487.6 486.1a1.85 1.85 0 1 0 3.7 0a1.85 1.85 0 1 0 -3.7 0M487.6 493.1a1.85 1.85 0 1 0 3.7 0a1.85 1.85 0 1 0 -3.7 0M484.0 498.6a1.85 1.85 0 1 0 3.7 0a1.85 1.85 0 1 0 -3.7 0M420.1 495.7a1.85 1.85 0 1 0 3.7 0a1.85 1.85 0 1 0 -3.7 0M420.1 500.5a1.85 1.85 0 1 0 3.7 0a1.85 1.85 0 1 0 -3.7 0M423.5 499.1a1.85 1.85 0 1 0 3.7 0a1.85 1.85 0 1 0 -3.7 0M429.9 503.6a1.85 1.85 0 1 0 3.7 0a1.85 1.85 0 1 0 -3.7 0M433.3 500.8a1.85 1.85 0 1 0 3.7 0a1.85 1.85 0 1 0 -3.7 0M453.7 497.3a1.85 1.85 0 1 0 3.7 0a1.85 1.85 0 1 0 -3.7 0M457.3 503.3a1.85 1.85 0 1 0 3.7 0a1.85 1.85 0 1 0 -3.7 0M467.5 496.7a1.85 1.85 0 1 0 3.7 0a1.85 1.85 0 1 0 -3.7 0M477.4 500.8a1.85 1.85 0 1 0 3.7 0a1.85 1.85 0 1 0 -3.7 0M443.5 507.5a1.85 1.85 0 1 0 3.7 0a1.85 1.85 0 1 0 -3.7 0M477.4 508.4a1.85 1.85 0 1 0 3.7 0a1.85 1.85 0 1 0 -3.7 0M453.7 511.3a1.85 1.85 0 1 0 3.7 0a1.85 1.85 0 1 0 -3.7 0M443.5 516.0a1.85 1.85 0 1 0 3.7 0a1.85 1.85 0 1 0 -3.7 0M447.1 514.1a1.85 1.85 0 1 0 3.7 0a1.85 1.85 0 1 0 -3.7 0M450.3 515.4a1.85 1.85 0 1 0 3.7 0a1.85 1.85 0 1 0 -3.7 0M450.3 518.2a1.85 1.85 0 1 0 3.7 0a1.85 1.85 0 1 0 -3.7 0M457.3 516.0a1.85 1.85 0 1 0 3.7 0a1.85 1.85 0 1 0 -3.7 0M460.9 517.7a1.85 1.85 0 1 0 3.7 0a1.85 1.85 0 1 0 -3.7 0M494.2 515.4a1.85 1.85 0 1 0 3.7 0a1.85 1.85 0 1 0 -3.7 0M423.5 521.8a1.85 1.85 0 1 0 3.7 0a1.85 1.85 0 1 0 -3.7 0M426.7 527.5a1.85 1.85 0 1 0 3.7 0a1.85 1.85 0 1 0 -3.7 0M440.1 528.5a1.85 1.85 0 1 0 3.7 0a1.85 1.85 0 1 0 -3.7 0M453.7 521.8a1.85 1.85 0 1 0 3.7 0a1.85 1.85 0 1 0 -3.7 0M457.3 525.4a1.85 1.85 0 1 0 3.7 0a1.85 1.85 0 1 0 -3.7 0M474.1 520.5a1.85 1.85 0 1 0 3.7 0a1.85 1.85 0 1 0 -3.7 0M477.4 523.1a1.85 1.85 0 1 0 3.7 0a1.85 1.85 0 1 0 -3.7 0M474.1 526.6a1.85 1.85 0 1 0 3.7 0a1.85 1.85 0 1 0 -3.7 0M470.7 528.8a1.85 1.85 0 1 0 3.7 0a1.85 1.85 0 1 0 -3.7 0M474.1 530.1a1.85 1.85 0 1 0 3.7 0a1.85 1.85 0 1 0 -3.7 0M477.4 532.0a1.85 1.85 0 1 0 3.7 0a1.85 1.85 0 1 0 -3.7 0M463.9 530.1a1.85 1.85 0 1 0 3.7 0a1.85 1.85 0 1 0 -3.7 0M491.0 520.5a1.85 1.85 0 1 0 3.7 0a1.85 1.85 0 1 0 -3.7 0M487.6 525.9a1.85 1.85 0 1 0 3.7 0a1.85 1.85 0 1 0 -3.7 0M491.0 526.2a1.85 1.85 0 1 0 3.7 0a1.85 1.85 0 1 0 -3.7 0M494.2 525.9a1.85 1.85 0 1 0 3.7 0a1.85 1.85 0 1 0 -3.7 0M487.6 530.7a1.85 1.85 0 1 0 3.7 0a1.85 1.85 0 1 0 -3.7 0M491.0 532.2a1.85 1.85 0 1 0 3.7 0a1.85 1.85 0 1 0 -3.7 0M429.9 535.5a1.85 1.85 0 1 0 3.7 0a1.85 1.85 0 1 0 -3.7 0M443.5 535.2a1.85 1.85 0 1 0 3.7 0a1.85 1.85 0 1 0 -3.7 0M447.1 536.4a1.85 1.85 0 1 0 3.7 0a1.85 1.85 0 1 0 -3.7 0M450.3 532.6a1.85 1.85 0 1 0 3.7 0a1.85 1.85 0 1 0 -3.7 0M436.9 538.4a1.85 1.85 0 1 0 3.7 0a1.85 1.85 0 1 0 -3.7 0M440.1 540.3a1.85 1.85 0 1 0 3.7 0a1.85 1.85 0 1 0 -3.7 0M484.0 535.8a1.85 1.85 0 1 0 3.7 0a1.85 1.85 0 1 0 -3.7 0M484.0 539.0a1.85 1.85 0 1 0 3.7 0a1.85 1.85 0 1 0 -3.7 0M484.0 542.2a1.85 1.85 0 1 0 3.7 0a1.85 1.85 0 1 0 -3.7 0M420.1 542.2a1.85 1.85 0 1 0 3.7 0a1.85 1.85 0 1 0 -3.7 0M453.7 540.3a1.85 1.85 0 1 0 3.7 0a1.85 1.85 0 1 0 -3.7 0M460.9 541.9a1.85 1.85 0 1 0 3.7 0a1.85 1.85 0 1 0 -3.7 0M480.9 542.2a1.85 1.85 0 1 0 3.7 0a1.85 1.85 0 1 0 -3.7 0M494.2 540.3a1.85 1.85 0 1 0 3.7 0a1.85 1.85 0 1 0 -3.7 0M548.4 468.5a1.85 1.85 0 1 0 3.7 0a1.85 1.85 0 1 0 -3.7 0M514.6 471.8a1.85 1.85 0 1 0 3.7 0a1.85 1.85 0 1 0 -3.7 0M521.4 473.4a1.85 1.85 0 1 0 3.7 0a1.85 1.85 0 1 0 -3.7 0M545.2 476.3a1.85 1.85 0 1 0 3.7 0a1.85 1.85 0 1 0 -3.7 0M511.2 481.0a1.85 1.85 0 1 0 3.7 0a1.85 1.85 0 1 0 -3.7 0M514.6 481.0a1.85 1.85 0 1 0 3.7 0a1.85 1.85 0 1 0 -3.7 0M528.3 481.4a1.85 1.85 0 1 0 3.7 0a1.85 1.85 0 1 0 -3.7 0M538.4 483.3a1.85 1.85 0 1 0 3.7 0a1.85 1.85 0 1 0 -3.7 0M504.4 488.4a1.85 1.85 0 1 0 3.7 0a1.85 1.85 0 1 0 -3.7 0M511.2 489.3a1.85 1.85 0 1 0 3.7 0a1.85 1.85 0 1 0 -3.7 0M518.1 493.1a1.85 1.85 0 1 0 3.7 0a1.85 1.85 0 1 0 -3.7 0M531.6 489.9a1.85 1.85 0 1 0 3.7 0a1.85 1.85 0 1 0 -3.7 0M538.4 490.2a1.85 1.85 0 1 0 3.7 0a1.85 1.85 0 1 0 -3.7 0M551.9 486.1a1.85 1.85 0 1 0 3.7 0a1.85 1.85 0 1 0 -3.7 0M551.9 491.8a1.85 1.85 0 1 0 3.7 0a1.85 1.85 0 1 0 -3.7 0M562.1 486.4a1.85 1.85 0 1 0 3.7 0a1.85 1.85 0 1 0 -3.7 0M562.1 490.6a1.85 1.85 0 1 0 3.7 0a1.85 1.85 0 1 0 -3.7 0M575.8 493.1a1.85 1.85 0 1 0 3.7 0a1.85 1.85 0 1 0 -3.7 0M565.6 499.5a1.85 1.85 0 1 0 3.7 0a1.85 1.85 0 1 0 -3.7 0M507.9 499.5a1.85 1.85 0 1 0 3.7 0a1.85 1.85 0 1 0 -3.7 0M511.2 497.6a1.85 1.85 0 1 0 3.7 0a1.85 1.85 0 1 0 -3.7 0M511.2 502.0a1.85 1.85 0 1 0 3.7 0a1.85 1.85 0 1 0 -3.7 0M514.6 501.4a1.85 1.85 0 1 0 3.7 0a1.85 1.85 0 1 0 -3.7 0M511.2 505.2a1.85 1.85 0 1 0 3.7 0a1.85 1.85 0 1 0 -3.7 0M531.6 498.9a1.85 1.85 0 1 0 3.7 0a1.85 1.85 0 1 0 -3.7 0M535.0 499.5a1.85 1.85 0 1 0 3.7 0a1.85 1.85 0 1 0 -3.7 0M538.4 498.9a1.85 1.85 0 1 0 3.7 0a1.85 1.85 0 1 0 -3.7 0M545.2 505.9a1.85 1.85 0 1 0 3.7 0a1.85 1.85 0 1 0 -3.7 0M548.6 505.9a1.85 1.85 0 1 0 3.7 0a1.85 1.85 0 1 0 -3.7 0M555.4 509.3a1.85 1.85 0 1 0 3.7 0a1.85 1.85 0 1 0 -3.7 0M562.1 510.6a1.85 1.85 0 1 0 3.7 0a1.85 1.85 0 1 0 -3.7 0M572.2 507.1a1.85 1.85 0 1 0 3.7 0a1.85 1.85 0 1 0 -3.7 0M497.7 509.0a1.85 1.85 0 1 0 3.7 0a1.85 1.85 0 1 0 -3.7 0M504.4 511.9a1.85 1.85 0 1 0 3.7 0a1.85 1.85 0 1 0 -3.7 0M501.2 519.0a1.85 1.85 0 1 0 3.7 0a1.85 1.85 0 1 0 -3.7 0M497.7 523.7a1.85 1.85 0 1 0 3.7 0a1.85 1.85 0 1 0 -3.7 0M501.2 523.1a1.85 1.85 0 1 0 3.7 0a1.85 1.85 0 1 0 -3.7 0M501.2 527.5a1.85 1.85 0 1 0 3.7 0a1.85 1.85 0 1 0 -3.7 0M504.4 528.8a1.85 1.85 0 1 0 3.7 0a1.85 1.85 0 1 0 -3.7 0M507.9 526.2a1.85 1.85 0 1 0 3.7 0a1.85 1.85 0 1 0 -3.7 0M507.9 516.9a1.85 1.85 0 1 0 3.7 0a1.85 1.85 0 1 0 -3.7 0M511.2 516.4a1.85 1.85 0 1 0 3.7 0a1.85 1.85 0 1 0 -3.7 0M511.2 522.0a1.85 1.85 0 1 0 3.7 0a1.85 1.85 0 1 0 -3.7 0M518.1 514.8a1.85 1.85 0 1 0 3.7 0a1.85 1.85 0 1 0 -3.7 0M521.4 513.1a1.85 1.85 0 1 0 3.7 0a1.85 1.85 0 1 0 -3.7 0M521.4 516.9a1.85 1.85 0 1 0 3.7 0a1.85 1.85 0 1 0 -3.7 0M518.1 521.1a1.85 1.85 0 1 0 3.7 0a1.85 1.85 0 1 0 -3.7 0M521.4 521.1a1.85 1.85 0 1 0 3.7 0a1.85 1.85 0 1 0 -3.7 0M524.8 522.0a1.85 1.85 0 1 0 3.7 0a1.85 1.85 0 1 0 -3.7 0M521.4 525.0a1.85 1.85 0 1 0 3.7 0a1.85 1.85 0 1 0 -3.7 0M521.4 528.8a1.85 1.85 0 1 0 3.7 0a1.85 1.85 0 1 0 -3.7 0M524.8 529.4a1.85 1.85 0 1 0 3.7 0a1.85 1.85 0 1 0 -3.7 0M528.3 526.2a1.85 1.85 0 1 0 3.7 0a1.85 1.85 0 1 0 -3.7 0M531.6 524.1a1.85 1.85 0 1 0 3.7 0a1.85 1.85 0 1 0 -3.7 0M535.0 519.2a1.85 1.85 0 1 0 3.7 0a1.85 1.85 0 1 0 -3.7 0M535.0 523.1a1.85 1.85 0 1 0 3.7 0a1.85 1.85 0 1 0 -3.7 0M531.6 527.9a1.85 1.85 0 1 0 3.7 0a1.85 1.85 0 1 0 -3.7 0M531.6 532.0a1.85 1.85 0 1 0 3.7 0a1.85 1.85 0 1 0 -3.7 0M538.4 529.4a1.85 1.85 0 1 0 3.7 0a1.85 1.85 0 1 0 -3.7 0M541.8 530.1a1.85 1.85 0 1 0 3.7 0a1.85 1.85 0 1 0 -3.7 0M538.4 532.2a1.85 1.85 0 1 0 3.7 0a1.85 1.85 0 1 0 -3.7 0M562.1 519.0a1.85 1.85 0 1 0 3.7 0a1.85 1.85 0 1 0 -3.7 0M565.6 522.8a1.85 1.85 0 1 0 3.7 0a1.85 1.85 0 1 0 -3.7 0M562.1 526.9a1.85 1.85 0 1 0 3.7 0a1.85 1.85 0 1 0 -3.7 0M565.6 530.5a1.85 1.85 0 1 0 3.7 0a1.85 1.85 0 1 0 -3.7 0M572.2 527.1a1.85 1.85 0 1 0 3.7 0a1.85 1.85 0 1 0 -3.7 0M572.2 533.2a1.85 1.85 0 1 0 3.7 0a1.85 1.85 0 1 0 -3.7 0M548.4 532.6a1.85 1.85 0 1 0 3.7 0a1.85 1.85 0 1 0 -3.7 0M551.9 530.1a1.85 1.85 0 1 0 3.7 0a1.85 1.85 0 1 0 -3.7 0M551.9 533.9a1.85 1.85 0 1 0 3.7 0a1.85 1.85 0 1 0 -3.7 0M555.4 532.0a1.85 1.85 0 1 0 3.7 0a1.85 1.85 0 1 0 -3.7 0M558.6 530.7a1.85 1.85 0 1 0 3.7 0a1.85 1.85 0 1 0 -3.7 0M504.4 534.5a1.85 1.85 0 1 0 3.7 0a1.85 1.85 0 1 0 -3.7 0M514.6 534.5a1.85 1.85 0 1 0 3.7 0a1.85 1.85 0 1 0 -3.7 0M521.4 536.4a1.85 1.85 0 1 0 3.7 0a1.85 1.85 0 1 0 -3.7 0M531.6 537.7a1.85 1.85 0 1 0 3.7 0a1.85 1.85 0 1 0 -3.7 0M524.8 540.6a1.85 1.85 0 1 0 3.7 0a1.85 1.85 0 1 0 -3.7 0M501.2 540.6a1.85 1.85 0 1 0 3.7 0a1.85 1.85 0 1 0 -3.7 0M541.8 542.2a1.85 1.85 0 1 0 3.7 0a1.85 1.85 0 1 0 -3.7 0M548.4 536.4a1.85 1.85 0 1 0 3.7 0a1.85 1.85 0 1 0 -3.7 0M555.4 539.0a1.85 1.85 0 1 0 3.7 0a1.85 1.85 0 1 0 -3.7 0M568.8 537.7a1.85 1.85 0 1 0 3.7 0a1.85 1.85 0 1 0 -3.7 0M579.0 536.4a1.85 1.85 0 1 0 3.7 0a1.85 1.85 0 1 0 -3.7 0M581.5 532.0a1.85 1.85 0 1 0 3.7 0a1.85 1.85 0 1 0 -3.7 0M589.2 468.5a1.85 1.85 0 1 0 3.7 0a1.85 1.85 0 1 0 -3.7 0M595.9 487.1a1.85 1.85 0 1 0 3.7 0a1.85 1.85 0 1 0 -3.7 0M589.2 492.2a1.85 1.85 0 1 0 3.7 0a1.85 1.85 0 1 0 -3.7 0M619.5 488.7a1.85 1.85 0 1 0 3.7 0a1.85 1.85 0 1 0 -3.7 0M619.5 489.9a1.85 1.85 0 1 0 3.7 0a1.85 1.85 0 1 0 -3.7 0M643.3 487.4a1.85 1.85 0 1 0 3.7 0a1.85 1.85 0 1 0 -3.7 0M650.3 492.2a1.85 1.85 0 1 0 3.7 0a1.85 1.85 0 1 0 -3.7 0M640.1 495.7a1.85 1.85 0 1 0 3.7 0a1.85 1.85 0 1 0 -3.7 0M646.9 499.2a1.85 1.85 0 1 0 3.7 0a1.85 1.85 0 1 0 -3.7 0M602.5 496.9a1.85 1.85 0 1 0 3.7 0a1.85 1.85 0 1 0 -3.7 0M602.5 501.6a1.85 1.85 0 1 0 3.7 0a1.85 1.85 0 1 0 -3.7 0M589.2 503.1a1.85 1.85 0 1 0 3.7 0a1.85 1.85 0 1 0 -3.7 0M592.6 507.1a1.85 1.85 0 1 0 3.7 0a1.85 1.85 0 1 0 -3.7 0M616.3 505.5a1.85 1.85 0 1 0 3.7 0a1.85 1.85 0 1 0 -3.7 0M599.4 516.0a1.85 1.85 0 1 0 3.7 0a1.85 1.85 0 1 0 -3.7 0M589.2 519.6a1.85 1.85 0 1 0 3.7 0a1.85 1.85 0 1 0 -3.7 0M595.9 521.8a1.85 1.85 0 1 0 3.7 0a1.85 1.85 0 1 0 -3.7 0M602.5 520.5a1.85 1.85 0 1 0 3.7 0a1.85 1.85 0 1 0 -3.7 0M612.7 522.5a1.85 1.85 0 1 0 3.7 0a1.85 1.85 0 1 0 -3.7 0M609.5 526.0a1.85 1.85 0 1 0 3.7 0a1.85 1.85 0 1 0 -3.7 0M626.5 526.6a1.85 1.85 0 1 0 3.7 0a1.85 1.85 0 1 0 -3.7 0M646.6 516.4a1.85 1.85 0 1 0 3.7 0a1.85 1.85 0 1 0 -3.7 0M646.6 518.0a1.85 1.85 0 1 0 3.7 0a1.85 1.85 0 1 0 -3.7 0M595.9 530.1a1.85 1.85 0 1 0 3.7 0a1.85 1.85 0 1 0 -3.7 0M606.1 532.4a1.85 1.85 0 1 0 3.7 0a1.85 1.85 0 1 0 -3.7 0M612.7 534.9a1.85 1.85 0 1 0 3.7 0a1.85 1.85 0 1 0 -3.7 0M633.1 531.3a1.85 1.85 0 1 0 3.7 0a1.85 1.85 0 1 0 -3.7 0M633.1 533.2a1.85 1.85 0 1 0 3.7 0a1.85 1.85 0 1 0 -3.7 0M660.1 535.8a1.85 1.85 0 1 0 3.7 0a1.85 1.85 0 1 0 -3.7 0M589.2 534.5a1.85 1.85 0 1 0 3.7 0a1.85 1.85 0 1 0 -3.7 0M592.6 533.9a1.85 1.85 0 1 0 3.7 0a1.85 1.85 0 1 0 -3.7 0M595.9 536.4a1.85 1.85 0 1 0 3.7 0a1.85 1.85 0 1 0 -3.7 0M599.4 537.1a1.85 1.85 0 1 0 3.7 0a1.85 1.85 0 1 0 -3.7 0M592.6 536.8a1.85 1.85 0 1 0 3.7 0a1.85 1.85 0 1 0 -3.7 0M595.9 539.6a1.85 1.85 0 1 0 3.7 0a1.85 1.85 0 1 0 -3.7 0M626.5 540.6a1.85 1.85 0 1 0 3.7 0a1.85 1.85 0 1 0 -3.7 0M633.1 542.8a1.85 1.85 0 1 0 3.7 0a1.85 1.85 0 1 0 -3.7 0M433.3 544.3a1.85 1.85 0 1 0 3.7 0a1.85 1.85 0 1 0 -3.7 0M433.3 547.5a1.85 1.85 0 1 0 3.7 0a1.85 1.85 0 1 0 -3.7 0M433.3 550.0a1.85 1.85 0 1 0 3.7 0a1.85 1.85 0 1 0 -3.7 0M440.1 548.7a1.85 1.85 0 1 0 3.7 0a1.85 1.85 0 1 0 -3.7 0M443.5 549.4a1.85 1.85 0 1 0 3.7 0a1.85 1.85 0 1 0 -3.7 0M447.1 544.0a1.85 1.85 0 1 0 3.7 0a1.85 1.85 0 1 0 -3.7 0M450.3 544.9a1.85 1.85 0 1 0 3.7 0a1.85 1.85 0 1 0 -3.7 0M450.3 549.4a1.85 1.85 0 1 0 3.7 0a1.85 1.85 0 1 0 -3.7 0M450.3 551.3a1.85 1.85 0 1 0 3.7 0a1.85 1.85 0 1 0 -3.7 0M460.5 544.9a1.85 1.85 0 1 0 3.7 0a1.85 1.85 0 1 0 -3.7 0M487.6 545.3a1.85 1.85 0 1 0 3.7 0a1.85 1.85 0 1 0 -3.7 0M491.0 545.5a1.85 1.85 0 1 0 3.7 0a1.85 1.85 0 1 0 -3.7 0M491.0 547.5a1.85 1.85 0 1 0 3.7 0a1.85 1.85 0 1 0 -3.7 0M420.1 554.5a1.85 1.85 0 1 0 3.7 0a1.85 1.85 0 1 0 -3.7 0M423.5 561.5a1.85 1.85 0 1 0 3.7 0a1.85 1.85 0 1 0 -3.7 0M429.9 558.3a1.85 1.85 0 1 0 3.7 0a1.85 1.85 0 1 0 -3.7 0M436.9 559.6a1.85 1.85 0 1 0 3.7 0a1.85 1.85 0 1 0 -3.7 0M440.1 555.1a1.85 1.85 0 1 0 3.7 0a1.85 1.85 0 1 0 -3.7 0M440.1 559.6a1.85 1.85 0 1 0 3.7 0a1.85 1.85 0 1 0 -3.7 0M433.3 563.4a1.85 1.85 0 1 0 3.7 0a1.85 1.85 0 1 0 -3.7 0M429.9 567.2a1.85 1.85 0 1 0 3.7 0a1.85 1.85 0 1 0 -3.7 0M433.3 569.1a1.85 1.85 0 1 0 3.7 0a1.85 1.85 0 1 0 -3.7 0M426.7 570.0a1.85 1.85 0 1 0 3.7 0a1.85 1.85 0 1 0 -3.7 0M436.9 572.9a1.85 1.85 0 1 0 3.7 0a1.85 1.85 0 1 0 -3.7 0M423.5 577.1a1.85 1.85 0 1 0 3.7 0a1.85 1.85 0 1 0 -3.7 0M436.9 578.0a1.85 1.85 0 1 0 3.7 0a1.85 1.85 0 1 0 -3.7 0M447.1 561.5a1.85 1.85 0 1 0 3.7 0a1.85 1.85 0 1 0 -3.7 0M447.1 565.3a1.85 1.85 0 1 0 3.7 0a1.85 1.85 0 1 0 -3.7 0M453.7 566.2a1.85 1.85 0 1 0 3.7 0a1.85 1.85 0 1 0 -3.7 0M450.3 571.0a1.85 1.85 0 1 0 3.7 0a1.85 1.85 0 1 0 -3.7 0M443.5 574.9a1.85 1.85 0 1 0 3.7 0a1.85 1.85 0 1 0 -3.7 0M443.5 576.8a1.85 1.85 0 1 0 3.7 0a1.85 1.85 0 1 0 -3.7 0M457.0 555.7a1.85 1.85 0 1 0 3.7 0a1.85 1.85 0 1 0 -3.7 0M460.5 555.5a1.85 1.85 0 1 0 3.7 0a1.85 1.85 0 1 0 -3.7 0M453.7 582.2a1.85 1.85 0 1 0 3.7 0a1.85 1.85 0 1 0 -3.7 0M463.9 569.1a1.85 1.85 0 1 0 3.7 0a1.85 1.85 0 1 0 -3.7 0M463.9 580.3a1.85 1.85 0 1 0 3.7 0a1.85 1.85 0 1 0 -3.7 0M467.2 584.8a1.85 1.85 0 1 0 3.7 0a1.85 1.85 0 1 0 -3.7 0M470.7 582.2a1.85 1.85 0 1 0 3.7 0a1.85 1.85 0 1 0 -3.7 0M473.8 551.9a1.85 1.85 0 1 0 3.7 0a1.85 1.85 0 1 0 -3.7 0M477.4 548.7a1.85 1.85 0 1 0 3.7 0a1.85 1.85 0 1 0 -3.7 0M473.8 555.7a1.85 1.85 0 1 0 3.7 0a1.85 1.85 0 1 0 -3.7 0M477.4 554.7a1.85 1.85 0 1 0 3.7 0a1.85 1.85 0 1 0 -3.7 0M487.6 551.3a1.85 1.85 0 1 0 3.7 0a1.85 1.85 0 1 0 -3.7 0M487.6 559.9a1.85 1.85 0 1 0 3.7 0a1.85 1.85 0 1 0 -3.7 0M494.2 553.8a1.85 1.85 0 1 0 3.7 0a1.85 1.85 0 1 0 -3.7 0M494.2 556.4a1.85 1.85 0 1 0 3.7 0a1.85 1.85 0 1 0 -3.7 0M470.7 564.9a1.85 1.85 0 1 0 3.7 0a1.85 1.85 0 1 0 -3.7 0M473.8 562.8a1.85 1.85 0 1 0 3.7 0a1.85 1.85 0 1 0 -3.7 0M477.4 567.2a1.85 1.85 0 1 0 3.7 0a1.85 1.85 0 1 0 -3.7 0M480.9 564.4a1.85 1.85 0 1 0 3.7 0a1.85 1.85 0 1 0 -3.7 0M484.0 571.7a1.85 1.85 0 1 0 3.7 0a1.85 1.85 0 1 0 -3.7 0M487.6 571.7a1.85 1.85 0 1 0 3.7 0a1.85 1.85 0 1 0 -3.7 0M487.6 574.6a1.85 1.85 0 1 0 3.7 0a1.85 1.85 0 1 0 -3.7 0M491.0 573.3a1.85 1.85 0 1 0 3.7 0a1.85 1.85 0 1 0 -3.7 0M494.2 567.2a1.85 1.85 0 1 0 3.7 0a1.85 1.85 0 1 0 -3.7 0M494.2 577.4a1.85 1.85 0 1 0 3.7 0a1.85 1.85 0 1 0 -3.7 0M480.9 591.4a1.85 1.85 0 1 0 3.7 0a1.85 1.85 0 1 0 -3.7 0M474.1 610.3a1.85 1.85 0 1 0 3.7 0a1.85 1.85 0 1 0 -3.7 0M504.4 545.9a1.85 1.85 0 1 0 3.7 0a1.85 1.85 0 1 0 -3.7 0M507.9 544.9a1.85 1.85 0 1 0 3.7 0a1.85 1.85 0 1 0 -3.7 0M511.4 544.6a1.85 1.85 0 1 0 3.7 0a1.85 1.85 0 1 0 -3.7 0M498.1 550.6a1.85 1.85 0 1 0 3.7 0a1.85 1.85 0 1 0 -3.7 0M501.2 550.0a1.85 1.85 0 1 0 3.7 0a1.85 1.85 0 1 0 -3.7 0M514.6 548.1a1.85 1.85 0 1 0 3.7 0a1.85 1.85 0 1 0 -3.7 0M524.8 547.8a1.85 1.85 0 1 0 3.7 0a1.85 1.85 0 1 0 -3.7 0M524.8 549.4a1.85 1.85 0 1 0 3.7 0a1.85 1.85 0 1 0 -3.7 0M524.8 551.0a1.85 1.85 0 1 0 3.7 0a1.85 1.85 0 1 0 -3.7 0M528.6 547.5a1.85 1.85 0 1 0 3.7 0a1.85 1.85 0 1 0 -3.7 0M531.5 547.8a1.85 1.85 0 1 0 3.7 0a1.85 1.85 0 1 0 -3.7 0M535.0 547.5a1.85 1.85 0 1 0 3.7 0a1.85 1.85 0 1 0 -3.7 0M537.9 547.1a1.85 1.85 0 1 0 3.7 0a1.85 1.85 0 1 0 -3.7 0M537.9 551.6a1.85 1.85 0 1 0 3.7 0a1.85 1.85 0 1 0 -3.7 0M504.4 555.1a1.85 1.85 0 1 0 3.7 0a1.85 1.85 0 1 0 -3.7 0M514.6 554.8a1.85 1.85 0 1 0 3.7 0a1.85 1.85 0 1 0 -3.7 0M518.1 554.1a1.85 1.85 0 1 0 3.7 0a1.85 1.85 0 1 0 -3.7 0M524.8 558.3a1.85 1.85 0 1 0 3.7 0a1.85 1.85 0 1 0 -3.7 0M531.5 553.8a1.85 1.85 0 1 0 3.7 0a1.85 1.85 0 1 0 -3.7 0M531.5 555.7a1.85 1.85 0 1 0 3.7 0a1.85 1.85 0 1 0 -3.7 0M531.5 558.9a1.85 1.85 0 1 0 3.7 0a1.85 1.85 0 1 0 -3.7 0M497.7 561.1a1.85 1.85 0 1 0 3.7 0a1.85 1.85 0 1 0 -3.7 0M504.4 561.1a1.85 1.85 0 1 0 3.7 0a1.85 1.85 0 1 0 -3.7 0M514.6 560.8a1.85 1.85 0 1 0 3.7 0a1.85 1.85 0 1 0 -3.7 0M518.1 562.1a1.85 1.85 0 1 0 3.7 0a1.85 1.85 0 1 0 -3.7 0M507.9 565.6a1.85 1.85 0 1 0 3.7 0a1.85 1.85 0 1 0 -3.7 0M521.6 566.9a1.85 1.85 0 1 0 3.7 0a1.85 1.85 0 1 0 -3.7 0M525.1 568.2a1.85 1.85 0 1 0 3.7 0a1.85 1.85 0 1 0 -3.7 0M501.2 569.1a1.85 1.85 0 1 0 3.7 0a1.85 1.85 0 1 0 -3.7 0M497.7 571.7a1.85 1.85 0 1 0 3.7 0a1.85 1.85 0 1 0 -3.7 0M501.2 572.9a1.85 1.85 0 1 0 3.7 0a1.85 1.85 0 1 0 -3.7 0M511.4 573.2a1.85 1.85 0 1 0 3.7 0a1.85 1.85 0 1 0 -3.7 0M537.9 561.8a1.85 1.85 0 1 0 3.7 0a1.85 1.85 0 1 0 -3.7 0M537.9 572.3a1.85 1.85 0 1 0 3.7 0a1.85 1.85 0 1 0 -3.7 0M497.7 577.7a1.85 1.85 0 1 0 3.7 0a1.85 1.85 0 1 0 -3.7 0M501.2 579.6a1.85 1.85 0 1 0 3.7 0a1.85 1.85 0 1 0 -3.7 0M507.9 580.6a1.85 1.85 0 1 0 3.7 0a1.85 1.85 0 1 0 -3.7 0M531.5 577.7a1.85 1.85 0 1 0 3.7 0a1.85 1.85 0 1 0 -3.7 0M531.5 579.6a1.85 1.85 0 1 0 3.7 0a1.85 1.85 0 1 0 -3.7 0M541.7 544.9a1.85 1.85 0 1 0 3.7 0a1.85 1.85 0 1 0 -3.7 0M565.3 544.6a1.85 1.85 0 1 0 3.7 0a1.85 1.85 0 1 0 -3.7 0M571.9 544.0a1.85 1.85 0 1 0 3.7 0a1.85 1.85 0 1 0 -3.7 0M575.5 546.5a1.85 1.85 0 1 0 3.7 0a1.85 1.85 0 1 0 -3.7 0M575.5 549.0a1.85 1.85 0 1 0 3.7 0a1.85 1.85 0 1 0 -3.7 0M581.2 545.5a1.85 1.85 0 1 0 3.7 0a1.85 1.85 0 1 0 -3.7 0M555.1 551.3a1.85 1.85 0 1 0 3.7 0a1.85 1.85 0 1 0 -3.7 0M551.9 556.1a1.85 1.85 0 1 0 3.7 0a1.85 1.85 0 1 0 -3.7 0M551.9 560.5a1.85 1.85 0 1 0 3.7 0a1.85 1.85 0 1 0 -3.7 0M558.6 556.1a1.85 1.85 0 1 0 3.7 0a1.85 1.85 0 1 0 -3.7 0M561.8 556.1a1.85 1.85 0 1 0 3.7 0a1.85 1.85 0 1 0 -3.7 0M558.6 560.2a1.85 1.85 0 1 0 3.7 0a1.85 1.85 0 1 0 -3.7 0M561.8 560.2a1.85 1.85 0 1 0 3.7 0a1.85 1.85 0 1 0 -3.7 0M565.3 561.1a1.85 1.85 0 1 0 3.7 0a1.85 1.85 0 1 0 -3.7 0M568.8 557.0a1.85 1.85 0 1 0 3.7 0a1.85 1.85 0 1 0 -3.7 0M572.3 557.0a1.85 1.85 0 1 0 3.7 0a1.85 1.85 0 1 0 -3.7 0M575.8 557.3a1.85 1.85 0 1 0 3.7 0a1.85 1.85 0 1 0 -3.7 0M579.0 558.6a1.85 1.85 0 1 0 3.7 0a1.85 1.85 0 1 0 -3.7 0M541.7 558.0a1.85 1.85 0 1 0 3.7 0a1.85 1.85 0 1 0 -3.7 0M541.7 562.8a1.85 1.85 0 1 0 3.7 0a1.85 1.85 0 1 0 -3.7 0M545.2 563.4a1.85 1.85 0 1 0 3.7 0a1.85 1.85 0 1 0 -3.7 0M545.2 565.3a1.85 1.85 0 1 0 3.7 0a1.85 1.85 0 1 0 -3.7 0M545.2 567.2a1.85 1.85 0 1 0 3.7 0a1.85 1.85 0 1 0 -3.7 0M545.2 569.1a1.85 1.85 0 1 0 3.7 0a1.85 1.85 0 1 0 -3.7 0M572.3 562.8a1.85 1.85 0 1 0 3.7 0a1.85 1.85 0 1 0 -3.7 0M572.3 564.3a1.85 1.85 0 1 0 3.7 0a1.85 1.85 0 1 0 -3.7 0M575.5 562.1a1.85 1.85 0 1 0 3.7 0a1.85 1.85 0 1 0 -3.7 0M575.5 564.0a1.85 1.85 0 1 0 3.7 0a1.85 1.85 0 1 0 -3.7 0M575.5 566.6a1.85 1.85 0 1 0 3.7 0a1.85 1.85 0 1 0 -3.7 0M575.5 569.1a1.85 1.85 0 1 0 3.7 0a1.85 1.85 0 1 0 -3.7 0M575.5 571.7a1.85 1.85 0 1 0 3.7 0a1.85 1.85 0 1 0 -3.7 0M581.2 551.3a1.85 1.85 0 1 0 3.7 0a1.85 1.85 0 1 0 -3.7 0M581.2 557.6a1.85 1.85 0 1 0 3.7 0a1.85 1.85 0 1 0 -3.7 0M581.2 563.4a1.85 1.85 0 1 0 3.7 0a1.85 1.85 0 1 0 -3.7 0M581.2 570.4a1.85 1.85 0 1 0 3.7 0a1.85 1.85 0 1 0 -3.7 0M555.1 567.8a1.85 1.85 0 1 0 3.7 0a1.85 1.85 0 1 0 -3.7 0M561.8 570.1a1.85 1.85 0 1 0 3.7 0a1.85 1.85 0 1 0 -3.7 0M568.8 571.0a1.85 1.85 0 1 0 3.7 0a1.85 1.85 0 1 0 -3.7 0M539.8 572.3a1.85 1.85 0 1 0 3.7 0a1.85 1.85 0 1 0 -3.7 0M548.7 573.6a1.85 1.85 0 1 0 3.7 0a1.85 1.85 0 1 0 -3.7 0M545.2 576.4a1.85 1.85 0 1 0 3.7 0a1.85 1.85 0 1 0 -3.7 0M548.7 579.6a1.85 1.85 0 1 0 3.7 0a1.85 1.85 0 1 0 -3.7 0M579.0 579.6a1.85 1.85 0 1 0 3.7 0a1.85 1.85 0 1 0 -3.7 0M581.2 575.5a1.85 1.85 0 1 0 3.7 0a1.85 1.85 0 1 0 -3.7 0M498.1 592.0a1.85 1.85 0 1 0 3.7 0a1.85 1.85 0 1 0 -3.7 0M521.6 592.9a1.85 1.85 0 1 0 3.7 0a1.85 1.85 0 1 0 -3.7 0M535.0 592.9a1.85 1.85 0 1 0 3.7 0a1.85 1.85 0 1 0 -3.7 0M538.4 592.9a1.85 1.85 0 1 0 3.7 0a1.85 1.85 0 1 0 -3.7 0M545.2 596.8a1.85 1.85 0 1 0 3.7 0a1.85 1.85 0 1 0 -3.7 0M558.6 594.3a1.85 1.85 0 1 0 3.7 0a1.85 1.85 0 1 0 -3.7 0M575.5 593.6a1.85 1.85 0 1 0 3.7 0a1.85 1.85 0 1 0 -3.7 0M531.6 611.4a1.85 1.85 0 1 0 3.7 0a1.85 1.85 0 1 0 -3.7 0M524.8 585.3a1.85 1.85 0 1 0 3.7 0a1.85 1.85 0 1 0 -3.7 0M535.0 585.3a1.85 1.85 0 1 0 3.7 0a1.85 1.85 0 1 0 -3.7 0M545.2 587.0a1.85 1.85 0 1 0 3.7 0a1.85 1.85 0 1 0 -3.7 0M551.9 587.9a1.85 1.85 0 1 0 3.7 0a1.85 1.85 0 1 0 -3.7 0M565.6 582.8a1.85 1.85 0 1 0 3.7 0a1.85 1.85 0 1 0 -3.7 0M575.5 584.0a1.85 1.85 0 1 0 3.7 0a1.85 1.85 0 1 0 -3.7 0M599.4 546.8a1.85 1.85 0 1 0 3.7 0a1.85 1.85 0 1 0 -3.7 0M626.5 545.5a1.85 1.85 0 1 0 3.7 0a1.85 1.85 0 1 0 -3.7 0M649.7 544.9a1.85 1.85 0 1 0 3.7 0a1.85 1.85 0 1 0 -3.7 0M633.1 547.8a1.85 1.85 0 1 0 3.7 0a1.85 1.85 0 1 0 -3.7 0M586.0 550.9a1.85 1.85 0 1 0 3.7 0a1.85 1.85 0 1 0 -3.7 0M599.4 553.2a1.85 1.85 0 1 0 3.7 0a1.85 1.85 0 1 0 -3.7 0M609.3 551.3a1.85 1.85 0 1 0 3.7 0a1.85 1.85 0 1 0 -3.7 0M609.3 553.2a1.85 1.85 0 1 0 3.7 0a1.85 1.85 0 1 0 -3.7 0M643.3 548.7a1.85 1.85 0 1 0 3.7 0a1.85 1.85 0 1 0 -3.7 0M643.3 551.3a1.85 1.85 0 1 0 3.7 0a1.85 1.85 0 1 0 -3.7 0M653.5 549.1a1.85 1.85 0 1 0 3.7 0a1.85 1.85 0 1 0 -3.7 0M650.3 555.1a1.85 1.85 0 1 0 3.7 0a1.85 1.85 0 1 0 -3.7 0M586.0 559.6a1.85 1.85 0 1 0 3.7 0a1.85 1.85 0 1 0 -3.7 0M589.2 560.2a1.85 1.85 0 1 0 3.7 0a1.85 1.85 0 1 0 -3.7 0M586.0 563.4a1.85 1.85 0 1 0 3.7 0a1.85 1.85 0 1 0 -3.7 0M596.2 559.6a1.85 1.85 0 1 0 3.7 0a1.85 1.85 0 1 0 -3.7 0M596.2 562.1a1.85 1.85 0 1 0 3.7 0a1.85 1.85 0 1 0 -3.7 0M602.5 560.6a1.85 1.85 0 1 0 3.7 0a1.85 1.85 0 1 0 -3.7 0M609.3 559.3a1.85 1.85 0 1 0 3.7 0a1.85 1.85 0 1 0 -3.7 0M619.7 558.0a1.85 1.85 0 1 0 3.7 0a1.85 1.85 0 1 0 -3.7 0M623.2 559.9a1.85 1.85 0 1 0 3.7 0a1.85 1.85 0 1 0 -3.7 0M619.7 563.4a1.85 1.85 0 1 0 3.7 0a1.85 1.85 0 1 0 -3.7 0M619.7 565.9a1.85 1.85 0 1 0 3.7 0a1.85 1.85 0 1 0 -3.7 0M636.7 558.9a1.85 1.85 0 1 0 3.7 0a1.85 1.85 0 1 0 -3.7 0M593.0 564.7a1.85 1.85 0 1 0 3.7 0a1.85 1.85 0 1 0 -3.7 0M599.4 565.7a1.85 1.85 0 1 0 3.7 0a1.85 1.85 0 1 0 -3.7 0M606.1 566.2a1.85 1.85 0 1 0 3.7 0a1.85 1.85 0 1 0 -3.7 0M589.2 568.5a1.85 1.85 0 1 0 3.7 0a1.85 1.85 0 1 0 -3.7 0M593.0 569.5a1.85 1.85 0 1 0 3.7 0a1.85 1.85 0 1 0 -3.7 0M586.0 570.4a1.85 1.85 0 1 0 3.7 0a1.85 1.85 0 1 0 -3.7 0M586.0 572.3a1.85 1.85 0 1 0 3.7 0a1.85 1.85 0 1 0 -3.7 0M626.5 567.0a1.85 1.85 0 1 0 3.7 0a1.85 1.85 0 1 0 -3.7 0M629.9 570.4a1.85 1.85 0 1 0 3.7 0a1.85 1.85 0 1 0 -3.7 0M633.1 567.0a1.85 1.85 0 1 0 3.7 0a1.85 1.85 0 1 0 -3.7 0M599.4 571.3a1.85 1.85 0 1 0 3.7 0a1.85 1.85 0 1 0 -3.7 0M599.4 574.9a1.85 1.85 0 1 0 3.7 0a1.85 1.85 0 1 0 -3.7 0M606.1 574.2a1.85 1.85 0 1 0 3.7 0a1.85 1.85 0 1 0 -3.7 0M586.0 578.0a1.85 1.85 0 1 0 3.7 0a1.85 1.85 0 1 0 -3.7 0M586.0 579.6a1.85 1.85 0 1 0 3.7 0a1.85 1.85 0 1 0 -3.7 0M595.9 579.6a1.85 1.85 0 1 0 3.7 0a1.85 1.85 0 1 0 -3.7 0M609.3 578.0a1.85 1.85 0 1 0 3.7 0a1.85 1.85 0 1 0 -3.7 0M609.3 581.0a1.85 1.85 0 1 0 3.7 0a1.85 1.85 0 1 0 -3.7 0M609.3 587.3a1.85 1.85 0 1 0 3.7 0a1.85 1.85 0 1 0 -3.7 0M612.7 591.4a1.85 1.85 0 1 0 3.7 0a1.85 1.85 0 1 0 -3.7 0M626.5 576.1a1.85 1.85 0 1 0 3.7 0a1.85 1.85 0 1 0 -3.7 0M633.1 577.1a1.85 1.85 0 1 0 3.7 0a1.85 1.85 0 1 0 -3.7 0M639.9 580.2a1.85 1.85 0 1 0 3.7 0a1.85 1.85 0 1 0 -3.7 0M639.9 585.3a1.85 1.85 0 1 0 3.7 0a1.85 1.85 0 1 0 -3.7 0M653.5 583.1a1.85 1.85 0 1 0 3.7 0a1.85 1.85 0 1 0 -3.7 0M657.1 582.2a1.85 1.85 0 1 0 3.7 0a1.85 1.85 0 1 0 -3.7 0M650.3 590.1a1.85 1.85 0 1 0 3.7 0a1.85 1.85 0 1 0 -3.7 0M582.8 581.2a1.85 1.85 0 1 0 3.7 0a1.85 1.85 0 1 0 -3.7 0M582.8 586.3a1.85 1.85 0 1 0 3.7 0a1.85 1.85 0 1 0 -3.7 0" stroke="#3c3c3c" stroke-width="0.95" fill="none"/>
<path d="M65.6 173.0C70.4 173.2 86.5 173.4 94.5 174.0C102.5 174.6 107.4 175.1 113.8 176.3C120.2 177.6 126.7 179.3 133.1 181.5C139.5 183.7 145.9 186.7 152.3 189.3C158.7 191.9 167.0 195.2 171.6 197.2C176.2 199.2 175.3 199.0 180.0 201.2C184.7 203.4 195.0 208.1 200.0 210.3C205.0 212.5 206.7 213.0 210.0 214.3C213.3 215.6 215.0 216.6 220.0 218.3C225.0 220.1 233.3 223.0 240.0 224.8C246.7 226.6 253.3 228.0 260.0 229.0C266.7 230.0 272.6 230.4 280.0 231.0C287.4 231.6 300.6 232.5 304.7 232.8" stroke="#bb3535" stroke-width="1.4" fill="none" stroke-linecap="round"/>
<path d="M421.5 202.7C426.5 202.8 439.8 203.0 451.4 203.6C462.9 204.2 477.7 205.4 490.8 206.2C503.9 207.0 521.2 208.1 530.2 208.6C539.2 209.1 540.1 209.0 545.0 209.3C549.9 209.6 554.0 209.9 559.7 210.2C565.4 210.5 572.8 210.6 579.4 211.2C586.0 211.8 592.5 213.0 599.1 213.9C605.7 214.8 612.2 215.5 618.8 216.4C625.4 217.3 631.4 218.2 638.5 219.3C645.6 220.4 657.4 222.5 661.2 223.1" stroke="#bb3535" stroke-width="1.4" fill="none" stroke-linecap="round"/>
<path d="M64.9 527.4C66.7 527.2 70.8 526.8 75.9 526.4C81.0 526.0 89.1 525.3 95.7 525.0C102.3 524.7 109.0 524.6 115.6 524.8C122.2 525.0 128.8 525.7 135.4 526.3C142.0 526.9 148.7 527.6 155.3 528.6C161.9 529.6 169.3 530.9 175.1 532.4C180.9 533.9 185.8 536.2 189.9 537.9C194.0 539.6 196.6 541.1 199.9 542.8C203.2 544.4 206.5 546.4 209.8 547.8C213.1 549.2 214.7 549.9 219.7 551.4C224.7 552.9 233.0 554.9 239.6 556.7C246.2 558.5 252.8 560.4 259.4 562.1C266.0 563.8 271.9 564.8 279.3 567.0C286.8 569.2 300.0 573.8 304.1 575.2" stroke="#bb3535" stroke-width="1.4" fill="none" stroke-linecap="round"/>
<path d="M421.5 537.1C426.5 536.8 439.8 536.0 451.4 535.5C462.9 535.0 480.9 534.4 490.8 534.1C500.7 533.8 503.9 533.9 510.5 533.9C517.1 533.9 525.3 534.1 530.2 534.3C535.1 534.5 536.7 534.7 540.0 535.2C543.3 535.7 546.6 536.5 549.9 537.3C553.2 538.0 556.4 539.0 559.7 539.7C563.0 540.4 566.3 541.0 569.6 541.4C572.9 541.8 574.5 541.9 579.4 542.4C584.3 542.9 592.5 543.7 599.1 544.1C605.7 544.5 612.2 544.6 618.8 544.7C625.4 544.9 631.4 544.9 638.5 545.0C645.6 545.1 657.4 545.5 661.2 545.6" stroke="#bb3535" stroke-width="1.4" fill="none" stroke-linecap="round"/>
<path d="M72.6 274.2v5.3 M106.2 274.2v5.3 M139.8 274.2v5.3 M173.4 274.2v5.3 M207.0 274.2v5.3 M240.5 274.2v5.3 M274.1 274.2v5.3 M307.7 274.2v5.3 M56.0 227.1h-5 M56.0 165.3h-5 M56.0 103.5h-5" stroke="#505050" stroke-width="1.1" fill="none"/>
<rect x="56.0" y="46.6" width="258.4" height="227.6" stroke="#6a6a6a" stroke-width="1.8" fill="none"/>
<text x="68.1" y="292.8" font-family='"Liberation Sans", sans-serif' font-size="8.7" fill="#333" stroke="#333" stroke-width="0.25" textLength="8.9" lengthAdjust="spacingAndGlyphs">20</text>
<text x="101.7" y="292.8" font-family='"Liberation Sans", sans-serif' font-size="8.7" fill="#333" stroke="#333" stroke-width="0.25" textLength="8.9" lengthAdjust="spacingAndGlyphs">30</text>
<text x="135.3" y="292.8" font-family='"Liberation Sans", sans-serif' font-size="8.7" fill="#333" stroke="#333" stroke-width="0.25" textLength="8.9" lengthAdjust="spacingAndGlyphs">40</text>
<text x="168.9" y="292.8" font-family='"Liberation Sans", sans-serif' font-size="8.7" fill="#333" stroke="#333" stroke-width="0.25" textLength="8.9" lengthAdjust="spacingAndGlyphs">50</text>
<text x="202.5" y="292.8" font-family='"Liberation Sans", sans-serif' font-size="8.7" fill="#333" stroke="#333" stroke-width="0.25" textLength="8.9" lengthAdjust="spacingAndGlyphs">60</text>
<text x="236.1" y="292.8" font-family='"Liberation Sans", sans-serif' font-size="8.7" fill="#333" stroke="#333" stroke-width="0.25" textLength="8.9" lengthAdjust="spacingAndGlyphs">70</text>
<text x="269.7" y="292.8" font-family='"Liberation Sans", sans-serif' font-size="8.7" fill="#333" stroke="#333" stroke-width="0.25" textLength="8.9" lengthAdjust="spacingAndGlyphs">80</text>
<text x="303.3" y="292.8" font-family='"Liberation Sans", sans-serif' font-size="8.7" fill="#333" stroke="#333" stroke-width="0.25" textLength="8.9" lengthAdjust="spacingAndGlyphs">90</text>
<text x="34.7" y="230.1" font-family='"Liberation Sans", sans-serif' font-size="8.7" fill="#333" stroke="#333" stroke-width="0.25" textLength="11.1" lengthAdjust="spacingAndGlyphs">0.5</text>
<text x="34.7" y="168.3" font-family='"Liberation Sans", sans-serif' font-size="8.7" fill="#333" stroke="#333" stroke-width="0.25" textLength="11.1" lengthAdjust="spacingAndGlyphs">1.0</text>
<text x="34.7" y="106.5" font-family='"Liberation Sans", sans-serif' font-size="8.7" fill="#333" stroke="#333" stroke-width="0.25" textLength="11.1" lengthAdjust="spacingAndGlyphs">1.5</text>
<path d="M432.0 274.6v5.3 M465.7 274.6v5.3 M499.5 274.6v5.3 M533.2 274.6v5.3 M566.9 274.6v5.3 M600.6 274.6v5.3 M634.4 274.6v5.3 M668.1 274.6v5.3 M412.4 226.8h-5 M412.4 164.6h-5 M412.4 102.3h-5" stroke="#505050" stroke-width="1.1" fill="none"/>
<rect x="412.4" y="46.8" width="258.2" height="227.8" stroke="#6a6a6a" stroke-width="1.8" fill="none"/>
<text x="427.6" y="293.2" font-family='"Liberation Sans", sans-serif' font-size="8.7" fill="#333" stroke="#333" stroke-width="0.25" textLength="8.9" lengthAdjust="spacingAndGlyphs">20</text>
<text x="461.3" y="293.2" font-family='"Liberation Sans", sans-serif' font-size="8.7" fill="#333" stroke="#333" stroke-width="0.25" textLength="8.9" lengthAdjust="spacingAndGlyphs">30</text>
<text x="495.0" y="293.2" font-family='"Liberation Sans", sans-serif' font-size="8.7" fill="#333" stroke="#333" stroke-width="0.25" textLength="8.9" lengthAdjust="spacingAndGlyphs">40</text>
<text x="528.7" y="293.2" font-family='"Liberation Sans", sans-serif' font-size="8.7" fill="#333" stroke="#333" stroke-width="0.25" textLength="8.9" lengthAdjust="spacingAndGlyphs">50</text>
<text x="562.5" y="293.2" font-family='"Liberation Sans", sans-serif' font-size="8.7" fill="#333" stroke="#333" stroke-width="0.25" textLength="8.9" lengthAdjust="spacingAndGlyphs">60</text>
<text x="596.2" y="293.2" font-family='"Liberation Sans", sans-serif' font-size="8.7" fill="#333" stroke="#333" stroke-width="0.25" textLength="8.9" lengthAdjust="spacingAndGlyphs">70</text>
<text x="629.9" y="293.2" font-family='"Liberation Sans", sans-serif' font-size="8.7" fill="#333" stroke="#333" stroke-width="0.25" textLength="8.9" lengthAdjust="spacingAndGlyphs">80</text>
<text x="663.7" y="293.2" font-family='"Liberation Sans", sans-serif' font-size="8.7" fill="#333" stroke="#333" stroke-width="0.25" textLength="8.9" lengthAdjust="spacingAndGlyphs">90</text>
<text x="391.1" y="229.8" font-family='"Liberation Sans", sans-serif' font-size="8.7" fill="#333" stroke="#333" stroke-width="0.25" textLength="11.1" lengthAdjust="spacingAndGlyphs">0.5</text>
<text x="391.1" y="167.6" font-family='"Liberation Sans", sans-serif' font-size="8.7" fill="#333" stroke="#333" stroke-width="0.25" textLength="11.1" lengthAdjust="spacingAndGlyphs">1.0</text>
<text x="391.1" y="105.3" font-family='"Liberation Sans", sans-serif' font-size="8.7" fill="#333" stroke="#333" stroke-width="0.25" textLength="11.1" lengthAdjust="spacingAndGlyphs">1.5</text>
<path d="M72.3 619.0v5.3 M105.8 619.0v5.3 M139.3 619.0v5.3 M172.8 619.0v5.3 M206.3 619.0v5.3 M239.8 619.0v5.3 M273.3 619.0v5.3 M306.8 619.0v5.3 M55.8 586.8h-5 M55.8 542.4h-5 M55.8 498.0h-5 M55.8 453.7h-5 M55.8 409.3h-5" stroke="#505050" stroke-width="1.1" fill="none"/>
<rect x="55.8" y="390.9" width="258.4" height="228.1" stroke="#6a6a6a" stroke-width="1.8" fill="none"/>
<text x="67.8" y="636.6" font-family='"Liberation Sans", sans-serif' font-size="8.7" fill="#333" stroke="#333" stroke-width="0.25" textLength="8.9" lengthAdjust="spacingAndGlyphs">20</text>
<text x="101.3" y="636.6" font-family='"Liberation Sans", sans-serif' font-size="8.7" fill="#333" stroke="#333" stroke-width="0.25" textLength="8.9" lengthAdjust="spacingAndGlyphs">30</text>
<text x="134.9" y="636.6" font-family='"Liberation Sans", sans-serif' font-size="8.7" fill="#333" stroke="#333" stroke-width="0.25" textLength="8.9" lengthAdjust="spacingAndGlyphs">40</text>
<text x="168.4" y="636.6" font-family='"Liberation Sans", sans-serif' font-size="8.7" fill="#333" stroke="#333" stroke-width="0.25" textLength="8.9" lengthAdjust="spacingAndGlyphs">50</text>
<text x="201.9" y="636.6" font-family='"Liberation Sans", sans-serif' font-size="8.7" fill="#333" stroke="#333" stroke-width="0.25" textLength="8.9" lengthAdjust="spacingAndGlyphs">60</text>
<text x="235.4" y="636.6" font-family='"Liberation Sans", sans-serif' font-size="8.7" fill="#333" stroke="#333" stroke-width="0.25" textLength="8.9" lengthAdjust="spacingAndGlyphs">70</text>
<text x="268.9" y="636.6" font-family='"Liberation Sans", sans-serif' font-size="8.7" fill="#333" stroke="#333" stroke-width="0.25" textLength="8.9" lengthAdjust="spacingAndGlyphs">80</text>
<text x="302.4" y="636.6" font-family='"Liberation Sans", sans-serif' font-size="8.7" fill="#333" stroke="#333" stroke-width="0.25" textLength="8.9" lengthAdjust="spacingAndGlyphs">90</text>
<text x="34.5" y="589.8" font-family='"Liberation Sans", sans-serif' font-size="8.7" fill="#333" stroke="#333" stroke-width="0.25" textLength="11.1" lengthAdjust="spacingAndGlyphs">0.5</text>
<text x="34.5" y="545.4" font-family='"Liberation Sans", sans-serif' font-size="8.7" fill="#333" stroke="#333" stroke-width="0.25" textLength="11.1" lengthAdjust="spacingAndGlyphs">1.0</text>
<text x="34.5" y="501.0" font-family='"Liberation Sans", sans-serif' font-size="8.7" fill="#333" stroke="#333" stroke-width="0.25" textLength="11.1" lengthAdjust="spacingAndGlyphs">1.5</text>
<text x="34.5" y="456.7" font-family='"Liberation Sans", sans-serif' font-size="8.7" fill="#333" stroke="#333" stroke-width="0.25" textLength="11.1" lengthAdjust="spacingAndGlyphs">2.0</text>
<text x="34.5" y="412.3" font-family='"Liberation Sans", sans-serif' font-size="8.7" fill="#333" stroke="#333" stroke-width="0.25" textLength="11.1" lengthAdjust="spacingAndGlyphs">2.5</text>
<path d="M431.4 619.6v5.3 M465.1 619.6v5.3 M498.9 619.6v5.3 M532.6 619.6v5.3 M566.3 619.6v5.3 M600.0 619.6v5.3 M633.8 619.6v5.3 M667.5 619.6v5.3 M412.1 590.4h-5 M412.1 546.9h-5 M412.1 503.4h-5 M412.1 460.0h-5 M412.1 416.5h-5" stroke="#505050" stroke-width="1.1" fill="none"/>
<rect x="412.1" y="391.2" width="259.2" height="228.4" stroke="#6a6a6a" stroke-width="1.8" fill="none"/>
<text x="426.9" y="638.2" font-family='"Liberation Sans", sans-serif' font-size="8.7" fill="#333" stroke="#333" stroke-width="0.25" textLength="8.9" lengthAdjust="spacingAndGlyphs">20</text>
<text x="460.7" y="638.2" font-family='"Liberation Sans", sans-serif' font-size="8.7" fill="#333" stroke="#333" stroke-width="0.25" textLength="8.9" lengthAdjust="spacingAndGlyphs">30</text>
<text x="494.4" y="638.2" font-family='"Liberation Sans", sans-serif' font-size="8.7" fill="#333" stroke="#333" stroke-width="0.25" textLength="8.9" lengthAdjust="spacingAndGlyphs">40</text>
<text x="528.1" y="638.2" font-family='"Liberation Sans", sans-serif' font-size="8.7" fill="#333" stroke="#333" stroke-width="0.25" textLength="8.9" lengthAdjust="spacingAndGlyphs">50</text>
<text x="561.9" y="638.2" font-family='"Liberation Sans", sans-serif' font-size="8.7" fill="#333" stroke="#333" stroke-width="0.25" textLength="8.9" lengthAdjust="spacingAndGlyphs">60</text>
<text x="595.6" y="638.2" font-family='"Liberation Sans", sans-serif' font-size="8.7" fill="#333" stroke="#333" stroke-width="0.25" textLength="8.9" lengthAdjust="spacingAndGlyphs">70</text>
<text x="629.3" y="638.2" font-family='"Liberation Sans", sans-serif' font-size="8.7" fill="#333" stroke="#333" stroke-width="0.25" textLength="8.9" lengthAdjust="spacingAndGlyphs">80</text>
<text x="663.1" y="638.2" font-family='"Liberation Sans", sans-serif' font-size="8.7" fill="#333" stroke="#333" stroke-width="0.25" textLength="8.9" lengthAdjust="spacingAndGlyphs">90</text>
<text x="390.8" y="593.4" font-family='"Liberation Sans", sans-serif' font-size="8.7" fill="#333" stroke="#333" stroke-width="0.25" textLength="11.1" lengthAdjust="spacingAndGlyphs">0.5</text>
<text x="390.8" y="549.9" font-family='"Liberation Sans", sans-serif' font-size="8.7" fill="#333" stroke="#333" stroke-width="0.25" textLength="11.1" lengthAdjust="spacingAndGlyphs">1.0</text>
<text x="390.8" y="506.4" font-family='"Liberation Sans", sans-serif' font-size="8.7" fill="#333" stroke="#333" stroke-width="0.25" textLength="11.1" lengthAdjust="spacingAndGlyphs">1.5</text>
<text x="390.8" y="463.0" font-family='"Liberation Sans", sans-serif' font-size="8.7" fill="#333" stroke="#333" stroke-width="0.25" textLength="11.1" lengthAdjust="spacingAndGlyphs">2.0</text>
<text x="390.8" y="419.5" font-family='"Liberation Sans", sans-serif' font-size="8.7" fill="#333" stroke="#333" stroke-width="0.25" textLength="11.1" lengthAdjust="spacingAndGlyphs">2.5</text>
<text x="1.2" y="12.9" font-family='"Liberation Serif", serif' font-size="16" font-weight="bold" font-style="normal" text-anchor="start" fill="#000" textLength="18.9" lengthAdjust="spacingAndGlyphs">(a)</text>
<text x="355.4" y="13.6" font-family='"Liberation Serif", serif' font-size="16" font-weight="bold" font-style="normal" text-anchor="start" fill="#000" textLength="20.1" lengthAdjust="spacingAndGlyphs">(b)</text>
<text x="1.2" y="360.6" font-family='"Liberation Serif", serif' font-size="16" font-weight="bold" font-style="normal" text-anchor="start" fill="#000" textLength="18.4" lengthAdjust="spacingAndGlyphs">(c)</text>
<text x="355.4" y="360.6" font-family='"Liberation Serif", serif' font-size="16" font-weight="bold" font-style="normal" text-anchor="start" fill="#000" textLength="20.1" lengthAdjust="spacingAndGlyphs">(d)</text>
<text x="169.6" y="19.8" font-family='"Liberation Sans", sans-serif' font-size="12.8" font-weight="bold" font-style="italic" text-anchor="start" fill="#000" textLength="25.5" lengthAdjust="spacingAndGlyphs">CON</text>
<text x="531.5" y="20.3" font-family='"Liberation Sans", sans-serif' font-size="12.8" font-weight="bold" font-style="italic" text-anchor="start" fill="#000" textLength="14.9" lengthAdjust="spacingAndGlyphs">SC</text>
<text x="169.6" y="365.09999999999997" font-family='"Liberation Sans", sans-serif' font-size="12.8" font-weight="bold" font-style="italic" text-anchor="start" fill="#000" textLength="25.5" lengthAdjust="spacingAndGlyphs">CON</text>
<text x="531.5" y="365.3" font-family='"Liberation Sans", sans-serif' font-size="12.8" font-weight="bold" font-style="italic" text-anchor="start" fill="#000" textLength="14.9" lengthAdjust="spacingAndGlyphs">SC</text>
<text x="160.1" y="37.7" font-family='"Liberation Sans", sans-serif' font-size="13.0" font-weight="bold" font-style="italic" text-anchor="start" fill="#000" textLength="45.3" lengthAdjust="spacingAndGlyphs">(n=535)</text>
<text x="517.8" y="37.7" font-family='"Liberation Sans", sans-serif' font-size="13.0" font-weight="bold" font-style="italic" text-anchor="start" fill="#000" textLength="45.0" lengthAdjust="spacingAndGlyphs">(n=508)</text>
<text x="160.1" y="383.0" font-family='"Liberation Sans", sans-serif' font-size="13.0" font-weight="bold" font-style="italic" text-anchor="start" fill="#000" textLength="45.3" lengthAdjust="spacingAndGlyphs">(n=535)</text>
<text x="517.8" y="383.0" font-family='"Liberation Sans", sans-serif' font-size="13.0" font-weight="bold" font-style="italic" text-anchor="start" fill="#000" textLength="45.0" lengthAdjust="spacingAndGlyphs">(n=508)</text>
<text x="247.7" y="74.0" font-family='"Liberation Sans", sans-serif' font-size="10.3" font-weight="normal" font-style="normal" text-anchor="start" fill="#111" textLength="53.1" lengthAdjust="spacingAndGlyphs">p = 6.8 × 10</text>
<text x="301.4" y="68.9" font-family='"Liberation Sans", sans-serif' font-size="6.8" font-weight="normal" font-style="normal" text-anchor="start" fill="#111" textLength="10.6" lengthAdjust="spacingAndGlyphs">-33</text>
<text x="247.7" y="88.0" font-family='"Liberation Sans", sans-serif' font-size="10.3" font-weight="normal" font-style="normal" text-anchor="start" fill="#111" textLength="51.9" lengthAdjust="spacingAndGlyphs">r = -0.4849</text>
<text x="614.2" y="73.7" font-family='"Liberation Sans", sans-serif' font-size="10.3" font-weight="normal" font-style="normal" text-anchor="start" fill="#111" textLength="50.7" lengthAdjust="spacingAndGlyphs">p = 0.0038</text>
<text x="614.2" y="88.0" font-family='"Liberation Sans", sans-serif' font-size="10.3" font-weight="normal" font-style="normal" text-anchor="start" fill="#111" textLength="51.9" lengthAdjust="spacingAndGlyphs">r = -0.1282</text>
<text x="247.7" y="418.8" font-family='"Liberation Sans", sans-serif' font-size="10.3" font-weight="normal" font-style="normal" text-anchor="start" fill="#111" textLength="53.1" lengthAdjust="spacingAndGlyphs">p = 4.3 × 10</text>
<text x="301.4" y="413.6" font-family='"Liberation Sans", sans-serif' font-size="6.8" font-weight="normal" font-style="normal" text-anchor="start" fill="#111" textLength="10.6" lengthAdjust="spacingAndGlyphs">-20</text>
<text x="247.7" y="432.5" font-family='"Liberation Sans", sans-serif' font-size="10.3" font-weight="normal" font-style="normal" text-anchor="start" fill="#111" textLength="51.9" lengthAdjust="spacingAndGlyphs">r = -0.3830</text>
<text x="614.2" y="418.1" font-family='"Liberation Sans", sans-serif' font-size="10.3" font-weight="normal" font-style="normal" text-anchor="start" fill="#111" textLength="50.7" lengthAdjust="spacingAndGlyphs">p = 0.1020</text>
<text x="614.2" y="431.9" font-family='"Liberation Sans", sans-serif' font-size="10.3" font-weight="normal" font-style="normal" text-anchor="start" fill="#111" textLength="51.9" lengthAdjust="spacingAndGlyphs">r = -0.0727</text>
<text x="168.4" y="318.2" font-family='"Liberation Sans", sans-serif' font-size="12.6" font-weight="normal" font-style="normal" text-anchor="start" fill="#111" textLength="21.3" lengthAdjust="spacingAndGlyphs">Age</text>
<text x="527.5" y="318.2" font-family='"Liberation Sans", sans-serif' font-size="12.6" font-weight="normal" font-style="normal" text-anchor="start" fill="#111" textLength="21.3" lengthAdjust="spacingAndGlyphs">Age</text>
<text transform="translate(16.8,210.4) rotate(-90)" x="0" y="0" font-family='"Liberation Sans", sans-serif' font-size="13" fill="#111" textLength="95.9" lengthAdjust="spacingAndGlyphs">Telomere length</text>
<text transform="translate(374.0,210.2) rotate(-90)" x="0" y="0" font-family='"Liberation Sans", sans-serif' font-size="13" fill="#111" textLength="95.9" lengthAdjust="spacingAndGlyphs">Telomere length</text>
<text transform="translate(18.1,569.0) rotate(-90)" x="0" y="0" font-family='"Liberation Sans", sans-serif' font-size="13.4" fill="#111" textLength="124.2" lengthAdjust="spacingAndGlyphs">mtDNA copy number</text>
<text transform="translate(375.2,568.9) rotate(-90)" x="0" y="0" font-family='"Liberation Sans", sans-serif' font-size="13.4" fill="#111" textLength="122.5" lengthAdjust="spacingAndGlyphs">mtDNA copy number</text>
</svg></body></html>
